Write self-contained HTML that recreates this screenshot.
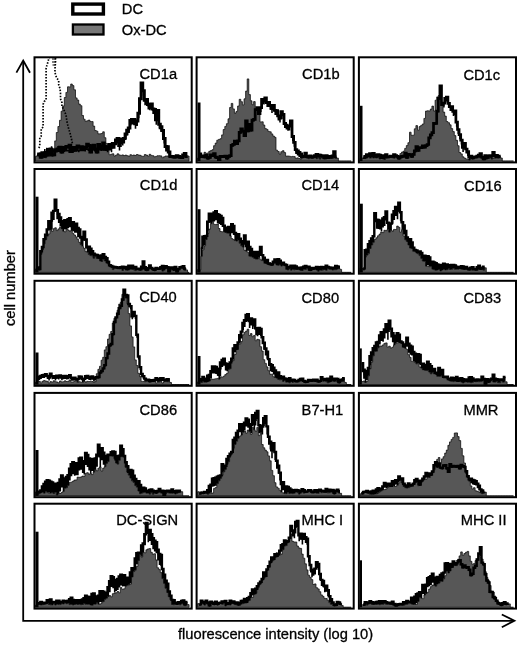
<!DOCTYPE html>
<html><head><meta charset="utf-8"><style>
html,body{margin:0;padding:0;background:#fff;overflow:hidden;width:520px;height:645px;}
svg{display:block;filter:grayscale(1);}
text{font-family:"Liberation Sans",sans-serif;fill:#000;stroke:#000;stroke-width:0.3px;}
.lb{font-size:14.7px;}
</style></head><body>
<svg width="520" height="645" viewBox="0 0 520 645">
<rect x="0" y="0" width="520" height="645" fill="#fff"/>
<!-- legend -->
<rect x="72.8" y="4.1" width="30.6" height="9.9" fill="#fff" stroke="#000" stroke-width="3.4"/>
<rect x="72.9" y="24.5" width="30.6" height="10.0" fill="#777" stroke="#000" stroke-width="2.3"/>
<text x="121.8" y="14.3" style="font-size:14.7px">DC</text>
<text x="121.8" y="34.6" style="font-size:14.7px">Ox-DC</text>
<!-- axes -->
<path d="M23.2,61 L23.2,620.8 L514,620.8" fill="none" stroke="#000" stroke-width="1.8"/>
<path d="M16.4,72.6 L23.2,60.6 L30,72.8" fill="none" stroke="#000" stroke-width="1.8"/>
<path d="M501.8,614.5 L514.4,620.8 L501.8,627.2" fill="none" stroke="#000" stroke-width="1.8"/>
<text x="178" y="638.8" style="font-size:14.7px">fluorescence intensity (log 10)</text>
<text transform="translate(14.8,326) rotate(-90)" style="font-size:14.7px">cell number</text>
<g>
<rect x="34.5" y="57.3" width="157.2" height="105.1" fill="#fff" stroke="none"/>
<polygon points="35.5,161.1 35.5,156.3 37.1,156.3 37.1,154.9 38.7,154.9 38.7,154.7 40.3,154.7 40.3,155.9 41.9,155.9 41.9,155.5 43.5,155.5 43.5,156.2 45.1,156.2 45.1,157.7 46.7,157.7 46.7,155.5 48.3,155.5 48.3,155.7 49.9,155.7 49.9,156.2 51.5,156.2 51.5,156.4 53.1,156.4 53.1,148.4 54.7,148.4 54.7,140.9 56.3,140.9 56.3,132.5 57.9,132.5 57.9,126.5 59.5,126.5 59.5,120.3 61.1,120.3 61.1,111.2 62.7,111.2 62.7,106.0 64.3,106.0 64.3,97.5 65.9,97.5 65.9,92.4 67.5,92.4 67.5,86.8 69.1,86.8 69.1,86.9 70.7,86.9 70.7,84.0 72.3,84.0 72.3,85.6 73.9,85.6 73.9,89.8 75.5,89.8 75.5,97.9 77.1,97.9 77.1,100.0 78.7,100.0 78.7,104.1 80.3,104.1 80.3,105.7 81.9,105.7 81.9,115.5 83.5,115.5 83.5,119.2 85.1,119.2 85.1,121.3 86.7,121.3 86.7,120.8 88.3,120.8 88.3,120.1 89.9,120.1 89.9,121.5 91.5,121.5 91.5,121.6 93.1,121.6 93.1,126.1 94.7,126.1 94.7,130.5 96.3,130.5 96.3,131.2 97.9,131.2 97.9,133.8 99.5,133.8 99.5,133.8 101.1,133.8 101.1,133.5 102.7,133.5 102.7,131.8 104.3,131.8 104.3,137.7 105.9,137.7 105.9,143.4 107.5,143.4 107.5,146.6 109.1,146.6 109.1,154.7 110.7,154.7 110.7,154.2 112.3,154.2 112.3,153.8 113.9,153.8 113.9,156.0 115.5,156.0 115.5,155.2 117.1,155.2 117.1,153.8 118.7,153.8 118.7,154.9 120.3,154.9 120.3,155.4 121.9,155.4 121.9,154.9 123.5,154.9 123.5,155.6 125.1,155.6 125.1,155.1 126.7,155.1 126.7,155.7 128.3,155.7 128.3,156.3 129.9,156.3 129.9,154.7 131.5,154.7 131.5,155.4 133.1,155.4 133.1,155.0 134.7,155.0 134.7,155.5 136.3,155.5 136.3,154.5 137.9,154.5 137.9,155.0 139.5,155.0 139.5,155.3 141.1,155.3 141.1,156.2 142.7,156.2 142.7,156.4 144.3,156.4 144.3,154.6 145.9,154.6 145.9,155.1 147.5,155.1 147.5,156.2 149.1,156.2 149.1,154.3 150.7,154.3 150.7,155.4 152.3,155.4 152.3,155.7 153.9,155.7 153.9,156.8 155.5,156.8 155.5,156.4 157.1,156.4 157.1,155.7 158.7,155.7 158.7,155.7 160.3,155.7 160.3,155.9 161.9,155.9 161.9,157.7 163.5,157.7 163.5,156.8 165.1,156.8 165.1,156.0 166.7,156.0 166.7,156.0 168.3,156.0 168.3,156.6 169.9,156.6 169.9,156.5 171.5,156.5 171.5,155.4 173.1,155.4 173.1,156.0 174.7,156.0 174.7,156.1 176.3,156.1 176.3,155.4 177.9,155.4 177.9,156.3 179.5,156.3 179.5,155.5 181.1,155.5 181.1,156.8 182.7,156.8 182.7,156.2 184.3,156.2 184.3,156.2 185.9,156.2 185.9,155.7 187.5,155.7 187.5,156.0 189.1,156.0 189.1,161.1" fill="#575757" stroke="#000" stroke-width="0.7"/>
<polygon points="37.1,154.6 38.7,154.6 38.7,153.9 40.3,153.9 40.3,157.2 41.9,157.2 41.9,152.7 43.5,152.7 43.5,156.2 45.1,156.2 45.1,152.6 46.7,152.6 46.7,155.1 48.3,155.1 48.3,153.2 49.9,153.2 49.9,149.1 51.5,149.1 51.5,154.8 53.1,154.8 53.1,154.8 54.7,154.8 54.7,150.9 56.3,150.9 56.3,150.0 57.9,150.0 57.9,149.7 59.5,149.7 59.5,147.3 61.1,147.3 61.1,151.9 62.7,151.9 62.7,147.4 64.3,147.4 64.3,148.4 65.9,148.4 65.9,146.5 67.5,146.5 67.5,146.9 69.1,146.9 69.1,145.2 70.7,145.2 70.7,151.6 72.3,151.6 72.3,147.6 73.9,147.6 73.9,150.2 75.5,150.2 75.5,147.6 77.1,147.6 77.1,146.0 78.7,146.0 78.7,147.2 80.3,147.2 80.3,146.8 81.9,146.8 81.9,148.5 83.5,148.5 83.5,147.3 85.1,147.3 85.1,147.3 86.7,147.3 86.7,144.3 88.3,144.3 88.3,145.6 89.9,145.6 89.9,151.9 91.5,151.9 91.5,146.0 93.1,146.0 93.1,145.3 94.7,145.3 94.7,149.1 96.3,149.1 96.3,152.1 97.9,152.1 97.9,144.5 99.5,144.5 99.5,147.5 101.1,147.5 101.1,146.1 102.7,146.1 102.7,142.9 104.3,142.9 104.3,149.3 105.9,149.3 105.9,147.0 107.5,147.0 107.5,147.0 109.1,147.0 109.1,144.6 110.7,144.6 110.7,147.3 112.3,147.3 112.3,143.6 113.9,143.6 113.9,143.7 115.5,143.7 115.5,139.9 117.1,139.9 117.1,138.6 118.7,138.6 118.7,145.4 120.3,145.4 120.3,138.9 121.9,138.9 121.9,140.6 123.5,140.6 123.5,138.5 125.1,138.5 125.1,133.9 126.7,133.9 126.7,130.2 128.3,130.2 128.3,128.0 129.9,128.0 129.9,120.4 131.5,120.4 131.5,119.4 133.1,119.4 133.1,119.5 134.7,119.5 134.7,123.7 136.3,123.7 136.3,121.1 137.9,121.1 137.9,113.2 139.5,113.2 139.5,98.8 141.1,98.8 141.1,82.9 142.7,82.9 142.7,90.8 144.3,90.8 144.3,100.3 145.9,100.3 145.9,99.5 147.5,99.5 147.5,104.4 149.1,104.4 149.1,105.3 150.7,105.3 150.7,104.0 152.3,104.0 152.3,108.9 153.9,108.9 153.9,109.5 155.5,109.5 155.5,119.7 157.1,119.7 157.1,110.6 158.7,110.6 158.7,124.2 160.3,124.2 160.3,126.7 161.9,126.7 161.9,130.5 163.5,130.5 163.5,138.5 165.1,138.5 165.1,146.6 166.7,146.6 166.7,146.7 168.3,146.7 168.3,151.9 169.9,151.9 169.9,156.5 171.5,156.5 171.5,156.4 173.1,156.4 173.1,157.0 174.7,157.0 174.7,156.9 176.3,156.9 176.3,155.7 177.9,155.7 177.9,156.6 179.5,156.6 179.5,157.3 181.1,157.3 181.1,157.5 182.7,157.5 182.7,155.1 184.3,155.1 184.3,153.5 185.9,153.5 185.9,156.4 187.5,156.4 187.5,157.9 185.9,157.9 185.9,156.2 184.3,156.2 184.3,156.5 182.7,156.5 182.7,158.9 181.1,158.9 181.1,158.7 179.5,158.7 179.5,158.1 177.9,158.1 177.9,157.2 176.3,157.2 176.3,158.4 174.7,158.4 174.7,158.5 173.1,158.5 173.1,157.8 171.5,157.8 171.5,157.9 169.9,157.9 169.9,156.6 168.3,156.6 168.3,151.7 166.7,151.7 166.7,151.6 165.1,151.6 165.1,143.5 163.5,143.5 163.5,135.5 161.9,135.5 161.9,131.7 160.3,131.7 160.3,129.2 158.7,129.2 158.7,115.6 157.1,115.6 157.1,124.7 155.5,124.7 155.5,114.5 153.9,114.5 153.9,113.9 152.3,113.9 152.3,109.0 150.7,109.0 150.7,110.3 149.1,110.3 149.1,109.4 147.5,109.4 147.5,104.5 145.9,104.5 145.9,105.3 144.3,105.3 144.3,95.8 142.7,95.8 142.7,87.9 141.1,87.9 141.1,103.8 139.5,103.8 139.5,118.2 137.9,118.2 137.9,126.1 136.3,126.1 136.3,128.7 134.7,128.7 134.7,124.5 133.1,124.5 133.1,124.4 131.5,124.4 131.5,125.4 129.9,125.4 129.9,133.0 128.3,133.0 128.3,135.2 126.7,135.2 126.7,138.9 125.1,138.9 125.1,143.5 123.5,143.5 123.5,145.6 121.9,145.6 121.9,143.9 120.3,143.9 120.3,150.4 118.7,150.4 118.7,143.6 117.1,143.6 117.1,144.9 115.5,144.9 115.5,148.7 113.9,148.7 113.9,148.6 112.3,148.6 112.3,152.3 110.7,152.3 110.7,149.6 109.1,149.6 109.1,148.5 107.5,148.5 107.5,148.5 105.9,148.5 105.9,150.7 104.3,150.7 104.3,144.4 102.7,144.4 102.7,147.6 101.1,147.6 101.1,148.9 99.5,148.9 99.5,145.9 97.9,145.9 97.9,153.5 96.3,153.5 96.3,150.6 94.7,150.6 94.7,146.7 93.1,146.7 93.1,147.4 91.5,147.4 91.5,153.3 89.9,153.3 89.9,147.0 88.3,147.0 88.3,145.8 86.7,145.8 86.7,148.8 85.1,148.8 85.1,148.8 83.5,148.8 83.5,149.9 81.9,149.9 81.9,148.3 80.3,148.3 80.3,148.6 78.7,148.6 78.7,147.4 77.1,147.4 77.1,149.0 75.5,149.0 75.5,151.7 73.9,151.7 73.9,149.1 72.3,149.1 72.3,153.0 70.7,153.0 70.7,146.7 69.1,146.7 69.1,148.3 67.5,148.3 67.5,147.9 65.9,147.9 65.9,149.8 64.3,149.8 64.3,148.9 62.7,148.9 62.7,153.4 61.1,153.4 61.1,148.7 59.5,148.7 59.5,151.2 57.9,151.2 57.9,151.4 56.3,151.4 56.3,152.4 54.7,152.4 54.7,156.2 53.1,156.2 53.1,156.4 51.5,156.4 51.5,154.1 49.9,154.1 49.9,155.7 48.3,155.7 48.3,156.5 46.7,156.5 46.7,157.6 45.1,157.6 45.1,157.7 43.5,157.7 43.5,155.5 41.9,155.5 41.9,158.6 40.3,158.6 40.3,155.4 38.7,155.4 38.7,156.1 37.1,156.1" fill="#000"/>
<polyline points="37.1,154.6 38.7,154.6 38.7,153.9 40.3,153.9 40.3,157.2 41.9,157.2 41.9,152.7 43.5,152.7 43.5,156.2 45.1,156.2 45.1,152.6 46.7,152.6 46.7,155.1 48.3,155.1 48.3,153.2 49.9,153.2 49.9,149.1 51.5,149.1 51.5,154.8 53.1,154.8 53.1,154.8 54.7,154.8 54.7,150.9 56.3,150.9 56.3,150.0 57.9,150.0 57.9,149.7 59.5,149.7 59.5,147.3 61.1,147.3 61.1,151.9 62.7,151.9 62.7,147.4 64.3,147.4 64.3,148.4 65.9,148.4 65.9,146.5 67.5,146.5 67.5,146.9 69.1,146.9 69.1,145.2 70.7,145.2 70.7,151.6 72.3,151.6 72.3,147.6 73.9,147.6 73.9,150.2 75.5,150.2 75.5,147.6 77.1,147.6 77.1,146.0 78.7,146.0 78.7,147.2 80.3,147.2 80.3,146.8 81.9,146.8 81.9,148.5 83.5,148.5 83.5,147.3 85.1,147.3 85.1,147.3 86.7,147.3 86.7,144.3 88.3,144.3 88.3,145.6 89.9,145.6 89.9,151.9 91.5,151.9 91.5,146.0 93.1,146.0 93.1,145.3 94.7,145.3 94.7,149.1 96.3,149.1 96.3,152.1 97.9,152.1 97.9,144.5 99.5,144.5 99.5,147.5 101.1,147.5 101.1,146.1 102.7,146.1 102.7,142.9 104.3,142.9 104.3,149.3 105.9,149.3 105.9,147.0 107.5,147.0 107.5,147.0 109.1,147.0 109.1,144.6 110.7,144.6 110.7,147.3 112.3,147.3 112.3,143.6 113.9,143.6 113.9,143.7 115.5,143.7 115.5,139.9 117.1,139.9 117.1,138.6 118.7,138.6 118.7,145.4 120.3,145.4 120.3,138.9 121.9,138.9 121.9,140.6 123.5,140.6 123.5,138.5 125.1,138.5 125.1,133.9 126.7,133.9 126.7,130.2 128.3,130.2 128.3,128.0 129.9,128.0 129.9,120.4 131.5,120.4 131.5,119.4 133.1,119.4 133.1,119.5 134.7,119.5 134.7,123.7 136.3,123.7 136.3,121.1 137.9,121.1 137.9,113.2 139.5,113.2 139.5,98.8 141.1,98.8 141.1,82.9 142.7,82.9 142.7,90.8 144.3,90.8 144.3,100.3 145.9,100.3 145.9,99.5 147.5,99.5 147.5,104.4 149.1,104.4 149.1,105.3 150.7,105.3 150.7,104.0 152.3,104.0 152.3,108.9 153.9,108.9 153.9,109.5 155.5,109.5 155.5,119.7 157.1,119.7 157.1,110.6 158.7,110.6 158.7,124.2 160.3,124.2 160.3,126.7 161.9,126.7 161.9,130.5 163.5,130.5 163.5,138.5 165.1,138.5 165.1,146.6 166.7,146.6 166.7,146.7 168.3,146.7 168.3,151.9 169.9,151.9 169.9,156.5 171.5,156.5 171.5,156.4 173.1,156.4 173.1,157.0 174.7,157.0 174.7,156.9 176.3,156.9 176.3,155.7 177.9,155.7 177.9,156.6 179.5,156.6 179.5,157.3 181.1,157.3 181.1,157.5 182.7,157.5 182.7,155.1 184.3,155.1 184.3,153.5 185.9,153.5 185.9,156.4 187.5,156.4" fill="none" stroke="#000" stroke-width="3.0" stroke-linejoin="miter"/>
<polygon points="36.0,157.6 37.6,157.6 37.6,153.9 39.2,153.9 39.2,152.6 40.8,152.6 40.8,152.5 42.4,152.5 42.4,152.3 44.0,152.3 44.0,149.1 45.6,149.1 45.6,153.7 44.0,153.7 44.0,153.2 42.4,153.2 42.4,155.6 40.8,155.6 40.8,157.1 39.2,157.1 39.2,156.6 37.6,156.6 37.6,157.6 36.0,157.6" fill="#000"/>
<polygon points="46.0,147.7 47.6,147.7 47.6,148.0 49.2,148.0 49.2,148.3 50.8,148.3 50.8,146.2 52.4,146.2 52.4,149.2 54.0,149.2 54.0,148.5 55.6,148.5 55.6,147.6 57.2,147.6 57.2,145.9 58.8,145.9 58.8,149.0 60.4,149.0 60.4,146.5 62.0,146.5 62.0,146.4 63.6,146.4 63.6,146.4 65.2,146.4 65.2,145.7 66.8,145.7 66.8,149.9 68.4,149.9 68.4,147.1 70.0,147.1 70.0,147.2 71.6,147.2 71.6,149.0 73.2,149.0 73.2,148.0 74.8,148.0 74.8,146.4 76.4,146.4 76.4,147.4 78.0,147.4 78.0,149.3 79.6,149.3 79.6,147.1 81.2,147.1 81.2,148.1 82.8,148.1 82.8,145.4 84.4,145.4 84.4,148.1 86.0,148.1 86.0,148.3 87.6,148.3 87.6,148.5 89.2,148.5 89.2,147.7 90.8,147.7 90.8,146.8 92.4,146.8 92.4,144.6 94.0,144.6 94.0,147.1 95.6,147.1 95.6,147.9 97.2,147.9 97.2,145.8 98.8,145.8 98.8,146.1 100.4,146.1 100.4,146.9 102.0,146.9 102.0,147.6 103.6,147.6 103.6,148.6 105.2,148.6 105.2,145.0 106.8,145.0 106.8,145.5 108.4,145.5 108.4,147.7 110.0,147.7 110.0,147.0 111.6,147.0 111.6,150.4 110.0,150.4 110.0,150.4 108.4,150.4 108.4,152.3 106.8,152.3 106.8,151.1 105.2,151.1 105.2,150.0 103.6,150.0 103.6,150.8 102.0,150.8 102.0,151.0 100.4,151.0 100.4,150.4 98.8,150.4 98.8,150.7 97.2,150.7 97.2,152.2 95.6,152.2 95.6,151.5 94.0,151.5 94.0,150.5 92.4,150.5 92.4,151.9 90.8,151.9 90.8,150.5 89.2,150.5 89.2,151.1 87.6,151.1 87.6,150.0 86.0,150.0 86.0,151.4 84.4,151.4 84.4,151.2 82.8,151.2 82.8,151.3 81.2,151.3 81.2,151.2 79.6,151.2 79.6,152.2 78.0,152.2 78.0,151.5 76.4,151.5 76.4,150.7 74.8,150.7 74.8,151.4 73.2,151.4 73.2,151.8 71.6,151.8 71.6,152.2 70.0,152.2 70.0,153.1 68.4,153.1 68.4,151.4 66.8,151.4 66.8,151.5 65.2,151.5 65.2,151.9 63.6,151.9 63.6,152.5 62.0,152.5 62.0,153.3 60.4,153.3 60.4,152.2 58.8,152.2 58.8,152.0 57.2,152.0 57.2,152.0 55.6,152.0 55.6,152.4 54.0,152.4 54.0,152.4 52.4,152.4 52.4,152.9 50.8,152.9 50.8,153.1 49.2,153.1 49.2,153.2 47.6,153.2 47.6,153.8 46.0,153.8" fill="#000"/>
<rect x="34.5" y="57.3" width="157.2" height="105.1" fill="none" stroke="#000" stroke-width="2.0"/>
<text x="139.5" y="78.7" class="lb">CD1a</text>
</g>
<g>
<rect x="196.6" y="57.3" width="157.1" height="105.1" fill="#fff" stroke="none"/>
<polygon points="197.6,161.1 197.6,158.1 199.2,158.1 199.2,157.7 200.8,157.7 200.8,157.5 202.4,157.5 202.4,154.7 204.0,154.7 204.0,152.3 205.6,152.3 205.6,153.3 207.2,153.3 207.2,153.0 208.8,153.0 208.8,151.3 210.4,151.3 210.4,150.6 212.0,150.6 212.0,149.7 213.6,149.7 213.6,145.7 215.2,145.7 215.2,143.1 216.8,143.1 216.8,140.2 218.4,140.2 218.4,139.4 220.0,139.4 220.0,138.7 221.6,138.7 221.6,134.9 223.2,134.9 223.2,129.5 224.8,129.5 224.8,126.4 226.4,126.4 226.4,123.7 228.0,123.7 228.0,118.8 229.6,118.8 229.6,107.5 231.2,107.5 231.2,103.4 232.8,103.4 232.8,108.9 234.4,108.9 234.4,113.1 236.0,113.1 236.0,111.4 237.6,111.4 237.6,106.0 239.2,106.0 239.2,99.3 240.8,99.3 240.8,101.7 242.4,101.7 242.4,104.9 244.0,104.9 244.0,98.8 245.6,98.8 245.6,91.1 247.2,91.1 247.2,78.9 248.8,78.9 248.8,94.6 250.4,94.6 250.4,100.8 252.0,100.8 252.0,104.7 253.6,104.7 253.6,101.6 255.2,101.6 255.2,109.0 256.8,109.0 256.8,110.6 258.4,110.6 258.4,113.2 260.0,113.2 260.0,121.9 261.6,121.9 261.6,121.8 263.2,121.8 263.2,125.0 264.8,125.0 264.8,128.6 266.4,128.6 266.4,129.4 268.0,129.4 268.0,131.4 269.6,131.4 269.6,131.8 271.2,131.8 271.2,133.9 272.8,133.9 272.8,136.0 274.4,136.0 274.4,137.3 276.0,137.3 276.0,150.2 277.6,150.2 277.6,151.5 279.2,151.5 279.2,154.0 280.8,154.0 280.8,151.7 282.4,151.7 282.4,150.7 284.0,150.7 284.0,152.6 285.6,152.6 285.6,156.1 287.2,156.1 287.2,156.0 288.8,156.0 288.8,156.2 290.4,156.2 290.4,156.7 292.0,156.7 292.0,156.4 293.6,156.4 293.6,156.6 295.2,156.6 295.2,158.3 296.8,158.3 296.8,157.9 298.4,157.9 298.4,158.4 300.0,158.4 300.0,159.1 301.6,159.1 301.6,157.9 303.2,157.9 303.2,157.4 304.8,157.4 304.8,157.2 306.4,157.2 306.4,158.1 308.0,158.1 308.0,158.7 309.6,158.7 309.6,157.0 311.2,157.0 311.2,158.1 312.8,158.1 312.8,157.6 314.4,157.6 314.4,157.4 316.0,157.4 316.0,158.7 317.6,158.7 317.6,157.7 319.2,157.7 319.2,159.1 320.8,159.1 320.8,157.6 322.4,157.6 322.4,158.4 324.0,158.4 324.0,157.9 325.6,157.9 325.6,157.6 327.2,157.6 327.2,158.5 328.8,158.5 328.8,158.0 330.4,158.0 330.4,158.5 332.0,158.5 332.0,158.1 333.6,158.1 333.6,157.3 335.2,157.3 335.2,158.0 336.8,158.0 336.8,158.1 338.4,158.1 338.4,161.1 340.0,161.1 340.0,161.1 341.6,161.1 341.6,161.1 343.2,161.1 343.2,161.1 344.8,161.1 344.8,161.1 346.4,161.1 346.4,161.1 348.0,161.1 348.0,161.1 349.6,161.1 349.6,161.1 351.2,161.1 351.2,161.1" fill="#575757" stroke="#000" stroke-width="0.7"/>
<polygon points="199.2,154.0 200.8,154.0 200.8,156.5 202.4,156.5 202.4,156.3 204.0,156.3 204.0,156.8 205.6,156.8 205.6,155.3 207.2,155.3 207.2,158.2 208.8,158.2 208.8,157.4 210.4,157.4 210.4,154.8 212.0,154.8 212.0,155.7 213.6,155.7 213.6,153.6 215.2,153.6 215.2,157.1 216.8,157.1 216.8,157.7 218.4,157.7 218.4,159.6 220.0,159.6 220.0,156.3 221.6,156.3 221.6,156.5 223.2,156.5 223.2,156.5 224.8,156.5 224.8,156.2 226.4,156.2 226.4,158.2 228.0,158.2 228.0,156.3 229.6,156.3 229.6,155.7 231.2,155.7 231.2,145.4 232.8,145.4 232.8,144.3 234.4,144.3 234.4,141.2 236.0,141.2 236.0,143.6 237.6,143.6 237.6,140.8 239.2,140.8 239.2,132.3 240.8,132.3 240.8,129.0 242.4,129.0 242.4,131.2 244.0,131.2 244.0,135.7 245.6,135.7 245.6,121.0 247.2,121.0 247.2,130.8 248.8,130.8 248.8,124.5 250.4,124.5 250.4,130.0 252.0,130.0 252.0,120.2 253.6,120.2 253.6,119.4 255.2,119.4 255.2,109.6 256.8,109.6 256.8,107.7 258.4,107.7 258.4,113.6 260.0,113.6 260.0,107.6 261.6,107.6 261.6,99.4 263.2,99.4 263.2,99.9 264.8,99.9 264.8,98.0 266.4,98.0 266.4,102.5 268.0,102.5 268.0,102.4 269.6,102.4 269.6,105.3 271.2,105.3 271.2,108.4 272.8,108.4 272.8,105.4 274.4,105.4 274.4,110.4 276.0,110.4 276.0,110.6 277.6,110.6 277.6,115.9 279.2,115.9 279.2,118.1 280.8,118.1 280.8,111.7 282.4,111.7 282.4,114.5 284.0,114.5 284.0,123.5 285.6,123.5 285.6,125.1 287.2,125.1 287.2,126.2 288.8,126.2 288.8,126.1 290.4,126.1 290.4,121.0 292.0,121.0 292.0,136.5 293.6,136.5 293.6,142.3 295.2,142.3 295.2,149.6 296.8,149.6 296.8,151.0 298.4,151.0 298.4,152.4 300.0,152.4 300.0,154.0 301.6,154.0 301.6,156.7 303.2,156.7 303.2,156.1 304.8,156.1 304.8,153.1 306.4,153.1 306.4,156.6 308.0,156.6 308.0,156.5 309.6,156.5 309.6,155.9 311.2,155.9 311.2,157.2 312.8,157.2 312.8,156.7 314.4,156.7 314.4,155.7 316.0,155.7 316.0,154.4 317.6,154.4 317.6,154.9 319.2,154.9 319.2,155.2 320.8,155.2 320.8,155.7 322.4,155.7 322.4,156.0 324.0,156.0 324.0,157.8 325.6,157.8 325.6,155.6 327.2,155.6 327.2,157.5 328.8,157.5 328.8,156.5 330.4,156.5 330.4,157.2 332.0,157.2 332.0,155.9 333.6,155.9 333.6,151.6 335.2,151.6 335.2,156.9 336.8,156.9 336.8,158.3 335.2,158.3 335.2,156.1 333.6,156.1 333.6,158.1 332.0,158.1 332.0,158.6 330.4,158.6 330.4,158.0 328.8,158.0 328.8,159.0 327.2,159.0 327.2,157.6 325.6,157.6 325.6,159.3 324.0,159.3 324.0,158.4 322.4,158.4 322.4,157.6 320.8,157.6 320.8,159.1 319.2,159.1 319.2,157.7 317.6,157.7 317.6,158.7 316.0,158.7 316.0,157.4 314.4,157.4 314.4,158.2 312.8,158.2 312.8,158.6 311.2,158.6 311.2,157.4 309.6,157.4 309.6,158.7 308.0,158.7 308.0,158.1 306.4,158.1 306.4,157.2 304.8,157.2 304.8,157.6 303.2,157.6 303.2,158.1 301.6,158.1 301.6,158.5 300.0,158.5 300.0,156.9 298.4,156.9 298.4,155.5 296.8,155.5 296.8,154.1 295.2,154.1 295.2,146.8 293.6,146.8 293.6,141.0 292.0,141.0 292.0,125.5 290.4,125.5 290.4,130.6 288.8,130.6 288.8,130.7 287.2,130.7 287.2,129.6 285.6,129.6 285.6,128.0 284.0,128.0 284.0,119.0 282.4,119.0 282.4,116.2 280.8,116.2 280.8,122.6 279.2,122.6 279.2,120.4 277.6,120.4 277.6,115.1 276.0,115.1 276.0,114.9 274.4,114.9 274.4,109.9 272.8,109.9 272.8,112.9 271.2,112.9 271.2,109.8 269.6,109.8 269.6,106.9 268.0,106.9 268.0,107.0 266.4,107.0 266.4,102.5 264.8,102.5 264.8,104.4 263.2,104.4 263.2,103.9 261.6,103.9 261.6,112.1 260.0,112.1 260.0,115.0 258.4,115.0 258.4,110.6 256.8,110.6 256.8,111.0 255.2,111.0 255.2,120.9 253.6,120.9 253.6,121.7 252.0,121.7 252.0,131.4 250.4,131.4 250.4,125.9 248.8,125.9 248.8,132.3 247.2,132.3 247.2,122.5 245.6,122.5 245.6,137.1 244.0,137.1 244.0,132.6 242.4,132.6 242.4,130.5 240.8,130.5 240.8,133.7 239.2,133.7 239.2,142.2 237.6,142.2 237.6,145.1 236.0,145.1 236.0,142.6 234.4,142.6 234.4,145.7 232.8,145.7 232.8,146.8 231.2,146.8 231.2,157.2 229.6,157.2 229.6,157.8 228.0,157.8 228.0,159.7 226.4,159.7 226.4,157.7 224.8,157.7 224.8,157.9 223.2,157.9 223.2,157.9 221.6,157.9 221.6,157.8 220.0,157.8 220.0,161.0 218.4,161.0 218.4,159.1 216.8,159.1 216.8,158.5 215.2,158.5 215.2,155.1 213.6,155.1 213.6,157.1 212.0,157.1 212.0,156.2 210.4,156.2 210.4,158.9 208.8,158.9 208.8,159.7 207.2,159.7 207.2,156.8 205.6,156.8 205.6,158.2 204.0,158.2 204.0,157.7 202.4,157.7 202.4,157.9 200.8,157.9 200.8,157.7 199.2,157.7" fill="#000"/>
<polyline points="199.2,154.0 200.8,154.0 200.8,156.5 202.4,156.5 202.4,156.3 204.0,156.3 204.0,156.8 205.6,156.8 205.6,155.3 207.2,155.3 207.2,158.2 208.8,158.2 208.8,157.4 210.4,157.4 210.4,154.8 212.0,154.8 212.0,155.7 213.6,155.7 213.6,153.6 215.2,153.6 215.2,157.1 216.8,157.1 216.8,157.7 218.4,157.7 218.4,159.6 220.0,159.6 220.0,156.3 221.6,156.3 221.6,156.5 223.2,156.5 223.2,156.5 224.8,156.5 224.8,156.2 226.4,156.2 226.4,158.2 228.0,158.2 228.0,156.3 229.6,156.3 229.6,155.7 231.2,155.7 231.2,145.4 232.8,145.4 232.8,144.3 234.4,144.3 234.4,141.2 236.0,141.2 236.0,143.6 237.6,143.6 237.6,140.8 239.2,140.8 239.2,132.3 240.8,132.3 240.8,129.0 242.4,129.0 242.4,131.2 244.0,131.2 244.0,135.7 245.6,135.7 245.6,121.0 247.2,121.0 247.2,130.8 248.8,130.8 248.8,124.5 250.4,124.5 250.4,130.0 252.0,130.0 252.0,120.2 253.6,120.2 253.6,119.4 255.2,119.4 255.2,109.6 256.8,109.6 256.8,107.7 258.4,107.7 258.4,113.6 260.0,113.6 260.0,107.6 261.6,107.6 261.6,99.4 263.2,99.4 263.2,99.9 264.8,99.9 264.8,98.0 266.4,98.0 266.4,102.5 268.0,102.5 268.0,102.4 269.6,102.4 269.6,105.3 271.2,105.3 271.2,108.4 272.8,108.4 272.8,105.4 274.4,105.4 274.4,110.4 276.0,110.4 276.0,110.6 277.6,110.6 277.6,115.9 279.2,115.9 279.2,118.1 280.8,118.1 280.8,111.7 282.4,111.7 282.4,114.5 284.0,114.5 284.0,123.5 285.6,123.5 285.6,125.1 287.2,125.1 287.2,126.2 288.8,126.2 288.8,126.1 290.4,126.1 290.4,121.0 292.0,121.0 292.0,136.5 293.6,136.5 293.6,142.3 295.2,142.3 295.2,149.6 296.8,149.6 296.8,151.0 298.4,151.0 298.4,152.4 300.0,152.4 300.0,154.0 301.6,154.0 301.6,156.7 303.2,156.7 303.2,156.1 304.8,156.1 304.8,153.1 306.4,153.1 306.4,156.6 308.0,156.6 308.0,156.5 309.6,156.5 309.6,155.9 311.2,155.9 311.2,157.2 312.8,157.2 312.8,156.7 314.4,156.7 314.4,155.7 316.0,155.7 316.0,154.4 317.6,154.4 317.6,154.9 319.2,154.9 319.2,155.2 320.8,155.2 320.8,155.7 322.4,155.7 322.4,156.0 324.0,156.0 324.0,157.8 325.6,157.8 325.6,155.6 327.2,155.6 327.2,157.5 328.8,157.5 328.8,156.5 330.4,156.5 330.4,157.2 332.0,157.2 332.0,155.9 333.6,155.9 333.6,151.6 335.2,151.6 335.2,156.9 336.8,156.9" fill="none" stroke="#000" stroke-width="2.8" stroke-linejoin="miter"/>
<rect x="197.6" y="102.5" width="2.9" height="58.6" fill="#000"/>
<rect x="196.6" y="57.3" width="157.1" height="105.1" fill="none" stroke="#000" stroke-width="2.0"/>
<text x="302.1" y="78.9" class="lb">CD1b</text>
</g>
<g>
<rect x="358.9" y="57.3" width="157.1" height="105.1" fill="#fff" stroke="none"/>
<polygon points="359.9,161.1 359.9,158.5 361.5,158.5 361.5,158.0 363.1,158.0 363.1,158.4 364.7,158.4 364.7,158.6 366.3,158.6 366.3,157.9 367.9,157.9 367.9,156.9 369.5,156.9 369.5,158.4 371.1,158.4 371.1,157.6 372.7,157.6 372.7,157.9 374.3,157.9 374.3,157.7 375.9,157.7 375.9,157.9 377.5,157.9 377.5,156.5 379.1,156.5 379.1,159.0 380.7,159.0 380.7,158.3 382.3,158.3 382.3,158.9 383.9,158.9 383.9,159.5 385.5,159.5 385.5,158.1 387.1,158.1 387.1,156.8 388.7,156.8 388.7,157.5 390.3,157.5 390.3,157.3 391.9,157.3 391.9,157.7 393.5,157.7 393.5,158.2 395.1,158.2 395.1,156.7 396.7,156.7 396.7,158.3 398.3,158.3 398.3,157.0 399.9,157.0 399.9,153.6 401.5,153.6 401.5,152.1 403.1,152.1 403.1,151.2 404.7,151.2 404.7,148.4 406.3,148.4 406.3,145.6 407.9,145.6 407.9,142.7 409.5,142.7 409.5,132.2 411.1,132.2 411.1,135.3 412.7,135.3 412.7,135.2 414.3,135.2 414.3,128.8 415.9,128.8 415.9,125.6 417.5,125.6 417.5,130.2 419.1,130.2 419.1,126.6 420.7,126.6 420.7,125.4 422.3,125.4 422.3,124.0 423.9,124.0 423.9,118.4 425.5,118.4 425.5,111.1 427.1,111.1 427.1,110.8 428.7,110.8 428.7,110.9 430.3,110.9 430.3,109.1 431.9,109.1 431.9,106.1 433.5,106.1 433.5,111.0 435.1,111.0 435.1,100.2 436.7,100.2 436.7,96.9 438.3,96.9 438.3,95.5 439.9,95.5 439.9,93.3 441.5,93.3 441.5,103.7 443.1,103.7 443.1,112.1 444.7,112.1 444.7,116.1 446.3,116.1 446.3,121.5 447.9,121.5 447.9,122.7 449.5,122.7 449.5,124.8 451.1,124.8 451.1,128.6 452.7,128.6 452.7,131.6 454.3,131.6 454.3,135.6 455.9,135.6 455.9,140.3 457.5,140.3 457.5,145.7 459.1,145.7 459.1,152.5 460.7,152.5 460.7,153.9 462.3,153.9 462.3,156.8 463.9,156.8 463.9,158.0 465.5,158.0 465.5,158.9 467.1,158.9 467.1,158.9 468.7,158.9 468.7,160.0 470.3,160.0 470.3,158.3 471.9,158.3 471.9,158.0 473.5,158.0 473.5,157.9 475.1,157.9 475.1,158.0 476.7,158.0 476.7,157.7 478.3,157.7 478.3,157.7 479.9,157.7 479.9,156.9 481.5,156.9 481.5,158.1 483.1,158.1 483.1,159.4 484.7,159.4 484.7,159.5 486.3,159.5 486.3,159.0 487.9,159.0 487.9,158.6 489.5,158.6 489.5,157.6 491.1,157.6 491.1,159.1 492.7,159.1 492.7,158.1 494.3,158.1 494.3,158.1 495.9,158.1 495.9,157.9 497.5,157.9 497.5,158.2 499.1,158.2 499.1,157.8 500.7,157.8 500.7,158.0 502.3,158.0 502.3,161.1 503.9,161.1 503.9,161.1 505.5,161.1 505.5,161.1 507.1,161.1 507.1,161.1 508.7,161.1 508.7,161.1 510.3,161.1 510.3,161.1 511.9,161.1 511.9,161.1 513.5,161.1 513.5,161.1" fill="#575757" stroke="#000" stroke-width="0.7"/>
<polygon points="363.1,157.5 364.7,157.5 364.7,156.4 366.3,156.4 366.3,154.6 367.9,154.6 367.9,155.7 369.5,155.7 369.5,153.5 371.1,153.5 371.1,155.4 372.7,155.4 372.7,153.4 374.3,153.4 374.3,154.9 375.9,154.9 375.9,156.4 377.5,156.4 377.5,154.7 379.1,154.7 379.1,155.1 380.7,155.1 380.7,157.6 382.3,157.6 382.3,155.7 383.9,155.7 383.9,155.7 385.5,155.7 385.5,154.5 387.1,154.5 387.1,156.9 388.7,156.9 388.7,156.5 390.3,156.5 390.3,156.2 391.9,156.2 391.9,156.3 393.5,156.3 393.5,154.7 395.1,154.7 395.1,155.5 396.7,155.5 396.7,156.3 398.3,156.3 398.3,158.2 399.9,158.2 399.9,157.0 401.5,157.0 401.5,156.4 403.1,156.4 403.1,156.1 404.7,156.1 404.7,153.0 406.3,153.0 406.3,157.5 407.9,157.5 407.9,154.3 409.5,154.3 409.5,154.9 411.1,154.9 411.1,156.5 412.7,156.5 412.7,154.4 414.3,154.4 414.3,150.9 415.9,150.9 415.9,146.6 417.5,146.6 417.5,150.4 419.1,150.4 419.1,147.6 420.7,147.6 420.7,147.6 422.3,147.6 422.3,145.9 423.9,145.9 423.9,147.1 425.5,147.1 425.5,145.7 427.1,145.7 427.1,144.5 428.7,144.5 428.7,137.8 430.3,137.8 430.3,134.9 431.9,134.9 431.9,132.7 433.5,132.7 433.5,123.4 435.1,123.4 435.1,123.4 436.7,123.4 436.7,111.2 438.3,111.2 438.3,98.3 439.9,98.3 439.9,85.9 441.5,85.9 441.5,104.6 443.1,104.6 443.1,103.1 444.7,103.1 444.7,98.4 446.3,98.4 446.3,97.0 447.9,97.0 447.9,103.4 449.5,103.4 449.5,106.5 451.1,106.5 451.1,106.5 452.7,106.5 452.7,111.5 454.3,111.5 454.3,110.8 455.9,110.8 455.9,122.2 457.5,122.2 457.5,129.5 459.1,129.5 459.1,134.7 460.7,134.7 460.7,140.1 462.3,140.1 462.3,147.4 463.9,147.4 463.9,143.3 465.5,143.3 465.5,149.0 467.1,149.0 467.1,151.6 468.7,151.6 468.7,156.8 470.3,156.8 470.3,156.0 471.9,156.0 471.9,158.0 473.5,158.0 473.5,157.0 475.1,157.0 475.1,156.9 476.7,156.9 476.7,156.0 478.3,156.0 478.3,155.2 479.9,155.2 479.9,153.7 481.5,153.7 481.5,157.2 483.1,157.2 483.1,158.9 484.7,158.9 484.7,155.5 486.3,155.5 486.3,157.3 487.9,157.3 487.9,155.9 489.5,155.9 489.5,155.7 491.1,155.7 491.1,156.1 492.7,156.1 492.7,152.4 494.3,152.4 494.3,156.0 495.9,156.0 495.9,155.3 497.5,155.3 497.5,156.6 499.1,156.6 499.1,156.1 500.7,156.1 500.7,157.8 499.1,157.8 499.1,158.2 497.5,158.2 497.5,157.9 495.9,157.9 495.9,158.1 494.3,158.1 494.3,156.9 492.7,156.9 492.7,159.1 491.1,159.1 491.1,157.6 489.5,157.6 489.5,158.6 487.9,158.6 487.9,159.0 486.3,159.0 486.3,159.5 484.7,159.5 484.7,160.3 483.1,160.3 483.1,158.6 481.5,158.6 481.5,156.9 479.9,156.9 479.9,157.7 478.3,157.7 478.3,157.7 476.7,157.7 476.7,158.3 475.1,158.3 475.1,158.4 473.5,158.4 473.5,159.4 471.9,159.4 471.9,158.3 470.3,158.3 470.3,160.0 468.7,160.0 468.7,156.1 467.1,156.1 467.1,153.5 465.5,153.5 465.5,147.8 463.9,147.8 463.9,151.9 462.3,151.9 462.3,144.6 460.7,144.6 460.7,139.2 459.1,139.2 459.1,134.0 457.5,134.0 457.5,126.7 455.9,126.7 455.9,115.3 454.3,115.3 454.3,116.0 452.7,116.0 452.7,111.0 451.1,111.0 451.1,111.0 449.5,111.0 449.5,107.9 447.9,107.9 447.9,101.5 446.3,101.5 446.3,102.9 444.7,102.9 444.7,107.6 443.1,107.6 443.1,106.1 441.5,106.1 441.5,90.4 439.9,90.4 439.9,99.7 438.3,99.7 438.3,112.7 436.7,112.7 436.7,124.8 435.1,124.8 435.1,124.8 433.5,124.8 433.5,134.1 431.9,134.1 431.9,136.4 430.3,136.4 430.3,139.2 428.7,139.2 428.7,146.0 427.1,146.0 427.1,147.1 425.5,147.1 425.5,148.5 423.9,148.5 423.9,147.4 422.3,147.4 422.3,149.0 420.7,149.0 420.7,149.0 419.1,149.0 419.1,151.8 417.5,151.8 417.5,148.0 415.9,148.0 415.9,152.4 414.3,152.4 414.3,155.9 412.7,155.9 412.7,158.0 411.1,158.0 411.1,156.3 409.5,156.3 409.5,155.7 407.9,155.7 407.9,158.9 406.3,158.9 406.3,154.4 404.7,154.4 404.7,157.6 403.1,157.6 403.1,157.8 401.5,157.8 401.5,158.4 399.9,158.4 399.9,159.7 398.3,159.7 398.3,158.3 396.7,158.3 396.7,157.0 395.1,157.0 395.1,158.2 393.5,158.2 393.5,157.8 391.9,157.8 391.9,157.6 390.3,157.6 390.3,157.9 388.7,157.9 388.7,158.3 387.1,158.3 387.1,158.1 385.5,158.1 385.5,159.5 383.9,159.5 383.9,158.9 382.3,158.9 382.3,159.0 380.7,159.0 380.7,159.0 379.1,159.0 379.1,156.5 377.5,156.5 377.5,157.9 375.9,157.9 375.9,157.7 374.3,157.7 374.3,157.9 372.7,157.9 372.7,157.6 371.1,157.6 371.1,158.0 369.5,158.0 369.5,157.1 367.9,157.1 367.9,157.9 366.3,157.9 366.3,158.6 364.7,158.6 364.7,159.0 363.1,159.0" fill="#000"/>
<polyline points="363.1,157.5 364.7,157.5 364.7,156.4 366.3,156.4 366.3,154.6 367.9,154.6 367.9,155.7 369.5,155.7 369.5,153.5 371.1,153.5 371.1,155.4 372.7,155.4 372.7,153.4 374.3,153.4 374.3,154.9 375.9,154.9 375.9,156.4 377.5,156.4 377.5,154.7 379.1,154.7 379.1,155.1 380.7,155.1 380.7,157.6 382.3,157.6 382.3,155.7 383.9,155.7 383.9,155.7 385.5,155.7 385.5,154.5 387.1,154.5 387.1,156.9 388.7,156.9 388.7,156.5 390.3,156.5 390.3,156.2 391.9,156.2 391.9,156.3 393.5,156.3 393.5,154.7 395.1,154.7 395.1,155.5 396.7,155.5 396.7,156.3 398.3,156.3 398.3,158.2 399.9,158.2 399.9,157.0 401.5,157.0 401.5,156.4 403.1,156.4 403.1,156.1 404.7,156.1 404.7,153.0 406.3,153.0 406.3,157.5 407.9,157.5 407.9,154.3 409.5,154.3 409.5,154.9 411.1,154.9 411.1,156.5 412.7,156.5 412.7,154.4 414.3,154.4 414.3,150.9 415.9,150.9 415.9,146.6 417.5,146.6 417.5,150.4 419.1,150.4 419.1,147.6 420.7,147.6 420.7,147.6 422.3,147.6 422.3,145.9 423.9,145.9 423.9,147.1 425.5,147.1 425.5,145.7 427.1,145.7 427.1,144.5 428.7,144.5 428.7,137.8 430.3,137.8 430.3,134.9 431.9,134.9 431.9,132.7 433.5,132.7 433.5,123.4 435.1,123.4 435.1,123.4 436.7,123.4 436.7,111.2 438.3,111.2 438.3,98.3 439.9,98.3 439.9,85.9 441.5,85.9 441.5,104.6 443.1,104.6 443.1,103.1 444.7,103.1 444.7,98.4 446.3,98.4 446.3,97.0 447.9,97.0 447.9,103.4 449.5,103.4 449.5,106.5 451.1,106.5 451.1,106.5 452.7,106.5 452.7,111.5 454.3,111.5 454.3,110.8 455.9,110.8 455.9,122.2 457.5,122.2 457.5,129.5 459.1,129.5 459.1,134.7 460.7,134.7 460.7,140.1 462.3,140.1 462.3,147.4 463.9,147.4 463.9,143.3 465.5,143.3 465.5,149.0 467.1,149.0 467.1,151.6 468.7,151.6 468.7,156.8 470.3,156.8 470.3,156.0 471.9,156.0 471.9,158.0 473.5,158.0 473.5,157.0 475.1,157.0 475.1,156.9 476.7,156.9 476.7,156.0 478.3,156.0 478.3,155.2 479.9,155.2 479.9,153.7 481.5,153.7 481.5,157.2 483.1,157.2 483.1,158.9 484.7,158.9 484.7,155.5 486.3,155.5 486.3,157.3 487.9,157.3 487.9,155.9 489.5,155.9 489.5,155.7 491.1,155.7 491.1,156.1 492.7,156.1 492.7,152.4 494.3,152.4 494.3,156.0 495.9,156.0 495.9,155.3 497.5,155.3 497.5,156.6 499.1,156.6 499.1,156.1 500.7,156.1" fill="none" stroke="#000" stroke-width="2.7" stroke-linejoin="miter"/>
<rect x="359.9" y="105.8" width="2.6" height="55.3" fill="#000"/>
<rect x="358.9" y="57.3" width="157.1" height="105.1" fill="none" stroke="#000" stroke-width="2.0"/>
<text x="463.4" y="79.5" class="lb">CD1c</text>
</g>
<g>
<rect x="34.5" y="169.0" width="157.2" height="104.7" fill="#fff" stroke="none"/>
<polygon points="35.5,272.4 35.5,268.9 37.1,268.9 37.1,268.9 38.7,268.9 38.7,269.2 40.3,269.2 40.3,254.4 41.9,254.4 41.9,249.7 43.5,249.7 43.5,243.8 45.1,243.8 45.1,239.5 46.7,239.5 46.7,236.1 48.3,236.1 48.3,233.9 49.9,233.9 49.9,229.3 51.5,229.3 51.5,231.3 53.1,231.3 53.1,228.7 54.7,228.7 54.7,227.8 56.3,227.8 56.3,230.6 57.9,230.6 57.9,228.9 59.5,228.9 59.5,227.3 61.1,227.3 61.1,228.7 62.7,228.7 62.7,231.2 64.3,231.2 64.3,231.8 65.9,231.8 65.9,228.9 67.5,228.9 67.5,229.9 69.1,229.9 69.1,231.1 70.7,231.1 70.7,230.5 72.3,230.5 72.3,233.4 73.9,233.4 73.9,235.0 75.5,235.0 75.5,236.9 77.1,236.9 77.1,239.3 78.7,239.3 78.7,242.3 80.3,242.3 80.3,244.7 81.9,244.7 81.9,246.4 83.5,246.4 83.5,248.3 85.1,248.3 85.1,251.6 86.7,251.6 86.7,252.2 88.3,252.2 88.3,254.5 89.9,254.5 89.9,255.6 91.5,255.6 91.5,255.8 93.1,255.8 93.1,258.3 94.7,258.3 94.7,256.1 96.3,256.1 96.3,258.4 97.9,258.4 97.9,258.2 99.5,258.2 99.5,260.9 101.1,260.9 101.1,261.5 102.7,261.5 102.7,259.1 104.3,259.1 104.3,260.9 105.9,260.9 105.9,263.1 107.5,263.1 107.5,264.0 109.1,264.0 109.1,266.2 110.7,266.2 110.7,267.1 112.3,267.1 112.3,269.6 113.9,269.6 113.9,268.4 115.5,268.4 115.5,268.2 117.1,268.2 117.1,268.7 118.7,268.7 118.7,268.0 120.3,268.0 120.3,268.7 121.9,268.7 121.9,270.5 123.5,270.5 123.5,268.7 125.1,268.7 125.1,269.9 126.7,269.9 126.7,268.4 128.3,268.4 128.3,269.6 129.9,269.6 129.9,269.2 131.5,269.2 131.5,269.4 133.1,269.4 133.1,269.8 134.7,269.8 134.7,270.6 136.3,270.6 136.3,269.5 137.9,269.5 137.9,269.5 139.5,269.5 139.5,268.7 141.1,268.7 141.1,269.8 142.7,269.8 142.7,269.2 144.3,269.2 144.3,270.0 145.9,270.0 145.9,269.4 147.5,269.4 147.5,270.6 149.1,270.6 149.1,268.0 150.7,268.0 150.7,269.2 152.3,269.2 152.3,270.0 153.9,270.0 153.9,269.2 155.5,269.2 155.5,268.8 157.1,268.8 157.1,269.2 158.7,269.2 158.7,268.4 160.3,268.4 160.3,269.5 161.9,269.5 161.9,271.1 163.5,271.1 163.5,270.2 165.1,270.2 165.1,268.6 166.7,268.6 166.7,268.8 168.3,268.8 168.3,269.1 169.9,269.1 169.9,270.1 171.5,270.1 171.5,268.8 173.1,268.8 173.1,268.9 174.7,268.9 174.7,270.0 176.3,270.0 176.3,270.0 177.9,270.0 177.9,269.1 179.5,269.1 179.5,268.6 181.1,268.6 181.1,268.3 182.7,268.3 182.7,268.9 184.3,268.9 184.3,267.8 185.9,267.8 185.9,269.9 187.5,269.9 187.5,272.4 189.1,272.4 189.1,272.4" fill="#575757" stroke="#000" stroke-width="0.7"/>
<polygon points="37.1,267.4 38.7,267.4 38.7,269.0 40.3,269.0 40.3,251.2 41.9,251.2 41.9,247.0 43.5,247.0 43.5,239.1 45.1,239.1 45.1,234.6 46.7,234.6 46.7,229.4 48.3,229.4 48.3,221.3 49.9,221.3 49.9,228.2 51.5,228.2 51.5,212.7 53.1,212.7 53.1,210.9 54.7,210.9 54.7,199.6 56.3,199.6 56.3,210.3 57.9,210.3 57.9,213.9 59.5,213.9 59.5,217.4 61.1,217.4 61.1,221.1 62.7,221.1 62.7,227.5 64.3,227.5 64.3,220.3 65.9,220.3 65.9,224.2 67.5,224.2 67.5,219.3 69.1,219.3 69.1,218.2 70.7,218.2 70.7,222.2 72.3,222.2 72.3,222.2 73.9,222.2 73.9,223.7 75.5,223.7 75.5,223.8 77.1,223.8 77.1,227.9 78.7,227.9 78.7,229.5 80.3,229.5 80.3,237.2 81.9,237.2 81.9,237.0 83.5,237.0 83.5,231.8 85.1,231.8 85.1,239.5 86.7,239.5 86.7,247.1 88.3,247.1 88.3,246.7 89.9,246.7 89.9,248.7 91.5,248.7 91.5,251.2 93.1,251.2 93.1,253.8 94.7,253.8 94.7,254.8 96.3,254.8 96.3,254.9 97.9,254.9 97.9,257.4 99.5,257.4 99.5,255.6 101.1,255.6 101.1,255.5 102.7,255.5 102.7,254.3 104.3,254.3 104.3,256.9 105.9,256.9 105.9,258.1 107.5,258.1 107.5,261.6 109.1,261.6 109.1,265.3 110.7,265.3 110.7,266.0 112.3,266.0 112.3,266.6 113.9,266.6 113.9,266.9 115.5,266.9 115.5,267.1 117.1,267.1 117.1,267.5 118.7,267.5 118.7,267.9 120.3,267.9 120.3,267.2 121.9,267.2 121.9,266.8 123.5,266.8 123.5,267.5 125.1,267.5 125.1,267.0 126.7,267.0 126.7,269.1 128.3,269.1 128.3,265.8 129.9,265.8 129.9,266.6 131.5,266.6 131.5,265.8 133.1,265.8 133.1,267.9 134.7,267.9 134.7,266.9 136.3,266.9 136.3,268.9 137.9,268.9 137.9,268.8 139.5,268.8 139.5,269.3 141.1,269.3 141.1,266.8 142.7,266.8 142.7,261.4 144.3,261.4 144.3,267.2 145.9,267.2 145.9,269.7 147.5,269.7 147.5,268.1 149.1,268.1 149.1,265.5 150.7,265.5 150.7,267.9 152.3,267.9 152.3,269.0 153.9,269.0 153.9,269.9 155.5,269.9 155.5,267.9 157.1,267.9 157.1,268.6 158.7,268.6 158.7,268.4 160.3,268.4 160.3,267.1 161.9,267.1 161.9,265.9 163.5,265.9 163.5,267.9 165.1,267.9 165.1,266.2 166.7,266.2 166.7,267.2 168.3,267.2 168.3,271.4 169.9,271.4 169.9,267.5 171.5,267.5 171.5,267.4 173.1,267.4 173.1,269.4 174.7,269.4 174.7,266.9 176.3,266.9 176.3,271.4 177.9,271.4 177.9,269.0 179.5,269.0 179.5,267.1 181.1,267.1 181.1,267.0 182.7,267.0 182.7,266.2 184.3,266.2 184.3,269.0 185.9,269.0 185.9,270.4 184.3,270.4 184.3,268.9 182.7,268.9 182.7,268.5 181.1,268.5 181.1,268.6 179.5,268.6 179.5,270.4 177.9,270.4 177.9,272.4 176.3,272.4 176.3,270.0 174.7,270.0 174.7,270.9 173.1,270.9 173.1,268.9 171.5,268.9 171.5,270.1 169.9,270.1 169.9,272.4 168.3,272.4 168.3,268.8 166.7,268.8 166.7,268.6 165.1,268.6 165.1,270.2 163.5,270.2 163.5,271.1 161.9,271.1 161.9,269.5 160.3,269.5 160.3,269.9 158.7,269.9 158.7,270.0 157.1,270.0 157.1,269.3 155.5,269.3 155.5,271.3 153.9,271.3 153.9,270.5 152.3,270.5 152.3,269.3 150.7,269.3 150.7,268.0 149.1,268.0 149.1,270.6 147.5,270.6 147.5,271.2 145.9,271.2 145.9,270.0 144.3,270.0 144.3,269.2 142.7,269.2 142.7,269.8 141.1,269.8 141.1,270.7 139.5,270.7 139.5,270.2 137.9,270.2 137.9,270.3 136.3,270.3 136.3,270.6 134.7,270.6 134.7,269.8 133.1,269.8 133.1,269.4 131.5,269.4 131.5,269.2 129.9,269.2 129.9,269.6 128.3,269.6 128.3,270.6 126.7,270.6 126.7,269.9 125.1,269.9 125.1,268.9 123.5,268.9 123.5,270.5 121.9,270.5 121.9,268.7 120.3,268.7 120.3,269.3 118.7,269.3 118.7,268.9 117.1,268.9 117.1,268.6 115.5,268.6 115.5,268.4 113.9,268.4 113.9,269.6 112.3,269.6 112.3,267.4 110.7,267.4 110.7,266.8 109.1,266.8 109.1,264.0 107.5,264.0 107.5,263.1 105.9,263.1 105.9,260.9 104.3,260.9 104.3,259.1 102.7,259.1 102.7,261.5 101.1,261.5 101.1,260.9 99.5,260.9 99.5,258.8 97.9,258.8 97.9,258.4 96.3,258.4 96.3,256.3 94.7,256.3 94.7,258.3 93.1,258.3 93.1,255.8 91.5,255.8 91.5,255.6 89.9,255.6 89.9,254.5 88.3,254.5 88.3,252.2 86.7,252.2 86.7,248.5 85.1,248.5 85.1,240.8 83.5,240.8 83.5,246.0 81.9,246.0 81.9,244.7 80.3,244.7 80.3,238.5 78.7,238.5 78.7,236.9 77.1,236.9 77.1,232.8 75.5,232.8 75.5,232.7 73.9,232.7 73.9,231.2 72.3,231.2 72.3,230.5 70.7,230.5 70.7,227.2 69.1,227.2 69.1,228.3 67.5,228.3 67.5,228.9 65.9,228.9 65.9,229.3 64.3,229.3 64.3,231.2 62.7,231.2 62.7,228.7 61.1,228.7 61.1,226.4 59.5,226.4 59.5,222.9 57.9,222.9 57.9,219.3 56.3,219.3 56.3,208.6 54.7,208.6 54.7,219.9 53.1,219.9 53.1,221.7 51.5,221.7 51.5,229.6 49.9,229.6 49.9,230.3 48.3,230.3 48.3,236.1 46.7,236.1 46.7,239.5 45.1,239.5 45.1,243.8 43.5,243.8 43.5,249.7 41.9,249.7 41.9,254.4 40.3,254.4 40.3,270.4 38.7,270.4 38.7,268.9 37.1,268.9" fill="#000"/>
<polyline points="37.1,267.4 38.7,267.4 38.7,269.0 40.3,269.0 40.3,251.2 41.9,251.2 41.9,247.0 43.5,247.0 43.5,239.1 45.1,239.1 45.1,234.6 46.7,234.6 46.7,229.4 48.3,229.4 48.3,221.3 49.9,221.3 49.9,228.2 51.5,228.2 51.5,212.7 53.1,212.7 53.1,210.9 54.7,210.9 54.7,199.6 56.3,199.6 56.3,210.3 57.9,210.3 57.9,213.9 59.5,213.9 59.5,217.4 61.1,217.4 61.1,221.1 62.7,221.1 62.7,227.5 64.3,227.5 64.3,220.3 65.9,220.3 65.9,224.2 67.5,224.2 67.5,219.3 69.1,219.3 69.1,218.2 70.7,218.2 70.7,222.2 72.3,222.2 72.3,222.2 73.9,222.2 73.9,223.7 75.5,223.7 75.5,223.8 77.1,223.8 77.1,227.9 78.7,227.9 78.7,229.5 80.3,229.5 80.3,237.2 81.9,237.2 81.9,237.0 83.5,237.0 83.5,231.8 85.1,231.8 85.1,239.5 86.7,239.5 86.7,247.1 88.3,247.1 88.3,246.7 89.9,246.7 89.9,248.7 91.5,248.7 91.5,251.2 93.1,251.2 93.1,253.8 94.7,253.8 94.7,254.8 96.3,254.8 96.3,254.9 97.9,254.9 97.9,257.4 99.5,257.4 99.5,255.6 101.1,255.6 101.1,255.5 102.7,255.5 102.7,254.3 104.3,254.3 104.3,256.9 105.9,256.9 105.9,258.1 107.5,258.1 107.5,261.6 109.1,261.6 109.1,265.3 110.7,265.3 110.7,266.0 112.3,266.0 112.3,266.6 113.9,266.6 113.9,266.9 115.5,266.9 115.5,267.1 117.1,267.1 117.1,267.5 118.7,267.5 118.7,267.9 120.3,267.9 120.3,267.2 121.9,267.2 121.9,266.8 123.5,266.8 123.5,267.5 125.1,267.5 125.1,267.0 126.7,267.0 126.7,269.1 128.3,269.1 128.3,265.8 129.9,265.8 129.9,266.6 131.5,266.6 131.5,265.8 133.1,265.8 133.1,267.9 134.7,267.9 134.7,266.9 136.3,266.9 136.3,268.9 137.9,268.9 137.9,268.8 139.5,268.8 139.5,269.3 141.1,269.3 141.1,266.8 142.7,266.8 142.7,261.4 144.3,261.4 144.3,267.2 145.9,267.2 145.9,269.7 147.5,269.7 147.5,268.1 149.1,268.1 149.1,265.5 150.7,265.5 150.7,267.9 152.3,267.9 152.3,269.0 153.9,269.0 153.9,269.9 155.5,269.9 155.5,267.9 157.1,267.9 157.1,268.6 158.7,268.6 158.7,268.4 160.3,268.4 160.3,267.1 161.9,267.1 161.9,265.9 163.5,265.9 163.5,267.9 165.1,267.9 165.1,266.2 166.7,266.2 166.7,267.2 168.3,267.2 168.3,271.4 169.9,271.4 169.9,267.5 171.5,267.5 171.5,267.4 173.1,267.4 173.1,269.4 174.7,269.4 174.7,266.9 176.3,266.9 176.3,271.4 177.9,271.4 177.9,269.0 179.5,269.0 179.5,267.1 181.1,267.1 181.1,267.0 182.7,267.0 182.7,266.2 184.3,266.2 184.3,269.0 185.9,269.0" fill="none" stroke="#000" stroke-width="2.4" stroke-linejoin="miter"/>
<rect x="35.5" y="196.7" width="3.0" height="75.7" fill="#000"/>
<rect x="34.5" y="169.0" width="157.2" height="104.7" fill="none" stroke="#000" stroke-width="2.0"/>
<text x="139.8" y="190.2" class="lb">CD1d</text>
</g>
<g>
<rect x="196.6" y="169.0" width="157.1" height="104.7" fill="#fff" stroke="none"/>
<polygon points="197.6,272.4 197.6,269.5 199.2,269.5 199.2,270.0 200.8,270.0 200.8,256.3 202.4,256.3 202.4,249.8 204.0,249.8 204.0,245.8 205.6,245.8 205.6,239.5 207.2,239.5 207.2,233.5 208.8,233.5 208.8,229.1 210.4,229.1 210.4,223.7 212.0,223.7 212.0,221.5 213.6,221.5 213.6,224.4 215.2,224.4 215.2,224.6 216.8,224.6 216.8,224.0 218.4,224.0 218.4,228.5 220.0,228.5 220.0,231.5 221.6,231.5 221.6,231.8 223.2,231.8 223.2,231.7 224.8,231.7 224.8,232.5 226.4,232.5 226.4,233.0 228.0,233.0 228.0,233.1 229.6,233.1 229.6,235.9 231.2,235.9 231.2,238.6 232.8,238.6 232.8,239.6 234.4,239.6 234.4,240.6 236.0,240.6 236.0,241.0 237.6,241.0 237.6,239.8 239.2,239.8 239.2,243.3 240.8,243.3 240.8,245.8 242.4,245.8 242.4,247.0 244.0,247.0 244.0,250.3 245.6,250.3 245.6,251.1 247.2,251.1 247.2,252.4 248.8,252.4 248.8,256.1 250.4,256.1 250.4,256.6 252.0,256.6 252.0,257.2 253.6,257.2 253.6,258.4 255.2,258.4 255.2,259.0 256.8,259.0 256.8,259.0 258.4,259.0 258.4,257.3 260.0,257.3 260.0,259.7 261.6,259.7 261.6,260.6 263.2,260.6 263.2,260.8 264.8,260.8 264.8,262.4 266.4,262.4 266.4,263.8 268.0,263.8 268.0,262.8 269.6,262.8 269.6,262.6 271.2,262.6 271.2,265.5 272.8,265.5 272.8,263.8 274.4,263.8 274.4,263.5 276.0,263.5 276.0,264.9 277.6,264.9 277.6,265.3 279.2,265.3 279.2,264.6 280.8,264.6 280.8,266.0 282.4,266.0 282.4,265.3 284.0,265.3 284.0,265.4 285.6,265.4 285.6,269.4 287.2,269.4 287.2,269.9 288.8,269.9 288.8,268.3 290.4,268.3 290.4,270.2 292.0,270.2 292.0,269.0 293.6,269.0 293.6,269.8 295.2,269.8 295.2,269.5 296.8,269.5 296.8,267.6 298.4,267.6 298.4,268.9 300.0,268.9 300.0,269.6 301.6,269.6 301.6,270.5 303.2,270.5 303.2,269.6 304.8,269.6 304.8,269.6 306.4,269.6 306.4,268.4 308.0,268.4 308.0,270.4 309.6,270.4 309.6,270.7 311.2,270.7 311.2,269.4 312.8,269.4 312.8,269.2 314.4,269.2 314.4,268.3 316.0,268.3 316.0,270.0 317.6,270.0 317.6,271.3 319.2,271.3 319.2,269.9 320.8,269.9 320.8,270.3 322.4,270.3 322.4,269.8 324.0,269.8 324.0,268.7 325.6,268.7 325.6,270.3 327.2,270.3 327.2,268.5 328.8,268.5 328.8,269.3 330.4,269.3 330.4,269.6 332.0,269.6 332.0,270.0 333.6,270.0 333.6,269.7 335.2,269.7 335.2,269.7 336.8,269.7 336.8,268.9 338.4,268.9 338.4,268.5 340.0,268.5 340.0,269.4 341.6,269.4 341.6,272.4 343.2,272.4 343.2,272.4 344.8,272.4 344.8,272.4 346.4,272.4 346.4,272.4 348.0,272.4 348.0,272.4 349.6,272.4 349.6,272.4 351.2,272.4 351.2,272.4" fill="#575757" stroke="#000" stroke-width="0.7"/>
<polygon points="200.8,248.0 202.4,248.0 202.4,236.7 204.0,236.7 204.0,236.3 205.6,236.3 205.6,235.9 207.2,235.9 207.2,221.6 208.8,221.6 208.8,213.8 210.4,213.8 210.4,217.9 212.0,217.9 212.0,213.6 213.6,213.6 213.6,212.5 215.2,212.5 215.2,211.2 216.8,211.2 216.8,214.2 218.4,214.2 218.4,215.0 220.0,215.0 220.0,215.9 221.6,215.9 221.6,218.0 223.2,218.0 223.2,225.7 224.8,225.7 224.8,230.5 226.4,230.5 226.4,227.7 228.0,227.7 228.0,227.0 229.6,227.0 229.6,229.4 231.2,229.4 231.2,224.3 232.8,224.3 232.8,225.9 234.4,225.9 234.4,232.9 236.0,232.9 236.0,235.1 237.6,235.1 237.6,234.3 239.2,234.3 239.2,238.7 240.8,238.7 240.8,241.2 242.4,241.2 242.4,243.3 244.0,243.3 244.0,235.5 245.6,235.5 245.6,246.1 247.2,246.1 247.2,241.8 248.8,241.8 248.8,246.9 250.4,246.9 250.4,249.0 252.0,249.0 252.0,251.9 253.6,251.9 253.6,253.0 255.2,253.0 255.2,251.9 256.8,251.9 256.8,254.5 258.4,254.5 258.4,251.9 260.0,251.9 260.0,247.0 261.6,247.0 261.6,255.1 263.2,255.1 263.2,257.6 264.8,257.6 264.8,262.2 266.4,262.2 266.4,259.9 268.0,259.9 268.0,263.6 269.6,263.6 269.6,264.1 271.2,264.1 271.2,264.3 272.8,264.3 272.8,261.7 274.4,261.7 274.4,259.4 276.0,259.4 276.0,261.3 277.6,261.3 277.6,259.3 279.2,259.3 279.2,260.6 280.8,260.6 280.8,263.5 282.4,263.5 282.4,262.8 284.0,262.8 284.0,264.4 285.6,264.4 285.6,265.0 287.2,265.0 287.2,267.4 288.8,267.4 288.8,267.0 290.4,267.0 290.4,265.8 292.0,265.8 292.0,267.3 293.6,267.3 293.6,265.6 295.2,265.6 295.2,266.5 296.8,266.5 296.8,268.3 298.4,268.3 298.4,267.6 300.0,267.6 300.0,269.1 301.6,269.1 301.6,267.4 303.2,267.4 303.2,266.7 304.8,266.7 304.8,266.0 306.4,266.0 306.4,266.6 308.0,266.6 308.0,266.8 309.6,266.8 309.6,269.7 311.2,269.7 311.2,268.0 312.8,268.0 312.8,268.5 314.4,268.5 314.4,267.9 316.0,267.9 316.0,267.0 317.6,267.0 317.6,267.2 319.2,267.2 319.2,267.3 320.8,267.3 320.8,266.9 322.4,266.9 322.4,267.2 324.0,267.2 324.0,268.1 325.6,268.1 325.6,265.7 327.2,265.7 327.2,266.9 328.8,266.9 328.8,267.4 330.4,267.4 330.4,267.8 332.0,267.8 332.0,267.7 333.6,267.7 333.6,267.9 335.2,267.9 335.2,266.0 336.8,266.0 336.8,266.5 338.4,266.5 338.4,267.0 340.0,267.0 340.0,268.5 338.4,268.5 338.4,268.9 336.8,268.9 336.8,269.7 335.2,269.7 335.2,269.7 333.6,269.7 333.6,270.0 332.0,270.0 332.0,269.6 330.4,269.6 330.4,269.3 328.8,269.3 328.8,268.5 327.2,268.5 327.2,270.3 325.6,270.3 325.6,269.5 324.0,269.5 324.0,269.8 322.4,269.8 322.4,270.3 320.8,270.3 320.8,269.9 319.2,269.9 319.2,271.3 317.6,271.3 317.6,270.0 316.0,270.0 316.0,269.3 314.4,269.3 314.4,269.9 312.8,269.9 312.8,269.4 311.2,269.4 311.2,271.1 309.6,271.1 309.6,270.4 308.0,270.4 308.0,268.4 306.4,268.4 306.4,269.6 304.8,269.6 304.8,269.6 303.2,269.6 303.2,270.5 301.6,270.5 301.6,270.5 300.0,270.5 300.0,269.0 298.4,269.0 298.4,269.7 296.8,269.7 296.8,269.5 295.2,269.5 295.2,269.8 293.6,269.8 293.6,269.0 292.0,269.0 292.0,270.2 290.4,270.2 290.4,268.4 288.8,268.4 288.8,269.9 287.2,269.9 287.2,269.4 285.6,269.4 285.6,265.9 284.0,265.9 284.0,265.3 282.4,265.3 282.4,266.0 280.8,266.0 280.8,264.6 279.2,264.6 279.2,265.3 277.6,265.3 277.6,264.9 276.0,264.9 276.0,263.5 274.4,263.5 274.4,263.8 272.8,263.8 272.8,265.7 271.2,265.7 271.2,265.5 269.6,265.5 269.6,265.1 268.0,265.1 268.0,263.8 266.4,263.8 266.4,263.6 264.8,263.6 264.8,260.8 263.2,260.8 263.2,260.6 261.6,260.6 261.6,256.0 260.0,256.0 260.0,257.3 258.4,257.3 258.4,259.0 256.8,259.0 256.8,259.0 255.2,259.0 255.2,258.4 253.6,258.4 253.6,257.2 252.0,257.2 252.0,256.6 250.4,256.6 250.4,255.9 248.8,255.9 248.8,250.8 247.2,250.8 247.2,251.1 245.6,251.1 245.6,244.5 244.0,244.5 244.0,247.0 242.4,247.0 242.4,245.8 240.8,245.8 240.8,243.3 239.2,243.3 239.2,239.8 237.6,239.8 237.6,241.0 236.0,241.0 236.0,240.6 234.4,240.6 234.4,234.9 232.8,234.9 232.8,233.3 231.2,233.3 231.2,235.9 229.6,235.9 229.6,233.1 228.0,233.1 228.0,233.0 226.4,233.0 226.4,232.5 224.8,232.5 224.8,231.7 223.2,231.7 223.2,227.0 221.6,227.0 221.6,224.9 220.0,224.9 220.0,224.0 218.4,224.0 218.4,223.2 216.8,223.2 216.8,220.2 215.2,220.2 215.2,221.5 213.6,221.5 213.6,221.5 212.0,221.5 212.0,223.7 210.4,223.7 210.4,222.8 208.8,222.8 208.8,230.6 207.2,230.6 207.2,239.5 205.6,239.5 205.6,245.3 204.0,245.3 204.0,245.7 202.4,245.7 202.4,256.3 200.8,256.3" fill="#000"/>
<polyline points="200.8,248.0 202.4,248.0 202.4,236.7 204.0,236.7 204.0,236.3 205.6,236.3 205.6,235.9 207.2,235.9 207.2,221.6 208.8,221.6 208.8,213.8 210.4,213.8 210.4,217.9 212.0,217.9 212.0,213.6 213.6,213.6 213.6,212.5 215.2,212.5 215.2,211.2 216.8,211.2 216.8,214.2 218.4,214.2 218.4,215.0 220.0,215.0 220.0,215.9 221.6,215.9 221.6,218.0 223.2,218.0 223.2,225.7 224.8,225.7 224.8,230.5 226.4,230.5 226.4,227.7 228.0,227.7 228.0,227.0 229.6,227.0 229.6,229.4 231.2,229.4 231.2,224.3 232.8,224.3 232.8,225.9 234.4,225.9 234.4,232.9 236.0,232.9 236.0,235.1 237.6,235.1 237.6,234.3 239.2,234.3 239.2,238.7 240.8,238.7 240.8,241.2 242.4,241.2 242.4,243.3 244.0,243.3 244.0,235.5 245.6,235.5 245.6,246.1 247.2,246.1 247.2,241.8 248.8,241.8 248.8,246.9 250.4,246.9 250.4,249.0 252.0,249.0 252.0,251.9 253.6,251.9 253.6,253.0 255.2,253.0 255.2,251.9 256.8,251.9 256.8,254.5 258.4,254.5 258.4,251.9 260.0,251.9 260.0,247.0 261.6,247.0 261.6,255.1 263.2,255.1 263.2,257.6 264.8,257.6 264.8,262.2 266.4,262.2 266.4,259.9 268.0,259.9 268.0,263.6 269.6,263.6 269.6,264.1 271.2,264.1 271.2,264.3 272.8,264.3 272.8,261.7 274.4,261.7 274.4,259.4 276.0,259.4 276.0,261.3 277.6,261.3 277.6,259.3 279.2,259.3 279.2,260.6 280.8,260.6 280.8,263.5 282.4,263.5 282.4,262.8 284.0,262.8 284.0,264.4 285.6,264.4 285.6,265.0 287.2,265.0 287.2,267.4 288.8,267.4 288.8,267.0 290.4,267.0 290.4,265.8 292.0,265.8 292.0,267.3 293.6,267.3 293.6,265.6 295.2,265.6 295.2,266.5 296.8,266.5 296.8,268.3 298.4,268.3 298.4,267.6 300.0,267.6 300.0,269.1 301.6,269.1 301.6,267.4 303.2,267.4 303.2,266.7 304.8,266.7 304.8,266.0 306.4,266.0 306.4,266.6 308.0,266.6 308.0,266.8 309.6,266.8 309.6,269.7 311.2,269.7 311.2,268.0 312.8,268.0 312.8,268.5 314.4,268.5 314.4,267.9 316.0,267.9 316.0,267.0 317.6,267.0 317.6,267.2 319.2,267.2 319.2,267.3 320.8,267.3 320.8,266.9 322.4,266.9 322.4,267.2 324.0,267.2 324.0,268.1 325.6,268.1 325.6,265.7 327.2,265.7 327.2,266.9 328.8,266.9 328.8,267.4 330.4,267.4 330.4,267.8 332.0,267.8 332.0,267.7 333.6,267.7 333.6,267.9 335.2,267.9 335.2,266.0 336.8,266.0 336.8,266.5 338.4,266.5 338.4,267.0 340.0,267.0" fill="none" stroke="#000" stroke-width="2.4" stroke-linejoin="miter"/>
<rect x="197.6" y="209.2" width="2.9" height="63.2" fill="#000"/>
<rect x="196.6" y="169.0" width="157.1" height="104.7" fill="none" stroke="#000" stroke-width="2.0"/>
<text x="301.5" y="190.2" class="lb">CD14</text>
</g>
<g>
<rect x="358.9" y="169.0" width="157.1" height="104.7" fill="#fff" stroke="none"/>
<polygon points="359.9,272.4 359.9,268.2 361.5,268.2 361.5,268.5 363.1,268.5 363.1,270.0 364.7,270.0 364.7,257.1 366.3,257.1 366.3,255.1 367.9,255.1 367.9,253.6 369.5,253.6 369.5,248.5 371.1,248.5 371.1,244.9 372.7,244.9 372.7,242.3 374.3,242.3 374.3,239.5 375.9,239.5 375.9,237.8 377.5,237.8 377.5,235.8 379.1,235.8 379.1,234.1 380.7,234.1 380.7,231.9 382.3,231.9 382.3,232.6 383.9,232.6 383.9,230.3 385.5,230.3 385.5,230.6 387.1,230.6 387.1,229.3 388.7,229.3 388.7,232.2 390.3,232.2 390.3,230.0 391.9,230.0 391.9,231.1 393.5,231.1 393.5,229.4 395.1,229.4 395.1,229.5 396.7,229.5 396.7,226.1 398.3,226.1 398.3,227.3 399.9,227.3 399.9,232.2 401.5,232.2 401.5,229.7 403.1,229.7 403.1,235.9 404.7,235.9 404.7,239.7 406.3,239.7 406.3,241.3 407.9,241.3 407.9,244.9 409.5,244.9 409.5,248.0 411.1,248.0 411.1,248.3 412.7,248.3 412.7,251.3 414.3,251.3 414.3,251.6 415.9,251.6 415.9,253.0 417.5,253.0 417.5,253.8 419.1,253.8 419.1,255.6 420.7,255.6 420.7,258.4 422.3,258.4 422.3,261.0 423.9,261.0 423.9,261.3 425.5,261.3 425.5,266.1 427.1,266.1 427.1,266.2 428.7,266.2 428.7,266.7 430.3,266.7 430.3,266.6 431.9,266.6 431.9,269.1 433.5,269.1 433.5,269.7 435.1,269.7 435.1,270.3 436.7,270.3 436.7,269.9 438.3,269.9 438.3,269.4 439.9,269.4 439.9,270.9 441.5,270.9 441.5,269.9 443.1,269.9 443.1,269.1 444.7,269.1 444.7,269.9 446.3,269.9 446.3,269.7 447.9,269.7 447.9,268.8 449.5,268.8 449.5,269.5 451.1,269.5 451.1,269.3 452.7,269.3 452.7,268.0 454.3,268.0 454.3,269.3 455.9,269.3 455.9,269.2 457.5,269.2 457.5,269.1 459.1,269.1 459.1,268.2 460.7,268.2 460.7,269.1 462.3,269.1 462.3,269.4 463.9,269.4 463.9,269.5 465.5,269.5 465.5,268.6 467.1,268.6 467.1,269.9 468.7,269.9 468.7,268.5 470.3,268.5 470.3,269.2 471.9,269.2 471.9,270.3 473.5,270.3 473.5,268.9 475.1,268.9 475.1,269.0 476.7,269.0 476.7,270.2 478.3,270.2 478.3,269.1 479.9,269.1 479.9,269.2 481.5,269.2 481.5,269.6 483.1,269.6 483.1,270.2 484.7,270.2 484.7,267.8 486.3,267.8 486.3,272.4 487.9,272.4 487.9,272.4 489.5,272.4 489.5,272.4 491.1,272.4 491.1,272.4 492.7,272.4 492.7,272.4 494.3,272.4 494.3,272.4 495.9,272.4 495.9,272.4 497.5,272.4 497.5,272.4 499.1,272.4 499.1,272.4 500.7,272.4 500.7,272.4 502.3,272.4 502.3,272.4 503.9,272.4 503.9,272.4 505.5,272.4 505.5,272.4 507.1,272.4 507.1,272.4 508.7,272.4 508.7,272.4 510.3,272.4 510.3,272.4 511.9,272.4 511.9,272.4 513.5,272.4 513.5,272.4" fill="#575757" stroke="#000" stroke-width="0.7"/>
<polygon points="363.1,268.4 364.7,268.4 364.7,250.2 366.3,250.2 366.3,249.7 367.9,249.7 367.9,244.2 369.5,244.2 369.5,241.3 371.1,241.3 371.1,238.4 372.7,238.4 372.7,236.2 374.3,236.2 374.3,213.2 375.9,213.2 375.9,219.8 377.5,219.8 377.5,220.0 379.1,220.0 379.1,220.6 380.7,220.6 380.7,222.3 382.3,222.3 382.3,218.4 383.9,218.4 383.9,217.1 385.5,217.1 385.5,211.4 387.1,211.4 387.1,222.7 388.7,222.7 388.7,224.0 390.3,224.0 390.3,223.5 391.9,223.5 391.9,214.7 393.5,214.7 393.5,211.1 395.1,211.1 395.1,207.0 396.7,207.0 396.7,210.3 398.3,210.3 398.3,202.8 399.9,202.8 399.9,212.2 401.5,212.2 401.5,222.2 403.1,222.2 403.1,225.4 404.7,225.4 404.7,230.9 406.3,230.9 406.3,237.4 407.9,237.4 407.9,240.6 409.5,240.6 409.5,239.1 411.1,239.1 411.1,242.5 412.7,242.5 412.7,247.6 414.3,247.6 414.3,249.9 415.9,249.9 415.9,250.5 417.5,250.5 417.5,251.4 419.1,251.4 419.1,251.5 420.7,251.5 420.7,252.9 422.3,252.9 422.3,255.7 423.9,255.7 423.9,255.8 425.5,255.8 425.5,259.8 427.1,259.8 427.1,256.2 428.7,256.2 428.7,257.5 430.3,257.5 430.3,262.4 431.9,262.4 431.9,261.8 433.5,261.8 433.5,262.4 435.1,262.4 435.1,263.2 436.7,263.2 436.7,264.5 438.3,264.5 438.3,264.9 439.9,264.9 439.9,264.9 441.5,264.9 441.5,265.8 443.1,265.8 443.1,263.7 444.7,263.7 444.7,266.4 446.3,266.4 446.3,264.5 447.9,264.5 447.9,265.2 449.5,265.2 449.5,265.6 451.1,265.6 451.1,265.0 452.7,265.0 452.7,265.0 454.3,265.0 454.3,265.5 455.9,265.5 455.9,266.6 457.5,266.6 457.5,267.3 459.1,267.3 459.1,267.4 460.7,267.4 460.7,266.2 462.3,266.2 462.3,266.5 463.9,266.5 463.9,268.2 465.5,268.2 465.5,267.0 467.1,267.0 467.1,268.5 468.7,268.5 468.7,269.2 470.3,269.2 470.3,267.6 471.9,267.6 471.9,267.1 473.5,267.1 473.5,268.9 475.1,268.9 475.1,269.4 476.7,269.4 476.7,267.1 478.3,267.1 478.3,265.8 479.9,265.8 479.9,268.6 481.5,268.6 481.5,267.8 483.1,267.8 483.1,266.7 484.7,266.7 484.7,270.2 483.1,270.2 483.1,269.6 481.5,269.6 481.5,270.0 479.9,270.0 479.9,269.1 478.3,269.1 478.3,270.2 476.7,270.2 476.7,270.8 475.1,270.8 475.1,270.3 473.5,270.3 473.5,270.3 471.9,270.3 471.9,269.2 470.3,269.2 470.3,270.6 468.7,270.6 468.7,269.9 467.1,269.9 467.1,268.6 465.5,268.6 465.5,269.7 463.9,269.7 463.9,269.4 462.3,269.4 462.3,269.1 460.7,269.1 460.7,268.8 459.1,268.8 459.1,269.1 457.5,269.1 457.5,269.2 455.9,269.2 455.9,269.3 454.3,269.3 454.3,268.0 452.7,268.0 452.7,269.3 451.1,269.3 451.1,269.5 449.5,269.5 449.5,268.8 447.9,268.8 447.9,269.7 446.3,269.7 446.3,269.9 444.7,269.9 444.7,269.1 443.1,269.1 443.1,269.9 441.5,269.9 441.5,270.9 439.9,270.9 439.9,269.4 438.3,269.4 438.3,269.9 436.7,269.9 436.7,270.3 435.1,270.3 435.1,269.7 433.5,269.7 433.5,269.1 431.9,269.1 431.9,266.6 430.3,266.6 430.3,266.5 428.7,266.5 428.7,265.2 427.1,265.2 427.1,266.1 425.5,266.1 425.5,261.3 423.9,261.3 423.9,261.0 422.3,261.0 422.3,258.4 420.7,258.4 420.7,255.6 419.1,255.6 419.1,253.8 417.5,253.8 417.5,253.0 415.9,253.0 415.9,251.6 414.3,251.6 414.3,251.3 412.7,251.3 412.7,248.3 411.1,248.3 411.1,248.0 409.5,248.0 409.5,244.9 407.9,244.9 407.9,241.3 406.3,241.3 406.3,239.7 404.7,239.7 404.7,234.4 403.1,234.4 403.1,229.7 401.5,229.7 401.5,221.2 399.9,221.2 399.9,211.8 398.3,211.8 398.3,219.3 396.7,219.3 396.7,216.0 395.1,216.0 395.1,220.1 393.5,220.1 393.5,223.7 391.9,223.7 391.9,230.0 390.3,230.0 390.3,232.2 388.7,232.2 388.7,229.3 387.1,229.3 387.1,220.4 385.5,220.4 385.5,226.1 383.9,226.1 383.9,227.4 382.3,227.4 382.3,231.3 380.7,231.3 380.7,229.6 379.1,229.6 379.1,229.0 377.5,229.0 377.5,228.8 375.9,228.8 375.9,222.2 374.3,222.2 374.3,242.3 372.7,242.3 372.7,244.9 371.1,244.9 371.1,248.5 369.5,248.5 369.5,253.2 367.9,253.2 367.9,255.1 366.3,255.1 366.3,257.1 364.7,257.1 364.7,270.0 363.1,270.0" fill="#000"/>
<polyline points="363.1,268.4 364.7,268.4 364.7,250.2 366.3,250.2 366.3,249.7 367.9,249.7 367.9,244.2 369.5,244.2 369.5,241.3 371.1,241.3 371.1,238.4 372.7,238.4 372.7,236.2 374.3,236.2 374.3,213.2 375.9,213.2 375.9,219.8 377.5,219.8 377.5,220.0 379.1,220.0 379.1,220.6 380.7,220.6 380.7,222.3 382.3,222.3 382.3,218.4 383.9,218.4 383.9,217.1 385.5,217.1 385.5,211.4 387.1,211.4 387.1,222.7 388.7,222.7 388.7,224.0 390.3,224.0 390.3,223.5 391.9,223.5 391.9,214.7 393.5,214.7 393.5,211.1 395.1,211.1 395.1,207.0 396.7,207.0 396.7,210.3 398.3,210.3 398.3,202.8 399.9,202.8 399.9,212.2 401.5,212.2 401.5,222.2 403.1,222.2 403.1,225.4 404.7,225.4 404.7,230.9 406.3,230.9 406.3,237.4 407.9,237.4 407.9,240.6 409.5,240.6 409.5,239.1 411.1,239.1 411.1,242.5 412.7,242.5 412.7,247.6 414.3,247.6 414.3,249.9 415.9,249.9 415.9,250.5 417.5,250.5 417.5,251.4 419.1,251.4 419.1,251.5 420.7,251.5 420.7,252.9 422.3,252.9 422.3,255.7 423.9,255.7 423.9,255.8 425.5,255.8 425.5,259.8 427.1,259.8 427.1,256.2 428.7,256.2 428.7,257.5 430.3,257.5 430.3,262.4 431.9,262.4 431.9,261.8 433.5,261.8 433.5,262.4 435.1,262.4 435.1,263.2 436.7,263.2 436.7,264.5 438.3,264.5 438.3,264.9 439.9,264.9 439.9,264.9 441.5,264.9 441.5,265.8 443.1,265.8 443.1,263.7 444.7,263.7 444.7,266.4 446.3,266.4 446.3,264.5 447.9,264.5 447.9,265.2 449.5,265.2 449.5,265.6 451.1,265.6 451.1,265.0 452.7,265.0 452.7,265.0 454.3,265.0 454.3,265.5 455.9,265.5 455.9,266.6 457.5,266.6 457.5,267.3 459.1,267.3 459.1,267.4 460.7,267.4 460.7,266.2 462.3,266.2 462.3,266.5 463.9,266.5 463.9,268.2 465.5,268.2 465.5,267.0 467.1,267.0 467.1,268.5 468.7,268.5 468.7,269.2 470.3,269.2 470.3,267.6 471.9,267.6 471.9,267.1 473.5,267.1 473.5,268.9 475.1,268.9 475.1,269.4 476.7,269.4 476.7,267.1 478.3,267.1 478.3,265.8 479.9,265.8 479.9,268.6 481.5,268.6 481.5,267.8 483.1,267.8 483.1,266.7 484.7,266.7" fill="none" stroke="#000" stroke-width="2.4" stroke-linejoin="miter"/>
<rect x="359.9" y="203.7" width="2.9" height="68.7" fill="#000"/>
<rect x="358.9" y="169.0" width="157.1" height="104.7" fill="none" stroke="#000" stroke-width="2.0"/>
<text x="464.1" y="190.5" class="lb">CD16</text>
</g>
<g>
<rect x="34.5" y="280.8" width="157.2" height="105.0" fill="#fff" stroke="none"/>
<polygon points="35.5,384.5 35.5,382.2 37.1,382.2 37.1,381.4 38.7,381.4 38.7,381.3 40.3,381.3 40.3,382.9 41.9,382.9 41.9,381.3 43.5,381.3 43.5,380.6 45.1,380.6 45.1,381.0 46.7,381.0 46.7,381.3 48.3,381.3 48.3,383.0 49.9,383.0 49.9,381.6 51.5,381.6 51.5,382.2 53.1,382.2 53.1,380.8 54.7,380.8 54.7,381.7 56.3,381.7 56.3,382.0 57.9,382.0 57.9,382.8 59.5,382.8 59.5,381.0 61.1,381.0 61.1,381.9 62.7,381.9 62.7,381.7 64.3,381.7 64.3,380.8 65.9,380.8 65.9,381.5 67.5,381.5 67.5,381.3 69.1,381.3 69.1,379.9 70.7,379.9 70.7,381.9 72.3,381.9 72.3,381.9 73.9,381.9 73.9,381.2 75.5,381.2 75.5,380.6 77.1,380.6 77.1,382.5 78.7,382.5 78.7,381.7 80.3,381.7 80.3,382.2 81.9,382.2 81.9,382.5 83.5,382.5 83.5,381.1 85.1,381.1 85.1,382.1 86.7,382.1 86.7,381.3 88.3,381.3 88.3,381.5 89.9,381.5 89.9,381.4 91.5,381.4 91.5,381.5 93.1,381.5 93.1,382.3 94.7,382.3 94.7,381.6 96.3,381.6 96.3,373.7 97.9,373.7 97.9,369.3 99.5,369.3 99.5,366.3 101.1,366.3 101.1,360.2 102.7,360.2 102.7,357.3 104.3,357.3 104.3,349.9 105.9,349.9 105.9,346.7 107.5,346.7 107.5,339.1 109.1,339.1 109.1,334.3 110.7,334.3 110.7,331.5 112.3,331.5 112.3,323.0 113.9,323.0 113.9,318.3 115.5,318.3 115.5,317.2 117.1,317.2 117.1,310.2 118.7,310.2 118.7,304.1 120.3,304.1 120.3,302.2 121.9,302.2 121.9,294.3 123.5,294.3 123.5,294.2 125.1,294.2 125.1,298.0 126.7,298.0 126.7,303.5 128.3,303.5 128.3,313.6 129.9,313.6 129.9,325.9 131.5,325.9 131.5,336.9 133.1,336.9 133.1,346.9 134.7,346.9 134.7,359.9 136.3,359.9 136.3,365.5 137.9,365.5 137.9,373.3 139.5,373.3 139.5,376.6 141.1,376.6 141.1,381.4 142.7,381.4 142.7,381.3 144.3,381.3 144.3,381.7 145.9,381.7 145.9,380.9 147.5,380.9 147.5,381.1 149.1,381.1 149.1,381.5 150.7,381.5 150.7,381.1 152.3,381.1 152.3,381.4 153.9,381.4 153.9,381.1 155.5,381.1 155.5,382.9 157.1,382.9 157.1,382.4 158.7,382.4 158.7,381.8 160.3,381.8 160.3,381.5 161.9,381.5 161.9,383.0 163.5,383.0 163.5,381.7 165.1,381.7 165.1,381.4 166.7,381.4 166.7,381.7 168.3,381.7 168.3,381.7 169.9,381.7 169.9,382.5 171.5,382.5 171.5,384.5 173.1,384.5 173.1,384.5 174.7,384.5 174.7,384.5 176.3,384.5 176.3,384.5 177.9,384.5 177.9,384.5 179.5,384.5 179.5,384.5 181.1,384.5 181.1,384.5 182.7,384.5 182.7,384.5 184.3,384.5 184.3,384.5 185.9,384.5 185.9,384.5 187.5,384.5 187.5,384.5 189.1,384.5 189.1,384.5" fill="#575757" stroke="#000" stroke-width="0.7"/>
<polygon points="37.1,378.7 38.7,378.7 38.7,376.7 40.3,376.7 40.3,375.9 41.9,375.9 41.9,375.1 43.5,375.1 43.5,375.0 45.1,375.0 45.1,374.1 46.7,374.1 46.7,376.0 48.3,376.0 48.3,377.5 49.9,377.5 49.9,373.7 51.5,373.7 51.5,376.2 53.1,376.2 53.1,376.1 54.7,376.1 54.7,377.5 56.3,377.5 56.3,375.8 57.9,375.8 57.9,376.5 59.5,376.5 59.5,375.4 61.1,375.4 61.1,377.2 62.7,377.2 62.7,376.3 64.3,376.3 64.3,375.9 65.9,375.9 65.9,376.6 67.5,376.6 67.5,376.2 69.1,376.2 69.1,375.1 70.7,375.1 70.7,377.8 72.3,377.8 72.3,377.8 73.9,377.8 73.9,377.6 75.5,377.6 75.5,379.0 77.1,379.0 77.1,379.1 78.7,379.1 78.7,376.5 80.3,376.5 80.3,376.6 81.9,376.6 81.9,379.0 83.5,379.0 83.5,378.7 85.1,378.7 85.1,376.2 86.7,376.2 86.7,376.0 88.3,376.0 88.3,376.9 89.9,376.9 89.9,377.3 91.5,377.3 91.5,376.5 93.1,376.5 93.1,378.4 94.7,378.4 94.7,377.4 96.3,377.4 96.3,377.2 97.9,377.2 97.9,377.0 99.5,377.0 99.5,372.6 101.1,372.6 101.1,371.0 102.7,371.0 102.7,368.4 104.3,368.4 104.3,365.1 105.9,365.1 105.9,358.1 107.5,358.1 107.5,353.5 109.1,353.5 109.1,345.4 110.7,345.4 110.7,344.0 112.3,344.0 112.3,334.1 113.9,334.1 113.9,322.0 115.5,322.0 115.5,317.4 117.1,317.4 117.1,313.7 118.7,313.7 118.7,308.1 120.3,308.1 120.3,305.8 121.9,305.8 121.9,299.5 123.5,299.5 123.5,289.6 125.1,289.6 125.1,295.0 126.7,295.0 126.7,295.4 128.3,295.4 128.3,304.0 129.9,304.0 129.9,306.3 131.5,306.3 131.5,316.3 133.1,316.3 133.1,312.0 134.7,312.0 134.7,315.9 136.3,315.9 136.3,334.8 137.9,334.8 137.9,356.5 139.5,356.5 139.5,367.1 141.1,367.1 141.1,374.0 142.7,374.0 142.7,376.3 144.3,376.3 144.3,378.6 145.9,378.6 145.9,379.8 147.5,379.8 147.5,379.6 149.1,379.6 149.1,381.0 150.7,381.0 150.7,380.2 152.3,380.2 152.3,380.5 153.9,380.5 153.9,380.0 155.5,380.0 155.5,378.2 157.1,378.2 157.1,378.9 158.7,378.9 158.7,379.4 160.3,379.4 160.3,378.2 161.9,378.2 161.9,378.1 163.5,378.1 163.5,379.8 165.1,379.8 165.1,380.1 166.7,380.1 166.7,379.2 168.3,379.2 168.3,379.3 169.9,379.3 169.9,381.7 168.3,381.7 168.3,381.7 166.7,381.7 166.7,381.5 165.1,381.5 165.1,381.7 163.5,381.7 163.5,381.1 161.9,381.1 161.9,381.2 160.3,381.2 160.3,381.8 158.7,381.8 158.7,381.9 157.1,381.9 157.1,381.2 155.5,381.2 155.5,381.4 153.9,381.4 153.9,381.9 152.3,381.9 152.3,381.7 150.7,381.7 150.7,382.4 149.1,382.4 149.1,381.1 147.5,381.1 147.5,381.2 145.9,381.2 145.9,381.6 144.3,381.6 144.3,379.3 142.7,379.3 142.7,377.0 141.1,377.0 141.1,370.1 139.5,370.1 139.5,359.5 137.9,359.5 137.9,337.8 136.3,337.8 136.3,318.9 134.7,318.9 134.7,315.0 133.1,315.0 133.1,319.3 131.5,319.3 131.5,309.3 129.9,309.3 129.9,307.0 128.3,307.0 128.3,298.4 126.7,298.4 126.7,298.0 125.1,298.0 125.1,292.6 123.5,292.6 123.5,300.9 121.9,300.9 121.9,307.3 120.3,307.3 120.3,309.5 118.7,309.5 118.7,315.2 117.1,315.2 117.1,318.8 115.5,318.8 115.5,323.5 113.9,323.5 113.9,335.6 112.3,335.6 112.3,345.4 110.7,345.4 110.7,346.9 109.1,346.9 109.1,354.9 107.5,354.9 107.5,359.6 105.9,359.6 105.9,366.5 104.3,366.5 104.3,369.8 102.7,369.8 102.7,372.4 101.1,372.4 101.1,374.1 99.5,374.1 99.5,378.5 97.9,378.5 97.9,378.6 96.3,378.6 96.3,380.4 94.7,380.4 94.7,381.4 93.1,381.4 93.1,379.5 91.5,379.5 91.5,380.3 89.9,380.3 89.9,379.9 88.3,379.9 88.3,379.0 86.7,379.0 86.7,379.2 85.1,379.2 85.1,381.1 83.5,381.1 83.5,382.0 81.9,382.0 81.9,379.6 80.3,379.6 80.3,379.5 78.7,379.5 78.7,382.1 77.1,382.1 77.1,380.6 75.5,380.6 75.5,380.6 73.9,380.6 73.9,380.8 72.3,380.8 72.3,380.8 70.7,380.8 70.7,378.1 69.1,378.1 69.1,379.2 67.5,379.2 67.5,379.6 65.9,379.6 65.9,378.9 64.3,378.9 64.3,379.3 62.7,379.3 62.7,380.2 61.1,380.2 61.1,378.4 59.5,378.4 59.5,379.5 57.9,379.5 57.9,378.8 56.3,378.8 56.3,380.5 54.7,380.5 54.7,379.1 53.1,379.1 53.1,379.2 51.5,379.2 51.5,376.7 49.9,376.7 49.9,380.5 48.3,380.5 48.3,379.0 46.7,379.0 46.7,377.1 45.1,377.1 45.1,378.0 43.5,378.0 43.5,378.1 41.9,378.1 41.9,378.9 40.3,378.9 40.3,379.7 38.7,379.7 38.7,381.4 37.1,381.4" fill="#000"/>
<polyline points="37.1,378.7 38.7,378.7 38.7,376.7 40.3,376.7 40.3,375.9 41.9,375.9 41.9,375.1 43.5,375.1 43.5,375.0 45.1,375.0 45.1,374.1 46.7,374.1 46.7,376.0 48.3,376.0 48.3,377.5 49.9,377.5 49.9,373.7 51.5,373.7 51.5,376.2 53.1,376.2 53.1,376.1 54.7,376.1 54.7,377.5 56.3,377.5 56.3,375.8 57.9,375.8 57.9,376.5 59.5,376.5 59.5,375.4 61.1,375.4 61.1,377.2 62.7,377.2 62.7,376.3 64.3,376.3 64.3,375.9 65.9,375.9 65.9,376.6 67.5,376.6 67.5,376.2 69.1,376.2 69.1,375.1 70.7,375.1 70.7,377.8 72.3,377.8 72.3,377.8 73.9,377.8 73.9,377.6 75.5,377.6 75.5,379.0 77.1,379.0 77.1,379.1 78.7,379.1 78.7,376.5 80.3,376.5 80.3,376.6 81.9,376.6 81.9,379.0 83.5,379.0 83.5,378.7 85.1,378.7 85.1,376.2 86.7,376.2 86.7,376.0 88.3,376.0 88.3,376.9 89.9,376.9 89.9,377.3 91.5,377.3 91.5,376.5 93.1,376.5 93.1,378.4 94.7,378.4 94.7,377.4 96.3,377.4 96.3,377.2 97.9,377.2 97.9,377.0 99.5,377.0 99.5,372.6 101.1,372.6 101.1,371.0 102.7,371.0 102.7,368.4 104.3,368.4 104.3,365.1 105.9,365.1 105.9,358.1 107.5,358.1 107.5,353.5 109.1,353.5 109.1,345.4 110.7,345.4 110.7,344.0 112.3,344.0 112.3,334.1 113.9,334.1 113.9,322.0 115.5,322.0 115.5,317.4 117.1,317.4 117.1,313.7 118.7,313.7 118.7,308.1 120.3,308.1 120.3,305.8 121.9,305.8 121.9,299.5 123.5,299.5 123.5,289.6 125.1,289.6 125.1,295.0 126.7,295.0 126.7,295.4 128.3,295.4 128.3,304.0 129.9,304.0 129.9,306.3 131.5,306.3 131.5,316.3 133.1,316.3 133.1,312.0 134.7,312.0 134.7,315.9 136.3,315.9 136.3,334.8 137.9,334.8 137.9,356.5 139.5,356.5 139.5,367.1 141.1,367.1 141.1,374.0 142.7,374.0 142.7,376.3 144.3,376.3 144.3,378.6 145.9,378.6 145.9,379.8 147.5,379.8 147.5,379.6 149.1,379.6 149.1,381.0 150.7,381.0 150.7,380.2 152.3,380.2 152.3,380.5 153.9,380.5 153.9,380.0 155.5,380.0 155.5,378.2 157.1,378.2 157.1,378.9 158.7,378.9 158.7,379.4 160.3,379.4 160.3,378.2 161.9,378.2 161.9,378.1 163.5,378.1 163.5,379.8 165.1,379.8 165.1,380.1 166.7,380.1 166.7,379.2 168.3,379.2 168.3,379.3 169.9,379.3" fill="none" stroke="#000" stroke-width="2.4" stroke-linejoin="miter"/>
<rect x="35.5" y="352.5" width="3.0" height="32.0" fill="#000"/>
<rect x="34.5" y="280.8" width="157.2" height="105.0" fill="none" stroke="#000" stroke-width="2.0"/>
<text x="139.2" y="302.2" class="lb">CD40</text>
</g>
<g>
<rect x="196.6" y="280.8" width="157.1" height="105.0" fill="#fff" stroke="none"/>
<polygon points="197.6,384.5 197.6,381.9 199.2,381.9 199.2,381.8 200.8,381.8 200.8,382.6 202.4,382.6 202.4,381.8 204.0,381.8 204.0,382.1 205.6,382.1 205.6,382.2 207.2,382.2 207.2,381.5 208.8,381.5 208.8,381.0 210.4,381.0 210.4,378.8 212.0,378.8 212.0,379.3 213.6,379.3 213.6,379.0 215.2,379.0 215.2,378.8 216.8,378.8 216.8,378.4 218.4,378.4 218.4,379.2 220.0,379.2 220.0,376.8 221.6,376.8 221.6,377.2 223.2,377.2 223.2,376.2 224.8,376.2 224.8,374.6 226.4,374.6 226.4,373.3 228.0,373.3 228.0,369.4 229.6,369.4 229.6,368.7 231.2,368.7 231.2,361.6 232.8,361.6 232.8,360.3 234.4,360.3 234.4,354.5 236.0,354.5 236.0,348.6 237.6,348.6 237.6,344.3 239.2,344.3 239.2,343.9 240.8,343.9 240.8,341.6 242.4,341.6 242.4,334.8 244.0,334.8 244.0,332.4 245.6,332.4 245.6,331.1 247.2,331.1 247.2,329.2 248.8,329.2 248.8,335.5 250.4,335.5 250.4,333.6 252.0,333.6 252.0,336.7 253.6,336.7 253.6,335.4 255.2,335.4 255.2,340.7 256.8,340.7 256.8,339.3 258.4,339.3 258.4,339.8 260.0,339.8 260.0,346.7 261.6,346.7 261.6,351.0 263.2,351.0 263.2,359.7 264.8,359.7 264.8,363.4 266.4,363.4 266.4,366.9 268.0,366.9 268.0,370.7 269.6,370.7 269.6,374.1 271.2,374.1 271.2,374.2 272.8,374.2 272.8,376.7 274.4,376.7 274.4,377.5 276.0,377.5 276.0,378.0 277.6,378.0 277.6,379.4 279.2,379.4 279.2,379.8 280.8,379.8 280.8,379.5 282.4,379.5 282.4,381.4 284.0,381.4 284.0,380.0 285.6,380.0 285.6,382.1 287.2,382.1 287.2,381.9 288.8,381.9 288.8,382.8 290.4,382.8 290.4,380.2 292.0,380.2 292.0,382.4 293.6,382.4 293.6,381.3 295.2,381.3 295.2,381.3 296.8,381.3 296.8,380.8 298.4,380.8 298.4,380.2 300.0,380.2 300.0,381.2 301.6,381.2 301.6,381.0 303.2,381.0 303.2,381.8 304.8,381.8 304.8,380.5 306.4,380.5 306.4,382.5 308.0,382.5 308.0,381.7 309.6,381.7 309.6,381.3 311.2,381.3 311.2,381.0 312.8,381.0 312.8,380.9 314.4,380.9 314.4,380.7 316.0,380.7 316.0,381.1 317.6,381.1 317.6,381.5 319.2,381.5 319.2,381.4 320.8,381.4 320.8,380.5 322.4,380.5 322.4,381.3 324.0,381.3 324.0,380.9 325.6,380.9 325.6,381.6 327.2,381.6 327.2,382.8 328.8,382.8 328.8,381.9 330.4,381.9 330.4,381.3 332.0,381.3 332.0,380.4 333.6,380.4 333.6,380.5 335.2,380.5 335.2,380.3 336.8,380.3 336.8,382.0 338.4,382.0 338.4,381.0 340.0,381.0 340.0,381.5 341.6,381.5 341.6,381.1 343.2,381.1 343.2,381.6 344.8,381.6 344.8,382.5 346.4,382.5 346.4,384.5 348.0,384.5 348.0,384.5 349.6,384.5 349.6,384.5 351.2,384.5 351.2,384.5" fill="#575757" stroke="#000" stroke-width="0.7"/>
<polygon points="199.2,380.0 200.8,380.0 200.8,379.2 202.4,379.2 202.4,376.9 204.0,376.9 204.0,378.8 205.6,378.8 205.6,380.8 207.2,380.8 207.2,375.8 208.8,375.8 208.8,375.0 210.4,375.0 210.4,371.2 212.0,371.2 212.0,366.4 213.6,366.4 213.6,366.4 215.2,366.4 215.2,367.0 216.8,367.0 216.8,368.6 218.4,368.6 218.4,374.9 220.0,374.9 220.0,362.5 221.6,362.5 221.6,359.9 223.2,359.9 223.2,358.7 224.8,358.7 224.8,363.4 226.4,363.4 226.4,364.2 228.0,364.2 228.0,364.8 229.6,364.8 229.6,362.4 231.2,362.4 231.2,358.6 232.8,358.6 232.8,348.5 234.4,348.5 234.4,345.3 236.0,345.3 236.0,348.6 237.6,348.6 237.6,342.4 239.2,342.4 239.2,335.2 240.8,335.2 240.8,331.6 242.4,331.6 242.4,322.9 244.0,322.9 244.0,320.1 245.6,320.1 245.6,315.0 247.2,315.0 247.2,314.3 248.8,314.3 248.8,321.0 250.4,321.0 250.4,318.4 252.0,318.4 252.0,321.9 253.6,321.9 253.6,319.5 255.2,319.5 255.2,328.2 256.8,328.2 256.8,329.3 258.4,329.3 258.4,327.9 260.0,327.9 260.0,328.9 261.6,328.9 261.6,337.2 263.2,337.2 263.2,342.8 264.8,342.8 264.8,348.5 266.4,348.5 266.4,351.7 268.0,351.7 268.0,359.1 269.6,359.1 269.6,364.2 271.2,364.2 271.2,365.1 272.8,365.1 272.8,367.6 274.4,367.6 274.4,370.4 276.0,370.4 276.0,374.2 277.6,374.2 277.6,372.4 279.2,372.4 279.2,376.3 280.8,376.3 280.8,377.0 282.4,377.0 282.4,376.6 284.0,376.6 284.0,378.4 285.6,378.4 285.6,379.2 287.2,379.2 287.2,380.2 288.8,380.2 288.8,378.1 290.4,378.1 290.4,380.3 292.0,380.3 292.0,379.7 293.6,379.7 293.6,379.9 295.2,379.9 295.2,381.1 296.8,381.1 296.8,381.1 298.4,381.1 298.4,379.9 300.0,379.9 300.0,378.9 301.6,378.9 301.6,378.6 303.2,378.6 303.2,380.9 304.8,380.9 304.8,381.9 306.4,381.9 306.4,381.6 308.0,381.6 308.0,380.0 309.6,380.0 309.6,380.2 311.2,380.2 311.2,380.5 312.8,380.5 312.8,379.7 314.4,379.7 314.4,380.6 316.0,380.6 316.0,379.8 317.6,379.8 317.6,381.2 319.2,381.2 319.2,380.9 320.8,380.9 320.8,377.3 322.4,377.3 322.4,378.9 324.0,378.9 324.0,379.3 325.6,379.3 325.6,378.9 327.2,378.9 327.2,378.6 328.8,378.6 328.8,380.7 330.4,380.7 330.4,376.8 332.0,376.8 332.0,378.6 333.6,378.6 333.6,380.2 335.2,380.2 335.2,378.8 336.8,378.8 336.8,378.9 338.4,378.9 338.4,382.0 340.0,382.0 340.0,380.2 341.6,380.2 341.6,379.4 343.2,379.4 343.2,378.3 344.8,378.3 344.8,381.6 343.2,381.6 343.2,381.1 341.6,381.1 341.6,381.6 340.0,381.6 340.0,383.4 338.4,383.4 338.4,382.0 336.8,382.0 336.8,380.3 335.2,380.3 335.2,381.6 333.6,381.6 333.6,380.4 332.0,380.4 332.0,381.3 330.4,381.3 330.4,382.2 328.8,382.2 328.8,382.8 327.2,382.8 327.2,381.6 325.6,381.6 325.6,380.9 324.0,380.9 324.0,381.3 322.4,381.3 322.4,380.5 320.8,380.5 320.8,382.4 319.2,382.4 319.2,382.7 317.6,382.7 317.6,381.3 316.0,381.3 316.0,382.0 314.4,382.0 314.4,381.2 312.8,381.2 312.8,381.9 311.2,381.9 311.2,381.7 309.6,381.7 309.6,381.7 308.0,381.7 308.0,383.1 306.4,383.1 306.4,383.3 304.8,383.3 304.8,382.4 303.2,382.4 303.2,381.0 301.6,381.0 301.6,381.2 300.0,381.2 300.0,381.4 298.4,381.4 298.4,382.5 296.8,382.5 296.8,382.5 295.2,382.5 295.2,381.4 293.6,381.4 293.6,382.4 292.0,382.4 292.0,381.8 290.4,381.8 290.4,382.8 288.8,382.8 288.8,381.9 287.2,381.9 287.2,382.1 285.6,382.1 285.6,380.0 284.0,380.0 284.0,381.4 282.4,381.4 282.4,379.5 280.8,379.5 280.8,379.8 279.2,379.8 279.2,379.4 277.6,379.4 277.6,378.0 276.0,378.0 276.0,377.4 274.4,377.4 274.4,374.6 272.8,374.6 272.8,372.1 271.2,372.1 271.2,371.2 269.6,371.2 269.6,366.1 268.0,366.1 268.0,358.7 266.4,358.7 266.4,355.5 264.8,355.5 264.8,349.8 263.2,349.8 263.2,344.2 261.6,344.2 261.6,335.9 260.0,335.9 260.0,334.9 258.4,334.9 258.4,336.3 256.8,336.3 256.8,335.2 255.2,335.2 255.2,326.5 253.6,326.5 253.6,328.9 252.0,328.9 252.0,325.4 250.4,325.4 250.4,328.0 248.8,328.0 248.8,321.3 247.2,321.3 247.2,322.0 245.6,322.0 245.6,327.1 244.0,327.1 244.0,329.9 242.4,329.9 242.4,338.6 240.8,338.6 240.8,342.2 239.2,342.2 239.2,344.3 237.6,344.3 237.6,350.0 236.0,350.0 236.0,352.3 234.4,352.3 234.4,355.5 232.8,355.5 232.8,361.6 231.2,361.6 231.2,368.7 229.6,368.7 229.6,369.4 228.0,369.4 228.0,371.2 226.4,371.2 226.4,370.4 224.8,370.4 224.8,365.7 223.2,365.7 223.2,366.9 221.6,366.9 221.6,369.5 220.0,369.5 220.0,379.2 218.4,379.2 218.4,375.6 216.8,375.6 216.8,374.0 215.2,374.0 215.2,373.4 213.6,373.4 213.6,373.4 212.0,373.4 212.0,378.2 210.4,378.2 210.4,381.0 208.8,381.0 208.8,381.5 207.2,381.5 207.2,382.3 205.6,382.3 205.6,382.1 204.0,382.1 204.0,381.8 202.4,381.8 202.4,382.6 200.8,382.6 200.8,381.8 199.2,381.8" fill="#000"/>
<polyline points="199.2,380.0 200.8,380.0 200.8,379.2 202.4,379.2 202.4,376.9 204.0,376.9 204.0,378.8 205.6,378.8 205.6,380.8 207.2,380.8 207.2,375.8 208.8,375.8 208.8,375.0 210.4,375.0 210.4,371.2 212.0,371.2 212.0,366.4 213.6,366.4 213.6,366.4 215.2,366.4 215.2,367.0 216.8,367.0 216.8,368.6 218.4,368.6 218.4,374.9 220.0,374.9 220.0,362.5 221.6,362.5 221.6,359.9 223.2,359.9 223.2,358.7 224.8,358.7 224.8,363.4 226.4,363.4 226.4,364.2 228.0,364.2 228.0,364.8 229.6,364.8 229.6,362.4 231.2,362.4 231.2,358.6 232.8,358.6 232.8,348.5 234.4,348.5 234.4,345.3 236.0,345.3 236.0,348.6 237.6,348.6 237.6,342.4 239.2,342.4 239.2,335.2 240.8,335.2 240.8,331.6 242.4,331.6 242.4,322.9 244.0,322.9 244.0,320.1 245.6,320.1 245.6,315.0 247.2,315.0 247.2,314.3 248.8,314.3 248.8,321.0 250.4,321.0 250.4,318.4 252.0,318.4 252.0,321.9 253.6,321.9 253.6,319.5 255.2,319.5 255.2,328.2 256.8,328.2 256.8,329.3 258.4,329.3 258.4,327.9 260.0,327.9 260.0,328.9 261.6,328.9 261.6,337.2 263.2,337.2 263.2,342.8 264.8,342.8 264.8,348.5 266.4,348.5 266.4,351.7 268.0,351.7 268.0,359.1 269.6,359.1 269.6,364.2 271.2,364.2 271.2,365.1 272.8,365.1 272.8,367.6 274.4,367.6 274.4,370.4 276.0,370.4 276.0,374.2 277.6,374.2 277.6,372.4 279.2,372.4 279.2,376.3 280.8,376.3 280.8,377.0 282.4,377.0 282.4,376.6 284.0,376.6 284.0,378.4 285.6,378.4 285.6,379.2 287.2,379.2 287.2,380.2 288.8,380.2 288.8,378.1 290.4,378.1 290.4,380.3 292.0,380.3 292.0,379.7 293.6,379.7 293.6,379.9 295.2,379.9 295.2,381.1 296.8,381.1 296.8,381.1 298.4,381.1 298.4,379.9 300.0,379.9 300.0,378.9 301.6,378.9 301.6,378.6 303.2,378.6 303.2,380.9 304.8,380.9 304.8,381.9 306.4,381.9 306.4,381.6 308.0,381.6 308.0,380.0 309.6,380.0 309.6,380.2 311.2,380.2 311.2,380.5 312.8,380.5 312.8,379.7 314.4,379.7 314.4,380.6 316.0,380.6 316.0,379.8 317.6,379.8 317.6,381.2 319.2,381.2 319.2,380.9 320.8,380.9 320.8,377.3 322.4,377.3 322.4,378.9 324.0,378.9 324.0,379.3 325.6,379.3 325.6,378.9 327.2,378.9 327.2,378.6 328.8,378.6 328.8,380.7 330.4,380.7 330.4,376.8 332.0,376.8 332.0,378.6 333.6,378.6 333.6,380.2 335.2,380.2 335.2,378.8 336.8,378.8 336.8,378.9 338.4,378.9 338.4,382.0 340.0,382.0 340.0,380.2 341.6,380.2 341.6,379.4 343.2,379.4 343.2,378.3 344.8,378.3" fill="none" stroke="#000" stroke-width="2.4" stroke-linejoin="miter"/>
<rect x="197.6" y="356.0" width="2.9" height="28.5" fill="#000"/>
<rect x="196.6" y="280.8" width="157.1" height="105.0" fill="none" stroke="#000" stroke-width="2.0"/>
<text x="301.5" y="302.6" class="lb">CD80</text>
</g>
<g>
<rect x="358.9" y="280.8" width="157.1" height="105.0" fill="#fff" stroke="none"/>
<polygon points="359.9,384.5 359.9,379.7 361.5,379.7 361.5,381.6 363.1,381.6 363.1,381.0 364.7,381.0 364.7,382.5 366.3,382.5 366.3,381.3 367.9,381.3 367.9,375.8 369.5,375.8 369.5,368.8 371.1,368.8 371.1,362.1 372.7,362.1 372.7,355.8 374.3,355.8 374.3,351.4 375.9,351.4 375.9,351.2 377.5,351.2 377.5,347.8 379.1,347.8 379.1,345.9 380.7,345.9 380.7,346.1 382.3,346.1 382.3,344.9 383.9,344.9 383.9,343.4 385.5,343.4 385.5,342.9 387.1,342.9 387.1,347.2 388.7,347.2 388.7,346.2 390.3,346.2 390.3,348.0 391.9,348.0 391.9,347.2 393.5,347.2 393.5,344.9 395.1,344.9 395.1,343.2 396.7,343.2 396.7,342.7 398.3,342.7 398.3,342.7 399.9,342.7 399.9,342.3 401.5,342.3 401.5,342.7 403.1,342.7 403.1,344.6 404.7,344.6 404.7,348.4 406.3,348.4 406.3,349.5 407.9,349.5 407.9,354.7 409.5,354.7 409.5,357.3 411.1,357.3 411.1,361.4 412.7,361.4 412.7,361.6 414.3,361.6 414.3,362.2 415.9,362.2 415.9,363.8 417.5,363.8 417.5,363.3 419.1,363.3 419.1,366.9 420.7,366.9 420.7,368.0 422.3,368.0 422.3,369.7 423.9,369.7 423.9,369.9 425.5,369.9 425.5,370.4 427.1,370.4 427.1,370.6 428.7,370.6 428.7,372.0 430.3,372.0 430.3,373.8 431.9,373.8 431.9,372.6 433.5,372.6 433.5,373.8 435.1,373.8 435.1,373.4 436.7,373.4 436.7,376.3 438.3,376.3 438.3,376.4 439.9,376.4 439.9,376.3 441.5,376.3 441.5,375.1 443.1,375.1 443.1,376.5 444.7,376.5 444.7,377.5 446.3,377.5 446.3,378.6 447.9,378.6 447.9,379.2 449.5,379.2 449.5,381.0 451.1,381.0 451.1,381.3 452.7,381.3 452.7,381.6 454.3,381.6 454.3,381.1 455.9,381.1 455.9,381.5 457.5,381.5 457.5,380.6 459.1,380.6 459.1,381.3 460.7,381.3 460.7,382.0 462.3,382.0 462.3,382.9 463.9,382.9 463.9,382.0 465.5,382.0 465.5,381.7 467.1,381.7 467.1,382.3 468.7,382.3 468.7,382.2 470.3,382.2 470.3,382.7 471.9,382.7 471.9,382.3 473.5,382.3 473.5,381.4 475.1,381.4 475.1,381.7 476.7,381.7 476.7,381.6 478.3,381.6 478.3,381.7 479.9,381.7 479.9,381.6 481.5,381.6 481.5,381.0 483.1,381.0 483.1,380.0 484.7,380.0 484.7,381.0 486.3,381.0 486.3,380.1 487.9,380.1 487.9,381.5 489.5,381.5 489.5,381.5 491.1,381.5 491.1,380.3 492.7,380.3 492.7,382.0 494.3,382.0 494.3,382.1 495.9,382.1 495.9,381.6 497.5,381.6 497.5,382.7 499.1,382.7 499.1,382.8 500.7,382.8 500.7,380.7 502.3,380.7 502.3,382.2 503.9,382.2 503.9,381.8 505.5,381.8 505.5,381.8 507.1,381.8 507.1,384.5 508.7,384.5 508.7,384.5 510.3,384.5 510.3,384.5 511.9,384.5 511.9,384.5 513.5,384.5 513.5,384.5" fill="#575757" stroke="#000" stroke-width="0.7"/>
<polygon points="361.5,363.3 363.1,363.3 363.1,369.8 364.7,369.8 364.7,374.1 366.3,374.1 366.3,370.9 367.9,370.9 367.9,367.9 369.5,367.9 369.5,356.3 371.1,356.3 371.1,352.5 372.7,352.5 372.7,348.2 374.3,348.2 374.3,345.9 375.9,345.9 375.9,342.4 377.5,342.4 377.5,342.0 379.1,342.0 379.1,335.4 380.7,335.4 380.7,332.1 382.3,332.1 382.3,332.7 383.9,332.7 383.9,329.4 385.5,329.4 385.5,324.3 387.1,324.3 387.1,330.8 388.7,330.8 388.7,320.7 390.3,320.7 390.3,328.6 391.9,328.6 391.9,333.3 393.5,333.3 393.5,336.5 395.1,336.5 395.1,335.6 396.7,335.6 396.7,333.1 398.3,333.1 398.3,334.8 399.9,334.8 399.9,341.5 401.5,341.5 401.5,342.5 403.1,342.5 403.1,346.2 404.7,346.2 404.7,344.4 406.3,344.4 406.3,337.8 407.9,337.8 407.9,343.8 409.5,343.8 409.5,345.7 411.1,345.7 411.1,346.6 412.7,346.6 412.7,351.9 414.3,351.9 414.3,353.7 415.9,353.7 415.9,359.8 417.5,359.8 417.5,354.1 419.1,354.1 419.1,354.9 420.7,354.9 420.7,363.7 422.3,363.7 422.3,363.6 423.9,363.6 423.9,368.8 425.5,368.8 425.5,364.9 427.1,364.9 427.1,361.6 428.7,361.6 428.7,364.3 430.3,364.3 430.3,366.1 431.9,366.1 431.9,369.1 433.5,369.1 433.5,368.9 435.1,368.9 435.1,372.8 436.7,372.8 436.7,373.8 438.3,373.8 438.3,367.9 439.9,367.9 439.9,372.0 441.5,372.0 441.5,370.0 443.1,370.0 443.1,376.8 444.7,376.8 444.7,376.7 446.3,376.7 446.3,376.8 447.9,376.8 447.9,379.0 449.5,379.0 449.5,378.6 451.1,378.6 451.1,377.7 452.7,377.7 452.7,379.1 454.3,379.1 454.3,378.1 455.9,378.1 455.9,376.9 457.5,376.9 457.5,380.6 459.1,380.6 459.1,378.5 460.7,378.5 460.7,378.3 462.3,378.3 462.3,379.3 463.9,379.3 463.9,379.5 465.5,379.5 465.5,379.4 467.1,379.4 467.1,380.8 468.7,380.8 468.7,377.4 470.3,377.4 470.3,377.3 471.9,377.3 471.9,378.4 473.5,378.4 473.5,379.7 475.1,379.7 475.1,380.2 476.7,380.2 476.7,379.5 478.3,379.5 478.3,379.7 479.9,379.7 479.9,379.8 481.5,379.8 481.5,376.6 483.1,376.6 483.1,378.9 484.7,378.9 484.7,383.5 486.3,383.5 486.3,379.1 487.9,379.1 487.9,381.5 489.5,381.5 489.5,379.5 491.1,379.5 491.1,378.8 492.7,378.8 492.7,374.7 494.3,374.7 494.3,378.8 495.9,378.8 495.9,379.1 497.5,379.1 497.5,379.4 499.1,379.4 499.1,379.4 500.7,379.4 500.7,379.6 502.3,379.6 502.3,379.5 503.9,379.5 503.9,377.0 505.5,377.0 505.5,381.8 503.9,381.8 503.9,382.2 502.3,382.2 502.3,381.0 500.7,381.0 500.7,382.8 499.1,382.8 499.1,382.7 497.5,382.7 497.5,381.6 495.9,381.6 495.9,382.1 494.3,382.1 494.3,382.0 492.7,382.0 492.7,380.3 491.1,380.3 491.1,381.5 489.5,381.5 489.5,383.0 487.9,383.0 487.9,380.6 486.3,380.6 486.3,384.5 484.7,384.5 484.7,380.3 483.1,380.3 483.1,381.0 481.5,381.0 481.5,381.6 479.9,381.6 479.9,381.7 478.3,381.7 478.3,381.6 476.7,381.6 476.7,381.7 475.1,381.7 475.1,381.4 473.5,381.4 473.5,382.3 471.9,382.3 471.9,382.7 470.3,382.7 470.3,382.2 468.7,382.2 468.7,382.3 467.1,382.3 467.1,381.7 465.5,381.7 465.5,382.0 463.9,382.0 463.9,382.9 462.3,382.9 462.3,382.0 460.7,382.0 460.7,381.3 459.1,381.3 459.1,382.0 457.5,382.0 457.5,381.5 455.9,381.5 455.9,381.1 454.3,381.1 454.3,381.6 452.7,381.6 452.7,381.3 451.1,381.3 451.1,381.0 449.5,381.0 449.5,380.4 447.9,380.4 447.9,378.6 446.3,378.6 446.3,378.2 444.7,378.2 444.7,378.2 443.1,378.2 443.1,375.1 441.5,375.1 441.5,376.3 439.9,376.3 439.9,376.4 438.3,376.4 438.3,376.3 436.7,376.3 436.7,374.2 435.1,374.2 435.1,373.8 433.5,373.8 433.5,372.6 431.9,372.6 431.9,373.8 430.3,373.8 430.3,372.0 428.7,372.0 428.7,370.6 427.1,370.6 427.1,370.4 425.5,370.4 425.5,370.2 423.9,370.2 423.9,369.7 422.3,369.7 422.3,368.0 420.7,368.0 420.7,363.9 419.1,363.9 419.1,363.1 417.5,363.1 417.5,363.8 415.9,363.8 415.9,362.2 414.3,362.2 414.3,360.9 412.7,360.9 412.7,355.6 411.1,355.6 411.1,354.7 409.5,354.7 409.5,352.8 407.9,352.8 407.9,346.8 406.3,346.8 406.3,348.4 404.7,348.4 404.7,347.6 403.1,347.6 403.1,344.0 401.5,344.0 401.5,343.0 399.9,343.0 399.9,342.7 398.3,342.7 398.3,342.1 396.7,342.1 396.7,343.2 395.1,343.2 395.1,344.9 393.5,344.9 393.5,342.3 391.9,342.3 391.9,337.6 390.3,337.6 390.3,329.7 388.7,329.7 388.7,339.8 387.1,339.8 387.1,333.3 385.5,333.3 385.5,338.4 383.9,338.4 383.9,341.7 382.3,341.7 382.3,341.1 380.7,341.1 380.7,344.4 379.1,344.4 379.1,347.8 377.5,347.8 377.5,351.2 375.9,351.2 375.9,351.4 374.3,351.4 374.3,355.8 372.7,355.8 372.7,361.5 371.1,361.5 371.1,365.3 369.5,365.3 369.5,375.8 367.9,375.8 367.9,379.9 366.3,379.9 366.3,382.5 364.7,382.5 364.7,378.8 363.1,378.8 363.1,372.3 361.5,372.3" fill="#000"/>
<polyline points="361.5,363.3 363.1,363.3 363.1,369.8 364.7,369.8 364.7,374.1 366.3,374.1 366.3,370.9 367.9,370.9 367.9,367.9 369.5,367.9 369.5,356.3 371.1,356.3 371.1,352.5 372.7,352.5 372.7,348.2 374.3,348.2 374.3,345.9 375.9,345.9 375.9,342.4 377.5,342.4 377.5,342.0 379.1,342.0 379.1,335.4 380.7,335.4 380.7,332.1 382.3,332.1 382.3,332.7 383.9,332.7 383.9,329.4 385.5,329.4 385.5,324.3 387.1,324.3 387.1,330.8 388.7,330.8 388.7,320.7 390.3,320.7 390.3,328.6 391.9,328.6 391.9,333.3 393.5,333.3 393.5,336.5 395.1,336.5 395.1,335.6 396.7,335.6 396.7,333.1 398.3,333.1 398.3,334.8 399.9,334.8 399.9,341.5 401.5,341.5 401.5,342.5 403.1,342.5 403.1,346.2 404.7,346.2 404.7,344.4 406.3,344.4 406.3,337.8 407.9,337.8 407.9,343.8 409.5,343.8 409.5,345.7 411.1,345.7 411.1,346.6 412.7,346.6 412.7,351.9 414.3,351.9 414.3,353.7 415.9,353.7 415.9,359.8 417.5,359.8 417.5,354.1 419.1,354.1 419.1,354.9 420.7,354.9 420.7,363.7 422.3,363.7 422.3,363.6 423.9,363.6 423.9,368.8 425.5,368.8 425.5,364.9 427.1,364.9 427.1,361.6 428.7,361.6 428.7,364.3 430.3,364.3 430.3,366.1 431.9,366.1 431.9,369.1 433.5,369.1 433.5,368.9 435.1,368.9 435.1,372.8 436.7,372.8 436.7,373.8 438.3,373.8 438.3,367.9 439.9,367.9 439.9,372.0 441.5,372.0 441.5,370.0 443.1,370.0 443.1,376.8 444.7,376.8 444.7,376.7 446.3,376.7 446.3,376.8 447.9,376.8 447.9,379.0 449.5,379.0 449.5,378.6 451.1,378.6 451.1,377.7 452.7,377.7 452.7,379.1 454.3,379.1 454.3,378.1 455.9,378.1 455.9,376.9 457.5,376.9 457.5,380.6 459.1,380.6 459.1,378.5 460.7,378.5 460.7,378.3 462.3,378.3 462.3,379.3 463.9,379.3 463.9,379.5 465.5,379.5 465.5,379.4 467.1,379.4 467.1,380.8 468.7,380.8 468.7,377.4 470.3,377.4 470.3,377.3 471.9,377.3 471.9,378.4 473.5,378.4 473.5,379.7 475.1,379.7 475.1,380.2 476.7,380.2 476.7,379.5 478.3,379.5 478.3,379.7 479.9,379.7 479.9,379.8 481.5,379.8 481.5,376.6 483.1,376.6 483.1,378.9 484.7,378.9 484.7,383.5 486.3,383.5 486.3,379.1 487.9,379.1 487.9,381.5 489.5,381.5 489.5,379.5 491.1,379.5 491.1,378.8 492.7,378.8 492.7,374.7 494.3,374.7 494.3,378.8 495.9,378.8 495.9,379.1 497.5,379.1 497.5,379.4 499.1,379.4 499.1,379.4 500.7,379.4 500.7,379.6 502.3,379.6 502.3,379.5 503.9,379.5 503.9,377.0 505.5,377.0" fill="none" stroke="#000" stroke-width="2.4" stroke-linejoin="miter"/>
<rect x="359.9" y="348.4" width="1.9" height="36.1" fill="#000"/>
<rect x="358.9" y="280.8" width="157.1" height="105.0" fill="none" stroke="#000" stroke-width="2.0"/>
<text x="463.5" y="302.6" class="lb">CD83</text>
</g>
<g>
<rect x="34.5" y="392.9" width="157.2" height="104.3" fill="#fff" stroke="none"/>
<polygon points="35.5,495.9 35.5,491.9 37.1,491.9 37.1,494.5 38.7,494.5 38.7,493.7 40.3,493.7 40.3,492.7 41.9,492.7 41.9,492.1 43.5,492.1 43.5,493.2 45.1,493.2 45.1,491.6 46.7,491.6 46.7,492.4 48.3,492.4 48.3,493.4 49.9,493.4 49.9,493.0 51.5,493.0 51.5,492.6 53.1,492.6 53.1,493.6 54.7,493.6 54.7,492.2 56.3,492.2 56.3,495.0 57.9,495.0 57.9,493.7 59.5,493.7 59.5,493.5 61.1,493.5 61.1,492.5 62.7,492.5 62.7,491.4 64.3,491.4 64.3,488.2 65.9,488.2 65.9,487.7 67.5,487.7 67.5,485.4 69.1,485.4 69.1,482.4 70.7,482.4 70.7,482.2 72.3,482.2 72.3,481.3 73.9,481.3 73.9,480.1 75.5,480.1 75.5,479.9 77.1,479.9 77.1,477.1 78.7,477.1 78.7,477.3 80.3,477.3 80.3,477.0 81.9,477.0 81.9,476.1 83.5,476.1 83.5,476.1 85.1,476.1 85.1,473.4 86.7,473.4 86.7,472.7 88.3,472.7 88.3,474.1 89.9,474.1 89.9,473.6 91.5,473.6 91.5,474.6 93.1,474.6 93.1,472.2 94.7,472.2 94.7,469.8 96.3,469.8 96.3,470.8 97.9,470.8 97.9,468.2 99.5,468.2 99.5,466.9 101.1,466.9 101.1,471.0 102.7,471.0 102.7,468.1 104.3,468.1 104.3,466.7 105.9,466.7 105.9,463.4 107.5,463.4 107.5,461.6 109.1,461.6 109.1,455.0 110.7,455.0 110.7,455.9 112.3,455.9 112.3,456.3 113.9,456.3 113.9,458.6 115.5,458.6 115.5,463.0 117.1,463.0 117.1,464.1 118.7,464.1 118.7,460.3 120.3,460.3 120.3,456.7 121.9,456.7 121.9,456.1 123.5,456.1 123.5,456.7 125.1,456.7 125.1,467.3 126.7,467.3 126.7,472.1 128.3,472.1 128.3,475.1 129.9,475.1 129.9,478.0 131.5,478.0 131.5,480.8 133.1,480.8 133.1,482.4 134.7,482.4 134.7,485.5 136.3,485.5 136.3,487.1 137.9,487.1 137.9,491.0 139.5,491.0 139.5,493.7 141.1,493.7 141.1,493.1 142.7,493.1 142.7,492.6 144.3,492.6 144.3,492.3 145.9,492.3 145.9,493.2 147.5,493.2 147.5,492.2 149.1,492.2 149.1,494.2 150.7,494.2 150.7,492.5 152.3,492.5 152.3,494.3 153.9,494.3 153.9,492.1 155.5,492.1 155.5,493.3 157.1,493.3 157.1,492.1 158.7,492.1 158.7,492.0 160.3,492.0 160.3,493.0 161.9,493.0 161.9,493.4 163.5,493.4 163.5,492.0 165.1,492.0 165.1,493.7 166.7,493.7 166.7,492.3 168.3,492.3 168.3,493.0 169.9,493.0 169.9,493.2 171.5,493.2 171.5,493.3 173.1,493.3 173.1,491.6 174.7,491.6 174.7,494.0 176.3,494.0 176.3,493.3 177.9,493.3 177.9,492.6 179.5,492.6 179.5,492.2 181.1,492.2 181.1,491.7 182.7,491.7 182.7,495.9 184.3,495.9 184.3,495.9 185.9,495.9 185.9,495.9 187.5,495.9 187.5,495.9 189.1,495.9 189.1,495.9" fill="#575757" stroke="#000" stroke-width="0.7"/>
<polygon points="37.1,491.9 38.7,491.9 38.7,491.7 40.3,491.7 40.3,490.4 41.9,490.4 41.9,486.4 43.5,486.4 43.5,483.9 45.1,483.9 45.1,481.6 46.7,481.6 46.7,480.2 48.3,480.2 48.3,480.8 49.9,480.8 49.9,481.8 51.5,481.8 51.5,482.4 53.1,482.4 53.1,483.7 54.7,483.7 54.7,484.5 56.3,484.5 56.3,483.6 57.9,483.6 57.9,483.0 59.5,483.0 59.5,479.5 61.1,479.5 61.1,475.4 62.7,475.4 62.7,479.5 64.3,479.5 64.3,478.5 65.9,478.5 65.9,477.0 67.5,477.0 67.5,475.2 69.1,475.2 69.1,468.6 70.7,468.6 70.7,464.3 72.3,464.3 72.3,462.3 73.9,462.3 73.9,463.8 75.5,463.8 75.5,463.3 77.1,463.3 77.1,463.3 78.7,463.3 78.7,458.5 80.3,458.5 80.3,457.8 81.9,457.8 81.9,461.1 83.5,461.1 83.5,462.4 85.1,462.4 85.1,453.0 86.7,453.0 86.7,454.9 88.3,454.9 88.3,458.4 89.9,458.4 89.9,464.4 91.5,464.4 91.5,459.0 93.1,459.0 93.1,464.5 94.7,464.5 94.7,458.5 96.3,458.5 96.3,454.7 97.9,454.7 97.9,444.7 99.5,444.7 99.5,456.2 101.1,456.2 101.1,448.3 102.7,448.3 102.7,452.7 104.3,452.7 104.3,460.3 105.9,460.3 105.9,455.9 107.5,455.9 107.5,454.7 109.1,454.7 109.1,454.9 110.7,454.9 110.7,452.1 112.3,452.1 112.3,451.4 113.9,451.4 113.9,451.9 115.5,451.9 115.5,459.2 117.1,459.2 117.1,456.3 118.7,456.3 118.7,455.6 120.3,455.6 120.3,445.8 121.9,445.8 121.9,449.3 123.5,449.3 123.5,456.0 125.1,456.0 125.1,462.2 126.7,462.2 126.7,466.2 128.3,466.2 128.3,471.9 129.9,471.9 129.9,470.0 131.5,470.0 131.5,470.7 133.1,470.7 133.1,475.6 134.7,475.6 134.7,478.9 136.3,478.9 136.3,481.3 137.9,481.3 137.9,481.2 139.5,481.2 139.5,484.9 141.1,484.9 141.1,488.8 142.7,488.8 142.7,487.6 144.3,487.6 144.3,488.4 145.9,488.4 145.9,490.7 147.5,490.7 147.5,491.8 149.1,491.8 149.1,489.9 150.7,489.9 150.7,489.4 152.3,489.4 152.3,490.6 153.9,490.6 153.9,491.3 155.5,491.3 155.5,492.3 157.1,492.3 157.1,491.0 158.7,491.0 158.7,488.9 160.3,488.9 160.3,490.8 161.9,490.8 161.9,490.6 163.5,490.6 163.5,494.9 165.1,494.9 165.1,491.3 166.7,491.3 166.7,490.7 168.3,490.7 168.3,490.6 169.9,490.6 169.9,491.6 171.5,491.6 171.5,489.4 173.1,489.4 173.1,491.8 174.7,491.8 174.7,491.3 176.3,491.3 176.3,490.8 177.9,490.8 177.9,491.4 179.5,491.4 179.5,490.7 181.1,490.7 181.1,492.2 179.5,492.2 179.5,492.8 177.9,492.8 177.9,493.3 176.3,493.3 176.3,494.0 174.7,494.0 174.7,493.2 173.1,493.2 173.1,493.3 171.5,493.3 171.5,493.2 169.9,493.2 169.9,493.0 168.3,493.0 168.3,492.3 166.7,492.3 166.7,493.7 165.1,493.7 165.1,495.9 163.5,495.9 163.5,493.4 161.9,493.4 161.9,493.0 160.3,493.0 160.3,492.0 158.7,492.0 158.7,492.4 157.1,492.4 157.1,493.7 155.5,493.7 155.5,492.7 153.9,492.7 153.9,494.3 152.3,494.3 152.3,492.5 150.7,492.5 150.7,494.2 149.1,494.2 149.1,493.2 147.5,493.2 147.5,493.2 145.9,493.2 145.9,492.3 144.3,492.3 144.3,492.6 142.7,492.6 142.7,493.1 141.1,493.1 141.1,493.7 139.5,493.7 139.5,491.0 137.9,491.0 137.9,487.1 136.3,487.1 136.3,485.5 134.7,485.5 134.7,482.4 133.1,482.4 133.1,480.8 131.5,480.8 131.5,478.0 129.9,478.0 129.9,475.1 128.3,475.1 128.3,472.1 126.7,472.1 126.7,467.3 125.1,467.3 125.1,457.4 123.5,457.4 123.5,456.1 121.9,456.1 121.9,456.7 120.3,456.7 120.3,460.3 118.7,460.3 118.7,464.1 117.1,464.1 117.1,463.0 115.5,463.0 115.5,458.6 113.9,458.6 113.9,456.3 112.3,456.3 112.3,455.9 110.7,455.9 110.7,456.3 109.1,456.3 109.1,461.6 107.5,461.6 107.5,463.4 105.9,463.4 105.9,466.7 104.3,466.7 104.3,464.7 102.7,464.7 102.7,460.3 101.1,460.3 101.1,466.9 99.5,466.9 99.5,456.7 97.9,456.7 97.9,466.7 96.3,466.7 96.3,469.8 94.7,469.8 94.7,472.2 93.1,472.2 93.1,471.0 91.5,471.0 91.5,473.6 89.9,473.6 89.9,470.4 88.3,470.4 88.3,466.9 86.7,466.9 86.7,465.0 85.1,465.0 85.1,474.4 83.5,474.4 83.5,473.1 81.9,473.1 81.9,469.8 80.3,469.8 80.3,470.5 78.7,470.5 78.7,475.3 77.1,475.3 77.1,475.3 75.5,475.3 75.5,475.8 73.9,475.8 73.9,474.3 72.3,474.3 72.3,476.3 70.7,476.3 70.7,480.6 69.1,480.6 69.1,485.4 67.5,485.4 67.5,487.7 65.9,487.7 65.9,488.2 64.3,488.2 64.3,491.4 62.7,491.4 62.7,487.4 61.1,487.4 61.1,491.5 59.5,491.5 59.5,493.7 57.9,493.7 57.9,495.0 56.3,495.0 56.3,492.2 54.7,492.2 54.7,493.6 53.1,493.6 53.1,492.6 51.5,492.6 51.5,493.0 49.9,493.0 49.9,492.8 48.3,492.8 48.3,492.2 46.7,492.2 46.7,491.6 45.1,491.6 45.1,493.2 43.5,493.2 43.5,492.1 41.9,492.1 41.9,492.7 40.3,492.7 40.3,493.7 38.7,493.7 38.7,494.5 37.1,494.5" fill="#000"/>
<polyline points="37.1,491.9 38.7,491.9 38.7,491.7 40.3,491.7 40.3,490.4 41.9,490.4 41.9,486.4 43.5,486.4 43.5,483.9 45.1,483.9 45.1,481.6 46.7,481.6 46.7,480.2 48.3,480.2 48.3,480.8 49.9,480.8 49.9,481.8 51.5,481.8 51.5,482.4 53.1,482.4 53.1,483.7 54.7,483.7 54.7,484.5 56.3,484.5 56.3,483.6 57.9,483.6 57.9,483.0 59.5,483.0 59.5,479.5 61.1,479.5 61.1,475.4 62.7,475.4 62.7,479.5 64.3,479.5 64.3,478.5 65.9,478.5 65.9,477.0 67.5,477.0 67.5,475.2 69.1,475.2 69.1,468.6 70.7,468.6 70.7,464.3 72.3,464.3 72.3,462.3 73.9,462.3 73.9,463.8 75.5,463.8 75.5,463.3 77.1,463.3 77.1,463.3 78.7,463.3 78.7,458.5 80.3,458.5 80.3,457.8 81.9,457.8 81.9,461.1 83.5,461.1 83.5,462.4 85.1,462.4 85.1,453.0 86.7,453.0 86.7,454.9 88.3,454.9 88.3,458.4 89.9,458.4 89.9,464.4 91.5,464.4 91.5,459.0 93.1,459.0 93.1,464.5 94.7,464.5 94.7,458.5 96.3,458.5 96.3,454.7 97.9,454.7 97.9,444.7 99.5,444.7 99.5,456.2 101.1,456.2 101.1,448.3 102.7,448.3 102.7,452.7 104.3,452.7 104.3,460.3 105.9,460.3 105.9,455.9 107.5,455.9 107.5,454.7 109.1,454.7 109.1,454.9 110.7,454.9 110.7,452.1 112.3,452.1 112.3,451.4 113.9,451.4 113.9,451.9 115.5,451.9 115.5,459.2 117.1,459.2 117.1,456.3 118.7,456.3 118.7,455.6 120.3,455.6 120.3,445.8 121.9,445.8 121.9,449.3 123.5,449.3 123.5,456.0 125.1,456.0 125.1,462.2 126.7,462.2 126.7,466.2 128.3,466.2 128.3,471.9 129.9,471.9 129.9,470.0 131.5,470.0 131.5,470.7 133.1,470.7 133.1,475.6 134.7,475.6 134.7,478.9 136.3,478.9 136.3,481.3 137.9,481.3 137.9,481.2 139.5,481.2 139.5,484.9 141.1,484.9 141.1,488.8 142.7,488.8 142.7,487.6 144.3,487.6 144.3,488.4 145.9,488.4 145.9,490.7 147.5,490.7 147.5,491.8 149.1,491.8 149.1,489.9 150.7,489.9 150.7,489.4 152.3,489.4 152.3,490.6 153.9,490.6 153.9,491.3 155.5,491.3 155.5,492.3 157.1,492.3 157.1,491.0 158.7,491.0 158.7,488.9 160.3,488.9 160.3,490.8 161.9,490.8 161.9,490.6 163.5,490.6 163.5,494.9 165.1,494.9 165.1,491.3 166.7,491.3 166.7,490.7 168.3,490.7 168.3,490.6 169.9,490.6 169.9,491.6 171.5,491.6 171.5,489.4 173.1,489.4 173.1,491.8 174.7,491.8 174.7,491.3 176.3,491.3 176.3,490.8 177.9,490.8 177.9,491.4 179.5,491.4 179.5,490.7 181.1,490.7" fill="none" stroke="#000" stroke-width="2.4" stroke-linejoin="miter"/>
<rect x="35.5" y="450.0" width="3.0" height="45.9" fill="#000"/>
<rect x="34.5" y="392.9" width="157.2" height="104.3" fill="none" stroke="#000" stroke-width="2.0"/>
<text x="139.5" y="414.6" class="lb">CD86</text>
</g>
<g>
<rect x="196.6" y="392.9" width="157.1" height="104.3" fill="#fff" stroke="none"/>
<polygon points="197.6,495.9 197.6,491.7 199.2,491.7 199.2,492.8 200.8,492.8 200.8,491.9 202.4,491.9 202.4,493.1 204.0,493.1 204.0,493.2 205.6,493.2 205.6,492.9 207.2,492.9 207.2,494.3 208.8,494.3 208.8,493.3 210.4,493.3 210.4,493.3 212.0,493.3 212.0,493.0 213.6,493.0 213.6,488.4 215.2,488.4 215.2,487.6 216.8,487.6 216.8,483.6 218.4,483.6 218.4,480.8 220.0,480.8 220.0,478.4 221.6,478.4 221.6,475.1 223.2,475.1 223.2,471.8 224.8,471.8 224.8,469.4 226.4,469.4 226.4,464.4 228.0,464.4 228.0,461.7 229.6,461.7 229.6,456.1 231.2,456.1 231.2,453.5 232.8,453.5 232.8,448.9 234.4,448.9 234.4,444.4 236.0,444.4 236.0,441.5 237.6,441.5 237.6,438.3 239.2,438.3 239.2,436.3 240.8,436.3 240.8,435.0 242.4,435.0 242.4,432.4 244.0,432.4 244.0,431.0 245.6,431.0 245.6,433.1 247.2,433.1 247.2,430.1 248.8,430.1 248.8,431.6 250.4,431.6 250.4,434.1 252.0,434.1 252.0,427.4 253.6,427.4 253.6,429.8 255.2,429.8 255.2,431.3 256.8,431.3 256.8,427.4 258.4,427.4 258.4,435.6 260.0,435.6 260.0,432.6 261.6,432.6 261.6,444.5 263.2,444.5 263.2,447.8 264.8,447.8 264.8,450.1 266.4,450.1 266.4,451.8 268.0,451.8 268.0,455.9 269.6,455.9 269.6,460.8 271.2,460.8 271.2,470.4 272.8,470.4 272.8,475.7 274.4,475.7 274.4,482.7 276.0,482.7 276.0,486.9 277.6,486.9 277.6,488.2 279.2,488.2 279.2,490.4 280.8,490.4 280.8,492.4 282.4,492.4 282.4,492.8 284.0,492.8 284.0,493.6 285.6,493.6 285.6,493.7 287.2,493.7 287.2,492.0 288.8,492.0 288.8,493.6 290.4,493.6 290.4,493.3 292.0,493.3 292.0,493.6 293.6,493.6 293.6,493.2 295.2,493.2 295.2,492.0 296.8,492.0 296.8,492.1 298.4,492.1 298.4,494.2 300.0,494.2 300.0,493.1 301.6,493.1 301.6,491.9 303.2,491.9 303.2,493.1 304.8,493.1 304.8,492.6 306.4,492.6 306.4,491.6 308.0,491.6 308.0,491.3 309.6,491.3 309.6,491.8 311.2,491.8 311.2,493.1 312.8,493.1 312.8,492.9 314.4,492.9 314.4,492.7 316.0,492.7 316.0,493.1 317.6,493.1 317.6,493.3 319.2,493.3 319.2,491.4 320.8,491.4 320.8,492.7 322.4,492.7 322.4,492.3 324.0,492.3 324.0,492.0 325.6,492.0 325.6,492.5 327.2,492.5 327.2,492.8 328.8,492.8 328.8,492.7 330.4,492.7 330.4,491.9 332.0,491.9 332.0,492.6 333.6,492.6 333.6,494.3 335.2,494.3 335.2,492.2 336.8,492.2 336.8,491.7 338.4,491.7 338.4,493.1 340.0,493.1 340.0,493.3 341.6,493.3 341.6,495.9 343.2,495.9 343.2,495.9 344.8,495.9 344.8,495.9 346.4,495.9 346.4,495.9 348.0,495.9 348.0,495.9 349.6,495.9 349.6,495.9 351.2,495.9 351.2,495.9" fill="#575757" stroke="#000" stroke-width="0.7"/>
<polygon points="199.2,493.4 200.8,493.4 200.8,492.6 202.4,492.6 202.4,492.9 204.0,492.9 204.0,491.9 205.6,491.9 205.6,492.1 207.2,492.1 207.2,490.1 208.8,490.1 208.8,486.0 210.4,486.0 210.4,484.7 212.0,484.7 212.0,478.8 213.6,478.8 213.6,478.2 215.2,478.2 215.2,477.8 216.8,477.8 216.8,476.8 218.4,476.8 218.4,476.0 220.0,476.0 220.0,475.4 221.6,475.4 221.6,464.2 223.2,464.2 223.2,466.5 224.8,466.5 224.8,465.8 226.4,465.8 226.4,458.9 228.0,458.9 228.0,456.2 229.6,456.2 229.6,453.6 231.2,453.6 231.2,451.9 232.8,451.9 232.8,439.9 234.4,439.9 234.4,437.6 236.0,437.6 236.0,433.0 237.6,433.0 237.6,430.7 239.2,430.7 239.2,424.2 240.8,424.2 240.8,428.9 242.4,428.9 242.4,424.3 244.0,424.3 244.0,422.6 245.6,422.6 245.6,418.5 247.2,418.5 247.2,419.8 248.8,419.8 248.8,424.3 250.4,424.3 250.4,425.0 252.0,425.0 252.0,415.2 253.6,415.2 253.6,424.3 255.2,424.3 255.2,413.0 256.8,413.0 256.8,410.9 258.4,410.9 258.4,425.1 260.0,425.1 260.0,425.7 261.6,425.7 261.6,426.6 263.2,426.6 263.2,418.2 264.8,418.2 264.8,416.2 266.4,416.2 266.4,426.4 268.0,426.4 268.0,436.8 269.6,436.8 269.6,441.6 271.2,441.6 271.2,450.3 272.8,450.3 272.8,443.3 274.4,443.3 274.4,452.0 276.0,452.0 276.0,460.7 277.6,460.7 277.6,465.8 279.2,465.8 279.2,472.6 280.8,472.6 280.8,484.0 282.4,484.0 282.4,482.3 284.0,482.3 284.0,487.6 285.6,487.6 285.6,486.5 287.2,486.5 287.2,487.0 288.8,487.0 288.8,488.5 290.4,488.5 290.4,489.6 292.0,489.6 292.0,490.6 293.6,490.6 293.6,490.2 295.2,490.2 295.2,490.0 296.8,490.0 296.8,490.1 298.4,490.1 298.4,491.2 300.0,491.2 300.0,490.7 301.6,490.7 301.6,489.3 303.2,489.3 303.2,490.2 304.8,490.2 304.8,491.5 306.4,491.5 306.4,491.4 308.0,491.4 308.0,490.2 309.6,490.2 309.6,490.1 311.2,490.1 311.2,491.5 312.8,491.5 312.8,491.9 314.4,491.9 314.4,490.2 316.0,490.2 316.0,490.1 317.6,490.1 317.6,490.3 319.2,490.3 319.2,489.7 320.8,489.7 320.8,490.7 322.4,490.7 322.4,490.9 324.0,490.9 324.0,491.2 325.6,491.2 325.6,488.9 327.2,488.9 327.2,490.0 328.8,490.0 328.8,489.6 330.4,489.6 330.4,490.3 332.0,490.3 332.0,490.0 333.6,490.0 333.6,492.8 335.2,492.8 335.2,490.6 336.8,490.6 336.8,489.7 338.4,489.7 338.4,491.3 340.0,491.3 340.0,493.1 338.4,493.1 338.4,491.7 336.8,491.7 336.8,492.2 335.2,492.2 335.2,494.3 333.6,494.3 333.6,492.6 332.0,492.6 332.0,491.9 330.4,491.9 330.4,492.7 328.8,492.7 328.8,492.8 327.2,492.8 327.2,492.5 325.6,492.5 325.6,492.6 324.0,492.6 324.0,492.3 322.4,492.3 322.4,492.7 320.8,492.7 320.8,491.4 319.2,491.4 319.2,493.3 317.6,493.3 317.6,493.1 316.0,493.1 316.0,492.7 314.4,492.7 314.4,493.3 312.8,493.3 312.8,493.1 311.2,493.1 311.2,491.8 309.6,491.8 309.6,491.6 308.0,491.6 308.0,492.8 306.4,492.8 306.4,492.9 304.8,492.9 304.8,493.1 303.2,493.1 303.2,491.9 301.6,491.9 301.6,493.1 300.0,493.1 300.0,494.2 298.4,494.2 298.4,492.1 296.8,492.1 296.8,492.0 295.2,492.0 295.2,493.2 293.6,493.2 293.6,493.6 292.0,493.6 292.0,493.3 290.4,493.3 290.4,493.6 288.8,493.6 288.8,492.0 287.2,492.0 287.2,493.7 285.6,493.7 285.6,493.6 284.0,493.6 284.0,490.3 282.4,490.3 282.4,492.0 280.8,492.0 280.8,480.6 279.2,480.6 279.2,473.8 277.6,473.8 277.6,468.7 276.0,468.7 276.0,460.0 274.4,460.0 274.4,451.3 272.8,451.3 272.8,458.3 271.2,458.3 271.2,449.6 269.6,449.6 269.6,444.8 268.0,444.8 268.0,434.4 266.4,434.4 266.4,424.2 264.8,424.2 264.8,426.2 263.2,426.2 263.2,434.6 261.6,434.6 261.6,432.6 260.0,432.6 260.0,433.1 258.4,433.1 258.4,418.9 256.8,418.9 256.8,421.0 255.2,421.0 255.2,429.8 253.6,429.8 253.6,423.2 252.0,423.2 252.0,433.0 250.4,433.0 250.4,431.6 248.8,431.6 248.8,427.8 247.2,427.8 247.2,426.5 245.6,426.5 245.6,430.6 244.0,430.6 244.0,432.3 242.4,432.3 242.4,435.0 240.8,435.0 240.8,432.2 239.2,432.2 239.2,438.3 237.6,438.3 237.6,441.0 236.0,441.0 236.0,444.4 234.4,444.4 234.4,447.9 232.8,447.9 232.8,453.5 231.2,453.5 231.2,456.1 229.6,456.1 229.6,461.7 228.0,461.7 228.0,464.4 226.4,464.4 226.4,469.4 224.8,469.4 224.8,471.8 223.2,471.8 223.2,472.2 221.6,472.2 221.6,478.4 220.0,478.4 220.0,480.8 218.4,480.8 218.4,483.6 216.8,483.6 216.8,485.8 215.2,485.8 215.2,486.2 213.6,486.2 213.6,486.8 212.0,486.8 212.0,492.7 210.4,492.7 210.4,493.3 208.8,493.3 208.8,494.3 207.2,494.3 207.2,493.5 205.6,493.5 205.6,493.3 204.0,493.3 204.0,494.3 202.4,494.3 202.4,494.0 200.8,494.0 200.8,494.8 199.2,494.8" fill="#000"/>
<polyline points="199.2,493.4 200.8,493.4 200.8,492.6 202.4,492.6 202.4,492.9 204.0,492.9 204.0,491.9 205.6,491.9 205.6,492.1 207.2,492.1 207.2,490.1 208.8,490.1 208.8,486.0 210.4,486.0 210.4,484.7 212.0,484.7 212.0,478.8 213.6,478.8 213.6,478.2 215.2,478.2 215.2,477.8 216.8,477.8 216.8,476.8 218.4,476.8 218.4,476.0 220.0,476.0 220.0,475.4 221.6,475.4 221.6,464.2 223.2,464.2 223.2,466.5 224.8,466.5 224.8,465.8 226.4,465.8 226.4,458.9 228.0,458.9 228.0,456.2 229.6,456.2 229.6,453.6 231.2,453.6 231.2,451.9 232.8,451.9 232.8,439.9 234.4,439.9 234.4,437.6 236.0,437.6 236.0,433.0 237.6,433.0 237.6,430.7 239.2,430.7 239.2,424.2 240.8,424.2 240.8,428.9 242.4,428.9 242.4,424.3 244.0,424.3 244.0,422.6 245.6,422.6 245.6,418.5 247.2,418.5 247.2,419.8 248.8,419.8 248.8,424.3 250.4,424.3 250.4,425.0 252.0,425.0 252.0,415.2 253.6,415.2 253.6,424.3 255.2,424.3 255.2,413.0 256.8,413.0 256.8,410.9 258.4,410.9 258.4,425.1 260.0,425.1 260.0,425.7 261.6,425.7 261.6,426.6 263.2,426.6 263.2,418.2 264.8,418.2 264.8,416.2 266.4,416.2 266.4,426.4 268.0,426.4 268.0,436.8 269.6,436.8 269.6,441.6 271.2,441.6 271.2,450.3 272.8,450.3 272.8,443.3 274.4,443.3 274.4,452.0 276.0,452.0 276.0,460.7 277.6,460.7 277.6,465.8 279.2,465.8 279.2,472.6 280.8,472.6 280.8,484.0 282.4,484.0 282.4,482.3 284.0,482.3 284.0,487.6 285.6,487.6 285.6,486.5 287.2,486.5 287.2,487.0 288.8,487.0 288.8,488.5 290.4,488.5 290.4,489.6 292.0,489.6 292.0,490.6 293.6,490.6 293.6,490.2 295.2,490.2 295.2,490.0 296.8,490.0 296.8,490.1 298.4,490.1 298.4,491.2 300.0,491.2 300.0,490.7 301.6,490.7 301.6,489.3 303.2,489.3 303.2,490.2 304.8,490.2 304.8,491.5 306.4,491.5 306.4,491.4 308.0,491.4 308.0,490.2 309.6,490.2 309.6,490.1 311.2,490.1 311.2,491.5 312.8,491.5 312.8,491.9 314.4,491.9 314.4,490.2 316.0,490.2 316.0,490.1 317.6,490.1 317.6,490.3 319.2,490.3 319.2,489.7 320.8,489.7 320.8,490.7 322.4,490.7 322.4,490.9 324.0,490.9 324.0,491.2 325.6,491.2 325.6,488.9 327.2,488.9 327.2,490.0 328.8,490.0 328.8,489.6 330.4,489.6 330.4,490.3 332.0,490.3 332.0,490.0 333.6,490.0 333.6,492.8 335.2,492.8 335.2,490.6 336.8,490.6 336.8,489.7 338.4,489.7 338.4,491.3 340.0,491.3" fill="none" stroke="#000" stroke-width="2.4" stroke-linejoin="miter"/>
<rect x="196.6" y="392.9" width="157.1" height="104.3" fill="none" stroke="#000" stroke-width="2.0"/>
<text x="301.6" y="414.6" class="lb">B7-H1</text>
</g>
<g>
<rect x="358.9" y="392.9" width="157.1" height="104.3" fill="#fff" stroke="none"/>
<polygon points="359.9,495.9 359.9,493.8 361.5,493.8 361.5,492.4 363.1,492.4 363.1,492.0 364.7,492.0 364.7,492.1 366.3,492.1 366.3,492.9 367.9,492.9 367.9,493.6 369.5,493.6 369.5,494.3 371.1,494.3 371.1,494.6 372.7,494.6 372.7,494.4 374.3,494.4 374.3,493.9 375.9,493.9 375.9,493.8 377.5,493.8 377.5,493.0 379.1,493.0 379.1,491.8 380.7,491.8 380.7,490.8 382.3,490.8 382.3,489.8 383.9,489.8 383.9,489.6 385.5,489.6 385.5,489.0 387.1,489.0 387.1,487.3 388.7,487.3 388.7,486.6 390.3,486.6 390.3,486.2 391.9,486.2 391.9,485.8 393.5,485.8 393.5,486.1 395.1,486.1 395.1,486.5 396.7,486.5 396.7,485.2 398.3,485.2 398.3,482.9 399.9,482.9 399.9,478.5 401.5,478.5 401.5,483.2 403.1,483.2 403.1,486.4 404.7,486.4 404.7,487.7 406.3,487.7 406.3,488.0 407.9,488.0 407.9,487.6 409.5,487.6 409.5,486.8 411.1,486.8 411.1,484.6 412.7,484.6 412.7,484.2 414.3,484.2 414.3,483.1 415.9,483.1 415.9,482.5 417.5,482.5 417.5,485.7 419.1,485.7 419.1,483.8 420.7,483.8 420.7,482.3 422.3,482.3 422.3,480.7 423.9,480.7 423.9,479.1 425.5,479.1 425.5,479.1 427.1,479.1 427.1,477.5 428.7,477.5 428.7,477.5 430.3,477.5 430.3,474.8 431.9,474.8 431.9,472.8 433.5,472.8 433.5,469.8 435.1,469.8 435.1,465.1 436.7,465.1 436.7,459.4 438.3,459.4 438.3,457.5 439.9,457.5 439.9,463.7 441.5,463.7 441.5,458.9 443.1,458.9 443.1,456.7 444.7,456.7 444.7,453.1 446.3,453.1 446.3,450.1 447.9,450.1 447.9,445.3 449.5,445.3 449.5,441.9 451.1,441.9 451.1,439.4 452.7,439.4 452.7,437.4 454.3,437.4 454.3,433.0 455.9,433.0 455.9,432.9 457.5,432.9 457.5,436.6 459.1,436.6 459.1,440.6 460.7,440.6 460.7,448.4 462.3,448.4 462.3,455.8 463.9,455.8 463.9,463.0 465.5,463.0 465.5,473.4 467.1,473.4 467.1,476.9 468.7,476.9 468.7,481.2 470.3,481.2 470.3,485.9 471.9,485.9 471.9,488.9 473.5,488.9 473.5,487.7 475.1,487.7 475.1,490.8 476.7,490.8 476.7,491.3 478.3,491.3 478.3,491.9 479.9,491.9 479.9,492.7 481.5,492.7 481.5,493.7 483.1,493.7 483.1,493.0 484.7,493.0 484.7,492.1 486.3,492.1 486.3,495.9 487.9,495.9 487.9,495.9 489.5,495.9 489.5,495.9 491.1,495.9 491.1,495.9 492.7,495.9 492.7,495.9 494.3,495.9 494.3,495.9 495.9,495.9 495.9,495.9 497.5,495.9 497.5,495.9 499.1,495.9 499.1,495.9 500.7,495.9 500.7,495.9 502.3,495.9 502.3,495.9 503.9,495.9 503.9,495.9 505.5,495.9 505.5,495.9 507.1,495.9 507.1,495.9 508.7,495.9 508.7,495.9 510.3,495.9 510.3,495.9 511.9,495.9 511.9,495.9 513.5,495.9 513.5,495.9" fill="#575757" stroke="#000" stroke-width="0.7"/>
<polygon points="361.5,493.2 363.1,493.2 363.1,491.9 364.7,491.9 364.7,491.6 366.3,491.6 366.3,491.0 367.9,491.0 367.9,492.0 369.5,492.0 369.5,491.6 371.1,491.6 371.1,491.4 372.7,491.4 372.7,490.7 374.3,490.7 374.3,491.7 375.9,491.7 375.9,489.4 377.5,489.4 377.5,488.3 379.1,488.3 379.1,489.4 380.7,489.4 380.7,488.7 382.3,488.7 382.3,486.4 383.9,486.4 383.9,482.9 385.5,482.9 385.5,483.7 387.1,483.7 387.1,484.8 388.7,484.8 388.7,483.8 390.3,483.8 390.3,485.7 391.9,485.7 391.9,481.2 393.5,481.2 393.5,483.1 395.1,483.1 395.1,480.1 396.7,480.1 396.7,481.2 398.3,481.2 398.3,476.5 399.9,476.5 399.9,479.0 401.5,479.0 401.5,478.4 403.1,478.4 403.1,483.8 404.7,483.8 404.7,485.4 406.3,485.4 406.3,486.1 407.9,486.1 407.9,483.5 409.5,483.5 409.5,485.0 411.1,485.0 411.1,485.2 412.7,485.2 412.7,483.7 414.3,483.7 414.3,480.1 415.9,480.1 415.9,479.0 417.5,479.0 417.5,480.6 419.1,480.6 419.1,484.6 420.7,484.6 420.7,480.6 422.3,480.6 422.3,478.6 423.9,478.6 423.9,476.4 425.5,476.4 425.5,473.0 427.1,473.0 427.1,474.6 428.7,474.6 428.7,473.5 430.3,473.5 430.3,474.5 431.9,474.5 431.9,471.5 433.5,471.5 433.5,465.1 435.1,465.1 435.1,462.3 436.7,462.3 436.7,466.3 438.3,466.3 438.3,463.4 439.9,463.4 439.9,467.6 441.5,467.6 441.5,468.0 443.1,468.0 443.1,465.5 444.7,465.5 444.7,465.3 446.3,465.3 446.3,468.3 447.9,468.3 447.9,471.7 449.5,471.7 449.5,464.1 451.1,464.1 451.1,466.5 452.7,466.5 452.7,466.0 454.3,466.0 454.3,466.3 455.9,466.3 455.9,466.6 457.5,466.6 457.5,466.0 459.1,466.0 459.1,468.2 460.7,468.2 460.7,465.0 462.3,465.0 462.3,466.2 463.9,466.2 463.9,466.9 465.5,466.9 465.5,471.3 467.1,471.3 467.1,476.3 468.7,476.3 468.7,479.3 470.3,479.3 470.3,478.7 471.9,478.7 471.9,479.9 473.5,479.9 473.5,480.4 475.1,480.4 475.1,481.1 476.7,481.1 476.7,483.8 478.3,483.8 478.3,485.8 479.9,485.8 479.9,489.4 481.5,489.4 481.5,490.5 483.1,490.5 483.1,491.9 484.7,491.9 484.7,493.3 483.1,493.3 483.1,493.7 481.5,493.7 481.5,492.7 479.9,492.7 479.9,490.3 478.3,490.3 478.3,488.3 476.7,488.3 476.7,485.6 475.1,485.6 475.1,484.9 473.5,484.9 473.5,484.4 471.9,484.4 471.9,483.2 470.3,483.2 470.3,481.2 468.7,481.2 468.7,477.7 467.1,477.7 467.1,473.4 465.5,473.4 465.5,468.4 463.9,468.4 463.9,467.6 462.3,467.6 462.3,466.4 460.7,466.4 460.7,469.6 459.1,469.6 459.1,467.5 457.5,467.5 457.5,468.0 455.9,468.0 455.9,467.7 454.3,467.7 454.3,467.5 452.7,467.5 452.7,467.9 451.1,467.9 451.1,465.6 449.5,465.6 449.5,473.1 447.9,473.1 447.9,469.7 446.3,469.7 446.3,466.7 444.7,466.7 444.7,466.9 443.1,466.9 443.1,469.4 441.5,469.4 441.5,469.0 439.9,469.0 439.9,464.8 438.3,464.8 438.3,467.8 436.7,467.8 436.7,465.1 435.1,465.1 435.1,469.6 433.5,469.6 433.5,473.0 431.9,473.0 431.9,475.9 430.3,475.9 430.3,477.5 428.7,477.5 428.7,477.5 427.1,477.5 427.1,477.5 425.5,477.5 425.5,479.1 423.9,479.1 423.9,480.7 422.3,480.7 422.3,482.3 420.7,482.3 420.7,486.1 419.1,486.1 419.1,485.1 417.5,485.1 417.5,482.5 415.9,482.5 415.9,483.1 414.3,483.1 414.3,485.1 412.7,485.1 412.7,486.6 411.1,486.6 411.1,486.8 409.5,486.8 409.5,487.6 407.9,487.6 407.9,488.0 406.3,488.0 406.3,487.7 404.7,487.7 404.7,486.4 403.1,486.4 403.1,482.9 401.5,482.9 401.5,480.4 399.9,480.4 399.9,481.0 398.3,481.0 398.3,485.2 396.7,485.2 396.7,484.6 395.1,484.6 395.1,486.1 393.5,486.1 393.5,485.7 391.9,485.7 391.9,487.1 390.3,487.1 390.3,486.6 388.7,486.6 388.7,487.3 387.1,487.3 387.1,488.2 385.5,488.2 385.5,487.4 383.9,487.4 383.9,489.8 382.3,489.8 382.3,490.8 380.7,490.8 380.7,491.8 379.1,491.8 379.1,492.8 377.5,492.8 377.5,493.8 375.9,493.8 375.9,493.9 374.3,493.9 374.3,494.4 372.7,494.4 372.7,494.6 371.1,494.6 371.1,494.3 369.5,494.3 369.5,493.6 367.9,493.6 367.9,492.9 366.3,492.9 366.3,493.0 364.7,493.0 364.7,493.3 363.1,493.3 363.1,494.6 361.5,494.6" fill="#000"/>
<polyline points="361.5,493.2 363.1,493.2 363.1,491.9 364.7,491.9 364.7,491.6 366.3,491.6 366.3,491.0 367.9,491.0 367.9,492.0 369.5,492.0 369.5,491.6 371.1,491.6 371.1,491.4 372.7,491.4 372.7,490.7 374.3,490.7 374.3,491.7 375.9,491.7 375.9,489.4 377.5,489.4 377.5,488.3 379.1,488.3 379.1,489.4 380.7,489.4 380.7,488.7 382.3,488.7 382.3,486.4 383.9,486.4 383.9,482.9 385.5,482.9 385.5,483.7 387.1,483.7 387.1,484.8 388.7,484.8 388.7,483.8 390.3,483.8 390.3,485.7 391.9,485.7 391.9,481.2 393.5,481.2 393.5,483.1 395.1,483.1 395.1,480.1 396.7,480.1 396.7,481.2 398.3,481.2 398.3,476.5 399.9,476.5 399.9,479.0 401.5,479.0 401.5,478.4 403.1,478.4 403.1,483.8 404.7,483.8 404.7,485.4 406.3,485.4 406.3,486.1 407.9,486.1 407.9,483.5 409.5,483.5 409.5,485.0 411.1,485.0 411.1,485.2 412.7,485.2 412.7,483.7 414.3,483.7 414.3,480.1 415.9,480.1 415.9,479.0 417.5,479.0 417.5,480.6 419.1,480.6 419.1,484.6 420.7,484.6 420.7,480.6 422.3,480.6 422.3,478.6 423.9,478.6 423.9,476.4 425.5,476.4 425.5,473.0 427.1,473.0 427.1,474.6 428.7,474.6 428.7,473.5 430.3,473.5 430.3,474.5 431.9,474.5 431.9,471.5 433.5,471.5 433.5,465.1 435.1,465.1 435.1,462.3 436.7,462.3 436.7,466.3 438.3,466.3 438.3,463.4 439.9,463.4 439.9,467.6 441.5,467.6 441.5,468.0 443.1,468.0 443.1,465.5 444.7,465.5 444.7,465.3 446.3,465.3 446.3,468.3 447.9,468.3 447.9,471.7 449.5,471.7 449.5,464.1 451.1,464.1 451.1,466.5 452.7,466.5 452.7,466.0 454.3,466.0 454.3,466.3 455.9,466.3 455.9,466.6 457.5,466.6 457.5,466.0 459.1,466.0 459.1,468.2 460.7,468.2 460.7,465.0 462.3,465.0 462.3,466.2 463.9,466.2 463.9,466.9 465.5,466.9 465.5,471.3 467.1,471.3 467.1,476.3 468.7,476.3 468.7,479.3 470.3,479.3 470.3,478.7 471.9,478.7 471.9,479.9 473.5,479.9 473.5,480.4 475.1,480.4 475.1,481.1 476.7,481.1 476.7,483.8 478.3,483.8 478.3,485.8 479.9,485.8 479.9,489.4 481.5,489.4 481.5,490.5 483.1,490.5 483.1,491.9 484.7,491.9" fill="none" stroke="#000" stroke-width="2.4" stroke-linejoin="miter"/>
<rect x="358.9" y="392.9" width="157.1" height="104.3" fill="none" stroke="#000" stroke-width="2.0"/>
<text x="463.4" y="414.6" class="lb">MMR</text>
</g>
<g>
<rect x="34.5" y="503.7" width="157.2" height="104.9" fill="#fff" stroke="none"/>
<polygon points="35.5,607.3 35.5,605.2 37.1,605.2 37.1,604.3 38.7,604.3 38.7,604.0 40.3,604.0 40.3,604.9 41.9,604.9 41.9,604.7 43.5,604.7 43.5,604.2 45.1,604.2 45.1,603.3 46.7,603.3 46.7,603.0 48.3,603.0 48.3,604.5 49.9,604.5 49.9,604.8 51.5,604.8 51.5,604.9 53.1,604.9 53.1,603.4 54.7,603.4 54.7,605.0 56.3,605.0 56.3,603.9 57.9,603.9 57.9,604.6 59.5,604.6 59.5,604.6 61.1,604.6 61.1,603.7 62.7,603.7 62.7,603.9 64.3,603.9 64.3,602.8 65.9,602.8 65.9,603.7 67.5,603.7 67.5,603.0 69.1,603.0 69.1,604.6 70.7,604.6 70.7,604.3 72.3,604.3 72.3,604.9 73.9,604.9 73.9,604.5 75.5,604.5 75.5,603.9 77.1,603.9 77.1,604.5 78.7,604.5 78.7,604.0 80.3,604.0 80.3,604.7 81.9,604.7 81.9,604.5 83.5,604.5 83.5,603.6 85.1,603.6 85.1,604.3 86.7,604.3 86.7,604.3 88.3,604.3 88.3,604.1 89.9,604.1 89.9,604.9 91.5,604.9 91.5,605.5 93.1,605.5 93.1,604.0 94.7,604.0 94.7,604.1 96.3,604.1 96.3,602.7 97.9,602.7 97.9,604.2 99.5,604.2 99.5,604.0 101.1,604.0 101.1,602.8 102.7,602.8 102.7,601.5 104.3,601.5 104.3,599.3 105.9,599.3 105.9,598.2 107.5,598.2 107.5,596.5 109.1,596.5 109.1,595.6 110.7,595.6 110.7,596.8 112.3,596.8 112.3,593.7 113.9,593.7 113.9,593.1 115.5,593.1 115.5,592.8 117.1,592.8 117.1,591.5 118.7,591.5 118.7,592.8 120.3,592.8 120.3,587.6 121.9,587.6 121.9,589.4 123.5,589.4 123.5,588.8 125.1,588.8 125.1,586.1 126.7,586.1 126.7,585.2 128.3,585.2 128.3,584.8 129.9,584.8 129.9,584.2 131.5,584.2 131.5,576.9 133.1,576.9 133.1,571.6 134.7,571.6 134.7,570.1 136.3,570.1 136.3,566.5 137.9,566.5 137.9,560.5 139.5,560.5 139.5,554.6 141.1,554.6 141.1,557.0 142.7,557.0 142.7,552.4 144.3,552.4 144.3,552.8 145.9,552.8 145.9,549.8 147.5,549.8 147.5,548.9 149.1,548.9 149.1,548.6 150.7,548.6 150.7,552.3 152.3,552.3 152.3,554.1 153.9,554.1 153.9,553.8 155.5,553.8 155.5,559.9 157.1,559.9 157.1,567.8 158.7,567.8 158.7,569.6 160.3,569.6 160.3,572.6 161.9,572.6 161.9,578.6 163.5,578.6 163.5,583.4 165.1,583.4 165.1,588.3 166.7,588.3 166.7,592.5 168.3,592.5 168.3,596.7 169.9,596.7 169.9,599.6 171.5,599.6 171.5,604.5 173.1,604.5 173.1,604.7 174.7,604.7 174.7,603.8 176.3,603.8 176.3,604.0 177.9,604.0 177.9,603.6 179.5,603.6 179.5,604.8 181.1,604.8 181.1,603.2 182.7,603.2 182.7,604.1 184.3,604.1 184.3,605.7 185.9,605.7 185.9,604.3 187.5,604.3 187.5,604.6 189.1,604.6 189.1,607.3" fill="#575757" stroke="#000" stroke-width="0.7"/>
<polygon points="37.1,603.3 38.7,603.3 38.7,603.2 40.3,603.2 40.3,601.9 41.9,601.9 41.9,602.6 43.5,602.6 43.5,603.1 45.1,603.1 45.1,602.8 46.7,602.8 46.7,600.1 48.3,600.1 48.3,600.3 49.9,600.3 49.9,599.4 51.5,599.4 51.5,602.2 53.1,602.2 53.1,601.9 54.7,601.9 54.7,602.1 56.3,602.1 56.3,600.8 57.9,600.8 57.9,600.8 59.5,600.8 59.5,602.0 61.1,602.0 61.1,601.9 62.7,601.9 62.7,600.7 64.3,600.7 64.3,601.3 65.9,601.3 65.9,601.5 67.5,601.5 67.5,600.7 69.1,600.7 69.1,599.1 70.7,599.1 70.7,597.8 72.3,597.8 72.3,600.0 73.9,600.0 73.9,600.6 75.5,600.6 75.5,600.3 77.1,600.3 77.1,600.3 78.7,600.3 78.7,600.2 80.3,600.2 80.3,601.5 81.9,601.5 81.9,599.4 83.5,599.4 83.5,598.3 85.1,598.3 85.1,595.6 86.7,595.6 86.7,596.6 88.3,596.6 88.3,598.5 89.9,598.5 89.9,597.0 91.5,597.0 91.5,593.9 93.1,593.9 93.1,593.5 94.7,593.5 94.7,597.2 96.3,597.2 96.3,596.4 97.9,596.4 97.9,595.8 99.5,595.8 99.5,591.1 101.1,591.1 101.1,591.2 102.7,591.2 102.7,591.8 104.3,591.8 104.3,592.7 105.9,592.7 105.9,594.1 107.5,594.1 107.5,587.2 109.1,587.2 109.1,581.2 110.7,581.2 110.7,576.1 112.3,576.1 112.3,577.2 113.9,577.2 113.9,581.4 115.5,581.4 115.5,579.9 117.1,579.9 117.1,578.9 118.7,578.9 118.7,576.4 120.3,576.4 120.3,574.6 121.9,574.6 121.9,575.5 123.5,575.5 123.5,575.2 125.1,575.2 125.1,577.8 126.7,577.8 126.7,577.8 128.3,577.8 128.3,580.6 129.9,580.6 129.9,572.5 131.5,572.5 131.5,568.1 133.1,568.1 133.1,568.8 134.7,568.8 134.7,558.4 136.3,558.4 136.3,553.2 137.9,553.2 137.9,552.8 139.5,552.8 139.5,553.0 141.1,553.0 141.1,545.5 142.7,545.5 142.7,543.4 144.3,543.4 144.3,534.2 145.9,534.2 145.9,522.9 147.5,522.9 147.5,531.2 149.1,531.2 149.1,529.9 150.7,529.9 150.7,534.1 152.3,534.1 152.3,538.2 153.9,538.2 153.9,540.6 155.5,540.6 155.5,542.3 157.1,542.3 157.1,549.6 158.7,549.6 158.7,553.9 160.3,553.9 160.3,554.9 161.9,554.9 161.9,569.0 163.5,569.0 163.5,574.8 165.1,574.8 165.1,580.8 166.7,580.8 166.7,583.6 168.3,583.6 168.3,591.4 169.9,591.4 169.9,595.7 171.5,595.7 171.5,599.9 173.1,599.9 173.1,600.3 174.7,600.3 174.7,602.6 176.3,602.6 176.3,603.6 177.9,603.6 177.9,602.3 179.5,602.3 179.5,602.5 181.1,602.5 181.1,600.9 182.7,600.9 182.7,600.5 184.3,600.5 184.3,604.4 185.9,604.4 185.9,602.0 187.5,602.0 187.5,604.3 185.9,604.3 185.9,605.8 184.3,605.8 184.3,604.1 182.7,604.1 182.7,603.2 181.1,603.2 181.1,604.8 179.5,604.8 179.5,603.8 177.9,603.8 177.9,605.0 176.3,605.0 176.3,604.1 174.7,604.1 174.7,604.7 173.1,604.7 173.1,604.5 171.5,604.5 171.5,599.6 169.9,599.6 169.9,596.7 168.3,596.7 168.3,592.5 166.7,592.5 166.7,588.3 165.1,588.3 165.1,583.4 163.5,583.4 163.5,578.6 161.9,578.6 161.9,565.9 160.3,565.9 160.3,564.9 158.7,564.9 158.7,560.6 157.1,560.6 157.1,553.3 155.5,553.3 155.5,551.6 153.9,551.6 153.9,549.2 152.3,549.2 152.3,545.1 150.7,545.1 150.7,540.9 149.1,540.9 149.1,542.2 147.5,542.2 147.5,533.9 145.9,533.9 145.9,545.2 144.3,545.2 144.3,552.4 142.7,552.4 142.7,556.5 141.1,556.5 141.1,554.6 139.5,554.6 139.5,560.5 137.9,560.5 137.9,564.2 136.3,564.2 136.3,569.4 134.7,569.4 134.7,571.6 133.1,571.6 133.1,576.9 131.5,576.9 131.5,583.5 129.9,583.5 129.9,584.8 128.3,584.8 128.3,585.2 126.7,585.2 126.7,586.1 125.1,586.1 125.1,586.2 123.5,586.2 123.5,586.5 121.9,586.5 121.9,585.6 120.3,585.6 120.3,587.4 118.7,587.4 118.7,589.9 117.1,589.9 117.1,590.9 115.5,590.9 115.5,592.4 113.9,592.4 113.9,588.2 112.3,588.2 112.3,587.1 110.7,587.1 110.7,592.2 109.1,592.2 109.1,596.5 107.5,596.5 107.5,598.2 105.9,598.2 105.9,599.3 104.3,599.3 104.3,601.5 102.7,601.5 102.7,602.2 101.1,602.2 101.1,602.1 99.5,602.1 99.5,604.2 97.9,604.2 97.9,602.7 96.3,602.7 96.3,604.1 94.7,604.1 94.7,604.0 93.1,604.0 93.1,604.9 91.5,604.9 91.5,604.9 89.9,604.9 89.9,604.1 88.3,604.1 88.3,604.3 86.7,604.3 86.7,604.3 85.1,604.3 85.1,603.6 83.5,603.6 83.5,604.5 81.9,604.5 81.9,604.7 80.3,604.7 80.3,604.0 78.7,604.0 78.7,604.5 77.1,604.5 77.1,603.9 75.5,603.9 75.5,604.5 73.9,604.5 73.9,604.9 72.3,604.9 72.3,604.3 70.7,604.3 70.7,604.6 69.1,604.6 69.1,603.0 67.5,603.0 67.5,603.7 65.9,603.7 65.9,602.8 64.3,602.8 64.3,603.9 62.7,603.9 62.7,603.7 61.1,603.7 61.1,604.6 59.5,604.6 59.5,604.6 57.9,604.6 57.9,603.9 56.3,603.9 56.3,605.0 54.7,605.0 54.7,603.4 53.1,603.4 53.1,604.9 51.5,604.9 51.5,604.8 49.9,604.8 49.9,604.5 48.3,604.5 48.3,603.0 46.7,603.0 46.7,604.2 45.1,604.2 45.1,604.5 43.5,604.5 43.5,604.7 41.9,604.7 41.9,604.9 40.3,604.9 40.3,604.6 38.7,604.6 38.7,604.7 37.1,604.7" fill="#000"/>
<polyline points="37.1,603.3 38.7,603.3 38.7,603.2 40.3,603.2 40.3,601.9 41.9,601.9 41.9,602.6 43.5,602.6 43.5,603.1 45.1,603.1 45.1,602.8 46.7,602.8 46.7,600.1 48.3,600.1 48.3,600.3 49.9,600.3 49.9,599.4 51.5,599.4 51.5,602.2 53.1,602.2 53.1,601.9 54.7,601.9 54.7,602.1 56.3,602.1 56.3,600.8 57.9,600.8 57.9,600.8 59.5,600.8 59.5,602.0 61.1,602.0 61.1,601.9 62.7,601.9 62.7,600.7 64.3,600.7 64.3,601.3 65.9,601.3 65.9,601.5 67.5,601.5 67.5,600.7 69.1,600.7 69.1,599.1 70.7,599.1 70.7,597.8 72.3,597.8 72.3,600.0 73.9,600.0 73.9,600.6 75.5,600.6 75.5,600.3 77.1,600.3 77.1,600.3 78.7,600.3 78.7,600.2 80.3,600.2 80.3,601.5 81.9,601.5 81.9,599.4 83.5,599.4 83.5,598.3 85.1,598.3 85.1,595.6 86.7,595.6 86.7,596.6 88.3,596.6 88.3,598.5 89.9,598.5 89.9,597.0 91.5,597.0 91.5,593.9 93.1,593.9 93.1,593.5 94.7,593.5 94.7,597.2 96.3,597.2 96.3,596.4 97.9,596.4 97.9,595.8 99.5,595.8 99.5,591.1 101.1,591.1 101.1,591.2 102.7,591.2 102.7,591.8 104.3,591.8 104.3,592.7 105.9,592.7 105.9,594.1 107.5,594.1 107.5,587.2 109.1,587.2 109.1,581.2 110.7,581.2 110.7,576.1 112.3,576.1 112.3,577.2 113.9,577.2 113.9,581.4 115.5,581.4 115.5,579.9 117.1,579.9 117.1,578.9 118.7,578.9 118.7,576.4 120.3,576.4 120.3,574.6 121.9,574.6 121.9,575.5 123.5,575.5 123.5,575.2 125.1,575.2 125.1,577.8 126.7,577.8 126.7,577.8 128.3,577.8 128.3,580.6 129.9,580.6 129.9,572.5 131.5,572.5 131.5,568.1 133.1,568.1 133.1,568.8 134.7,568.8 134.7,558.4 136.3,558.4 136.3,553.2 137.9,553.2 137.9,552.8 139.5,552.8 139.5,553.0 141.1,553.0 141.1,545.5 142.7,545.5 142.7,543.4 144.3,543.4 144.3,534.2 145.9,534.2 145.9,522.9 147.5,522.9 147.5,531.2 149.1,531.2 149.1,529.9 150.7,529.9 150.7,534.1 152.3,534.1 152.3,538.2 153.9,538.2 153.9,540.6 155.5,540.6 155.5,542.3 157.1,542.3 157.1,549.6 158.7,549.6 158.7,553.9 160.3,553.9 160.3,554.9 161.9,554.9 161.9,569.0 163.5,569.0 163.5,574.8 165.1,574.8 165.1,580.8 166.7,580.8 166.7,583.6 168.3,583.6 168.3,591.4 169.9,591.4 169.9,595.7 171.5,595.7 171.5,599.9 173.1,599.9 173.1,600.3 174.7,600.3 174.7,602.6 176.3,602.6 176.3,603.6 177.9,603.6 177.9,602.3 179.5,602.3 179.5,602.5 181.1,602.5 181.1,600.9 182.7,600.9 182.7,600.5 184.3,600.5 184.3,604.4 185.9,604.4 185.9,602.0 187.5,602.0" fill="none" stroke="#000" stroke-width="2.4" stroke-linejoin="miter"/>
<rect x="35.5" y="531.7" width="3.0" height="75.6" fill="#000"/>
<rect x="34.5" y="503.7" width="157.2" height="104.9" fill="none" stroke="#000" stroke-width="2.0"/>
<text x="116.2" y="525.0" class="lb">DC-SIGN</text>
</g>
<g>
<rect x="196.6" y="503.7" width="157.1" height="104.9" fill="#fff" stroke="none"/>
<polygon points="197.6,607.3 197.6,603.6 199.2,603.6 199.2,604.9 200.8,604.9 200.8,603.2 202.4,603.2 202.4,604.0 204.0,604.0 204.0,605.1 205.6,605.1 205.6,603.7 207.2,603.7 207.2,604.3 208.8,604.3 208.8,604.0 210.4,604.0 210.4,602.7 212.0,602.7 212.0,604.5 213.6,604.5 213.6,604.6 215.2,604.6 215.2,603.5 216.8,603.5 216.8,604.7 218.4,604.7 218.4,603.7 220.0,603.7 220.0,603.6 221.6,603.6 221.6,604.3 223.2,604.3 223.2,603.8 224.8,603.8 224.8,605.9 226.4,605.9 226.4,603.2 228.0,603.2 228.0,604.8 229.6,604.8 229.6,605.0 231.2,605.0 231.2,602.9 232.8,602.9 232.8,603.1 234.4,603.1 234.4,604.7 236.0,604.7 236.0,604.0 237.6,604.0 237.6,604.6 239.2,604.6 239.2,605.1 240.8,605.1 240.8,604.0 242.4,604.0 242.4,603.6 244.0,603.6 244.0,603.0 245.6,603.0 245.6,601.0 247.2,601.0 247.2,601.1 248.8,601.1 248.8,600.4 250.4,600.4 250.4,596.5 252.0,596.5 252.0,597.3 253.6,597.3 253.6,593.7 255.2,593.7 255.2,593.3 256.8,593.3 256.8,589.5 258.4,589.5 258.4,585.2 260.0,585.2 260.0,583.6 261.6,583.6 261.6,580.3 263.2,580.3 263.2,578.3 264.8,578.3 264.8,574.6 266.4,574.6 266.4,570.2 268.0,570.2 268.0,566.4 269.6,566.4 269.6,563.3 271.2,563.3 271.2,561.4 272.8,561.4 272.8,558.8 274.4,558.8 274.4,557.6 276.0,557.6 276.0,552.7 277.6,552.7 277.6,554.5 279.2,554.5 279.2,552.4 280.8,552.4 280.8,554.1 282.4,554.1 282.4,549.7 284.0,549.7 284.0,546.0 285.6,546.0 285.6,545.6 287.2,545.6 287.2,541.0 288.8,541.0 288.8,538.9 290.4,538.9 290.4,534.3 292.0,534.3 292.0,541.3 293.6,541.3 293.6,542.0 295.2,542.0 295.2,542.0 296.8,542.0 296.8,546.0 298.4,546.0 298.4,547.9 300.0,547.9 300.0,548.4 301.6,548.4 301.6,554.1 303.2,554.1 303.2,558.2 304.8,558.2 304.8,563.8 306.4,563.8 306.4,569.9 308.0,569.9 308.0,575.2 309.6,575.2 309.6,577.3 311.2,577.3 311.2,579.6 312.8,579.6 312.8,584.5 314.4,584.5 314.4,583.9 316.0,583.9 316.0,587.7 317.6,587.7 317.6,588.9 319.2,588.9 319.2,591.7 320.8,591.7 320.8,594.9 322.4,594.9 322.4,596.3 324.0,596.3 324.0,598.3 325.6,598.3 325.6,598.5 327.2,598.5 327.2,600.4 328.8,600.4 328.8,602.6 330.4,602.6 330.4,604.3 332.0,604.3 332.0,602.4 333.6,602.4 333.6,604.4 335.2,604.4 335.2,603.6 336.8,603.6 336.8,604.5 338.4,604.5 338.4,604.5 340.0,604.5 340.0,603.3 341.6,603.3 341.6,605.5 343.2,605.5 343.2,607.3 344.8,607.3 344.8,607.3 346.4,607.3 346.4,607.3 348.0,607.3 348.0,607.3 349.6,607.3 349.6,607.3 351.2,607.3 351.2,607.3" fill="#575757" stroke="#000" stroke-width="0.7"/>
<polygon points="199.2,604.2 200.8,604.2 200.8,600.7 202.4,600.7 202.4,602.1 204.0,602.1 204.0,602.0 205.6,602.0 205.6,600.7 207.2,600.7 207.2,602.5 208.8,602.5 208.8,605.3 210.4,605.3 210.4,601.8 212.0,601.8 212.0,602.8 213.6,602.8 213.6,603.8 215.2,603.8 215.2,601.7 216.8,601.7 216.8,603.9 218.4,603.9 218.4,602.9 220.0,602.9 220.0,602.6 221.6,602.6 221.6,601.4 223.2,601.4 223.2,601.8 224.8,601.8 224.8,600.9 226.4,600.9 226.4,603.7 228.0,603.7 228.0,603.2 229.6,603.2 229.6,600.7 231.2,600.7 231.2,602.4 232.8,602.4 232.8,601.5 234.4,601.5 234.4,603.0 236.0,603.0 236.0,602.4 237.6,602.4 237.6,604.3 239.2,604.3 239.2,602.8 240.8,602.8 240.8,600.9 242.4,600.9 242.4,600.6 244.0,600.6 244.0,599.0 245.6,599.0 245.6,601.8 247.2,601.8 247.2,598.2 248.8,598.2 248.8,596.9 250.4,596.9 250.4,593.2 252.0,593.2 252.0,589.5 253.6,589.5 253.6,593.1 255.2,593.1 255.2,588.7 256.8,588.7 256.8,586.2 258.4,586.2 258.4,583.4 260.0,583.4 260.0,581.8 261.6,581.8 261.6,578.9 263.2,578.9 263.2,572.5 264.8,572.5 264.8,575.9 266.4,575.9 266.4,569.4 268.0,569.4 268.0,566.3 269.6,566.3 269.6,561.7 271.2,561.7 271.2,557.4 272.8,557.4 272.8,558.9 274.4,558.9 274.4,554.3 276.0,554.3 276.0,555.8 277.6,555.8 277.6,554.3 279.2,554.3 279.2,550.6 280.8,550.6 280.8,545.3 282.4,545.3 282.4,544.1 284.0,544.1 284.0,540.4 285.6,540.4 285.6,542.0 287.2,542.0 287.2,541.3 288.8,541.3 288.8,537.7 290.4,537.7 290.4,525.9 292.0,525.9 292.0,530.4 293.6,530.4 293.6,532.3 295.2,532.3 295.2,522.0 296.8,522.0 296.8,521.0 298.4,521.0 298.4,535.3 300.0,535.3 300.0,533.8 301.6,533.8 301.6,538.4 303.2,538.4 303.2,533.9 304.8,533.9 304.8,537.1 306.4,537.1 306.4,538.7 308.0,538.7 308.0,556.2 309.6,556.2 309.6,565.0 311.2,565.0 311.2,571.3 312.8,571.3 312.8,569.8 314.4,569.8 314.4,568.6 316.0,568.6 316.0,562.3 317.6,562.3 317.6,564.0 319.2,564.0 319.2,574.0 320.8,574.0 320.8,579.9 322.4,579.9 322.4,581.0 324.0,581.0 324.0,586.3 325.6,586.3 325.6,585.8 327.2,585.8 327.2,590.1 328.8,590.1 328.8,596.2 330.4,596.2 330.4,599.1 332.0,599.1 332.0,602.4 333.6,602.4 333.6,604.9 335.2,604.9 335.2,604.8 336.8,604.8 336.8,602.0 338.4,602.0 338.4,602.4 340.0,602.4 340.0,603.9 341.6,603.9 341.6,605.3 340.0,605.3 340.0,604.5 338.4,604.5 338.4,604.5 336.8,604.5 336.8,606.2 335.2,606.2 335.2,606.4 333.6,606.4 333.6,603.8 332.0,603.8 332.0,604.3 330.4,604.3 330.4,602.2 328.8,602.2 328.8,596.1 327.2,596.1 327.2,591.8 325.6,591.8 325.6,592.3 324.0,592.3 324.0,587.0 322.4,587.0 322.4,585.9 320.8,585.9 320.8,580.0 319.2,580.0 319.2,570.0 317.6,570.0 317.6,568.3 316.0,568.3 316.0,574.6 314.4,574.6 314.4,575.8 312.8,575.8 312.8,577.3 311.2,577.3 311.2,571.0 309.6,571.0 309.6,562.2 308.0,562.2 308.0,544.7 306.4,544.7 306.4,543.1 304.8,543.1 304.8,539.9 303.2,539.9 303.2,544.4 301.6,544.4 301.6,539.8 300.0,539.8 300.0,541.3 298.4,541.3 298.4,527.0 296.8,527.0 296.8,528.0 295.2,528.0 295.2,538.3 293.6,538.3 293.6,536.4 292.0,536.4 292.0,531.9 290.4,531.9 290.4,539.1 288.8,539.1 288.8,542.7 287.2,542.7 287.2,545.6 285.6,545.6 285.6,546.0 284.0,546.0 284.0,549.7 282.4,549.7 282.4,551.3 280.8,551.3 280.8,552.4 279.2,552.4 279.2,555.8 277.6,555.8 277.6,557.3 276.0,557.3 276.0,557.6 274.4,557.6 274.4,560.4 272.8,560.4 272.8,561.4 271.2,561.4 271.2,563.3 269.6,563.3 269.6,567.7 268.0,567.7 268.0,570.8 266.4,570.8 266.4,577.3 264.8,577.3 264.8,578.3 263.2,578.3 263.2,580.4 261.6,580.4 261.6,583.6 260.0,583.6 260.0,585.2 258.4,585.2 258.4,589.5 256.8,589.5 256.8,593.3 255.2,593.3 255.2,594.5 253.6,594.5 253.6,595.5 252.0,595.5 252.0,596.5 250.4,596.5 250.4,600.4 248.8,600.4 248.8,601.1 247.2,601.1 247.2,603.3 245.6,603.3 245.6,603.0 244.0,603.0 244.0,603.6 242.4,603.6 242.4,604.0 240.8,604.0 240.8,605.1 239.2,605.1 239.2,605.7 237.6,605.7 237.6,604.0 236.0,604.0 236.0,604.7 234.4,604.7 234.4,603.1 232.8,603.1 232.8,603.8 231.2,603.8 231.2,605.0 229.6,605.0 229.6,604.8 228.0,604.8 228.0,605.2 226.4,605.2 226.4,605.9 224.8,605.9 224.8,603.8 223.2,603.8 223.2,604.3 221.6,604.3 221.6,604.0 220.0,604.0 220.0,604.4 218.4,604.4 218.4,605.4 216.8,605.4 216.8,603.5 215.2,603.5 215.2,605.2 213.6,605.2 213.6,604.5 212.0,604.5 212.0,603.2 210.4,603.2 210.4,606.8 208.8,606.8 208.8,604.3 207.2,604.3 207.2,603.7 205.6,603.7 205.6,605.1 204.0,605.1 204.0,604.0 202.4,604.0 202.4,603.2 200.8,603.2 200.8,605.7 199.2,605.7" fill="#000"/>
<polyline points="199.2,604.2 200.8,604.2 200.8,600.7 202.4,600.7 202.4,602.1 204.0,602.1 204.0,602.0 205.6,602.0 205.6,600.7 207.2,600.7 207.2,602.5 208.8,602.5 208.8,605.3 210.4,605.3 210.4,601.8 212.0,601.8 212.0,602.8 213.6,602.8 213.6,603.8 215.2,603.8 215.2,601.7 216.8,601.7 216.8,603.9 218.4,603.9 218.4,602.9 220.0,602.9 220.0,602.6 221.6,602.6 221.6,601.4 223.2,601.4 223.2,601.8 224.8,601.8 224.8,600.9 226.4,600.9 226.4,603.7 228.0,603.7 228.0,603.2 229.6,603.2 229.6,600.7 231.2,600.7 231.2,602.4 232.8,602.4 232.8,601.5 234.4,601.5 234.4,603.0 236.0,603.0 236.0,602.4 237.6,602.4 237.6,604.3 239.2,604.3 239.2,602.8 240.8,602.8 240.8,600.9 242.4,600.9 242.4,600.6 244.0,600.6 244.0,599.0 245.6,599.0 245.6,601.8 247.2,601.8 247.2,598.2 248.8,598.2 248.8,596.9 250.4,596.9 250.4,593.2 252.0,593.2 252.0,589.5 253.6,589.5 253.6,593.1 255.2,593.1 255.2,588.7 256.8,588.7 256.8,586.2 258.4,586.2 258.4,583.4 260.0,583.4 260.0,581.8 261.6,581.8 261.6,578.9 263.2,578.9 263.2,572.5 264.8,572.5 264.8,575.9 266.4,575.9 266.4,569.4 268.0,569.4 268.0,566.3 269.6,566.3 269.6,561.7 271.2,561.7 271.2,557.4 272.8,557.4 272.8,558.9 274.4,558.9 274.4,554.3 276.0,554.3 276.0,555.8 277.6,555.8 277.6,554.3 279.2,554.3 279.2,550.6 280.8,550.6 280.8,545.3 282.4,545.3 282.4,544.1 284.0,544.1 284.0,540.4 285.6,540.4 285.6,542.0 287.2,542.0 287.2,541.3 288.8,541.3 288.8,537.7 290.4,537.7 290.4,525.9 292.0,525.9 292.0,530.4 293.6,530.4 293.6,532.3 295.2,532.3 295.2,522.0 296.8,522.0 296.8,521.0 298.4,521.0 298.4,535.3 300.0,535.3 300.0,533.8 301.6,533.8 301.6,538.4 303.2,538.4 303.2,533.9 304.8,533.9 304.8,537.1 306.4,537.1 306.4,538.7 308.0,538.7 308.0,556.2 309.6,556.2 309.6,565.0 311.2,565.0 311.2,571.3 312.8,571.3 312.8,569.8 314.4,569.8 314.4,568.6 316.0,568.6 316.0,562.3 317.6,562.3 317.6,564.0 319.2,564.0 319.2,574.0 320.8,574.0 320.8,579.9 322.4,579.9 322.4,581.0 324.0,581.0 324.0,586.3 325.6,586.3 325.6,585.8 327.2,585.8 327.2,590.1 328.8,590.1 328.8,596.2 330.4,596.2 330.4,599.1 332.0,599.1 332.0,602.4 333.6,602.4 333.6,604.9 335.2,604.9 335.2,604.8 336.8,604.8 336.8,602.0 338.4,602.0 338.4,602.4 340.0,602.4 340.0,603.9 341.6,603.9" fill="none" stroke="#000" stroke-width="2.4" stroke-linejoin="miter"/>
<rect x="196.6" y="503.7" width="157.1" height="104.9" fill="none" stroke="#000" stroke-width="2.0"/>
<text x="301.6" y="524.5" class="lb">MHC I</text>
</g>
<g>
<rect x="358.9" y="503.7" width="157.1" height="104.9" fill="#fff" stroke="none"/>
<polygon points="359.9,607.3 359.9,604.4 361.5,604.4 361.5,604.8 363.1,604.8 363.1,605.0 364.7,605.0 364.7,603.6 366.3,603.6 366.3,605.2 367.9,605.2 367.9,604.0 369.5,604.0 369.5,603.6 371.1,603.6 371.1,604.2 372.7,604.2 372.7,603.3 374.3,603.3 374.3,604.3 375.9,604.3 375.9,604.5 377.5,604.5 377.5,604.2 379.1,604.2 379.1,604.7 380.7,604.7 380.7,604.1 382.3,604.1 382.3,604.3 383.9,604.3 383.9,603.3 385.5,603.3 385.5,604.3 387.1,604.3 387.1,603.7 388.7,603.7 388.7,604.0 390.3,604.0 390.3,604.2 391.9,604.2 391.9,604.4 393.5,604.4 393.5,603.1 395.1,603.1 395.1,603.2 396.7,603.2 396.7,604.1 398.3,604.1 398.3,604.6 399.9,604.6 399.9,604.6 401.5,604.6 401.5,604.9 403.1,604.9 403.1,605.2 404.7,605.2 404.7,604.6 406.3,604.6 406.3,604.3 407.9,604.3 407.9,603.6 409.5,603.6 409.5,603.6 411.1,603.6 411.1,604.0 412.7,604.0 412.7,604.5 414.3,604.5 414.3,604.5 415.9,604.5 415.9,604.3 417.5,604.3 417.5,601.4 419.1,601.4 419.1,597.6 420.7,597.6 420.7,598.1 422.3,598.1 422.3,598.7 423.9,598.7 423.9,595.0 425.5,595.0 425.5,593.5 427.1,593.5 427.1,592.3 428.7,592.3 428.7,589.0 430.3,589.0 430.3,586.7 431.9,586.7 431.9,585.1 433.5,585.1 433.5,585.3 435.1,585.3 435.1,586.2 436.7,586.2 436.7,583.9 438.3,583.9 438.3,583.1 439.9,583.1 439.9,581.3 441.5,581.3 441.5,581.4 443.1,581.4 443.1,578.8 444.7,578.8 444.7,575.7 446.3,575.7 446.3,571.1 447.9,571.1 447.9,572.9 449.5,572.9 449.5,570.9 451.1,570.9 451.1,566.8 452.7,566.8 452.7,564.4 454.3,564.4 454.3,565.2 455.9,565.2 455.9,565.6 457.5,565.6 457.5,559.3 459.1,559.3 459.1,555.9 460.7,555.9 460.7,551.9 462.3,551.9 462.3,555.3 463.9,555.3 463.9,553.5 465.5,553.5 465.5,552.3 467.1,552.3 467.1,551.4 468.7,551.4 468.7,555.9 470.3,555.9 470.3,561.3 471.9,561.3 471.9,564.2 473.5,564.2 473.5,563.6 475.1,563.6 475.1,560.6 476.7,560.6 476.7,558.8 478.3,558.8 478.3,553.7 479.9,553.7 479.9,556.9 481.5,556.9 481.5,559.0 483.1,559.0 483.1,565.0 484.7,565.0 484.7,571.7 486.3,571.7 486.3,577.4 487.9,577.4 487.9,580.7 489.5,580.7 489.5,585.5 491.1,585.5 491.1,592.3 492.7,592.3 492.7,592.1 494.3,592.1 494.3,596.1 495.9,596.1 495.9,600.2 497.5,600.2 497.5,601.6 499.1,601.6 499.1,603.6 500.7,603.6 500.7,604.2 502.3,604.2 502.3,604.7 503.9,604.7 503.9,604.4 505.5,604.4 505.5,604.5 507.1,604.5 507.1,604.5 508.7,604.5 508.7,603.9 510.3,603.9 510.3,607.3 511.9,607.3 511.9,607.3 513.5,607.3 513.5,607.3" fill="#575757" stroke="#000" stroke-width="0.7"/>
<polygon points="363.1,604.5 364.7,604.5 364.7,602.2 366.3,602.2 366.3,602.4 367.9,602.4 367.9,602.5 369.5,602.5 369.5,601.2 371.1,601.2 371.1,602.1 372.7,602.1 372.7,603.4 374.3,603.4 374.3,602.5 375.9,602.5 375.9,602.0 377.5,602.0 377.5,601.8 379.1,601.8 379.1,601.2 380.7,601.2 380.7,602.1 382.3,602.1 382.3,601.3 383.9,601.3 383.9,601.3 385.5,601.3 385.5,602.1 387.1,602.1 387.1,602.9 388.7,602.9 388.7,602.8 390.3,602.8 390.3,603.3 391.9,603.3 391.9,601.7 393.5,601.7 393.5,604.3 395.1,604.3 395.1,605.4 396.7,605.4 396.7,604.9 398.3,604.9 398.3,604.1 399.9,604.1 399.9,604.0 401.5,604.0 401.5,604.0 403.1,604.0 403.1,602.3 404.7,602.3 404.7,602.8 406.3,602.8 406.3,600.9 407.9,600.9 407.9,601.8 409.5,601.8 409.5,601.8 411.1,601.8 411.1,597.6 412.7,597.6 412.7,599.6 414.3,599.6 414.3,596.8 415.9,596.8 415.9,594.2 417.5,594.2 417.5,593.5 419.1,593.5 419.1,592.1 420.7,592.1 420.7,592.1 422.3,592.1 422.3,585.0 423.9,585.0 423.9,586.2 425.5,586.2 425.5,584.6 427.1,584.6 427.1,578.2 428.7,578.2 428.7,577.2 430.3,577.2 430.3,576.1 431.9,576.1 431.9,573.8 433.5,573.8 433.5,577.7 435.1,577.7 435.1,577.7 436.7,577.7 436.7,576.9 438.3,576.9 438.3,579.3 439.9,579.3 439.9,574.9 441.5,574.9 441.5,573.4 443.1,573.4 443.1,572.6 444.7,572.6 444.7,563.4 446.3,563.4 446.3,563.3 447.9,563.3 447.9,564.6 449.5,564.6 449.5,564.0 451.1,564.0 451.1,566.6 452.7,566.6 452.7,561.5 454.3,561.5 454.3,564.2 455.9,564.2 455.9,563.2 457.5,563.2 457.5,561.3 459.1,561.3 459.1,560.2 460.7,560.2 460.7,564.3 462.3,564.3 462.3,567.2 463.9,567.2 463.9,565.4 465.5,565.4 465.5,567.4 467.1,567.4 467.1,567.2 468.7,567.2 468.7,569.7 470.3,569.7 470.3,575.0 471.9,575.0 471.9,573.8 473.5,573.8 473.5,567.7 475.1,567.7 475.1,565.8 476.7,565.8 476.7,559.5 478.3,559.5 478.3,553.5 479.9,553.5 479.9,547.1 481.5,547.1 481.5,562.6 483.1,562.6 483.1,564.3 484.7,564.3 484.7,574.2 486.3,574.2 486.3,580.5 487.9,580.5 487.9,582.5 489.5,582.5 489.5,591.8 491.1,591.8 491.1,591.9 492.7,591.9 492.7,597.1 494.3,597.1 494.3,598.3 495.9,598.3 495.9,600.8 497.5,600.8 497.5,603.3 499.1,603.3 499.1,603.5 500.7,603.5 500.7,604.9 502.3,604.9 502.3,603.2 503.9,603.2 503.9,602.3 505.5,602.3 505.5,603.8 507.1,603.8 507.1,603.5 508.7,603.5 508.7,605.0 507.1,605.0 507.1,605.3 505.5,605.3 505.5,604.4 503.9,604.4 503.9,604.7 502.3,604.7 502.3,606.3 500.7,606.3 500.7,605.0 499.1,605.0 499.1,604.8 497.5,604.8 497.5,602.2 495.9,602.2 495.9,599.8 494.3,599.8 494.3,598.5 492.7,598.5 492.7,593.3 491.1,593.3 491.1,593.3 489.5,593.3 489.5,583.9 487.9,583.9 487.9,582.0 486.3,582.0 486.3,575.7 484.7,575.7 484.7,565.8 483.1,565.8 483.1,564.0 481.5,564.0 481.5,556.1 479.9,556.1 479.9,554.9 478.3,554.9 478.3,560.9 476.7,560.9 476.7,567.2 475.1,567.2 475.1,569.2 473.5,569.2 473.5,575.2 471.9,575.2 471.9,576.4 470.3,576.4 470.3,571.2 468.7,571.2 468.7,568.6 467.1,568.6 467.1,568.9 465.5,568.9 465.5,566.8 463.9,566.8 463.9,568.6 462.3,568.6 462.3,565.8 460.7,565.8 460.7,561.6 459.1,561.6 459.1,562.8 457.5,562.8 457.5,565.6 455.9,565.6 455.9,565.7 454.3,565.7 454.3,564.4 452.7,564.4 452.7,568.0 451.1,568.0 451.1,570.9 449.5,570.9 449.5,572.9 447.9,572.9 447.9,571.1 446.3,571.1 446.3,572.4 444.7,572.4 444.7,578.8 443.1,578.8 443.1,581.4 441.5,581.4 441.5,581.3 439.9,581.3 439.9,583.1 438.3,583.1 438.3,583.9 436.7,583.9 436.7,586.2 435.1,586.2 435.1,585.3 433.5,585.3 433.5,582.8 431.9,582.8 431.9,585.1 430.3,585.1 430.3,586.2 428.7,586.2 428.7,587.2 427.1,587.2 427.1,593.5 425.5,593.5 425.5,595.0 423.9,595.0 423.9,594.0 422.3,594.0 422.3,598.1 420.7,598.1 420.7,597.6 419.1,597.6 419.1,601.4 417.5,601.4 417.5,603.2 415.9,603.2 415.9,604.5 414.3,604.5 414.3,604.5 412.7,604.5 412.7,604.0 411.1,604.0 411.1,603.6 409.5,603.6 409.5,603.6 407.9,603.6 407.9,604.3 406.3,604.3 406.3,604.6 404.7,604.6 404.7,605.2 403.1,605.2 403.1,605.5 401.5,605.5 401.5,605.4 399.9,605.4 399.9,605.5 398.3,605.5 398.3,606.4 396.7,606.4 396.7,606.8 395.1,606.8 395.1,605.7 393.5,605.7 393.5,604.4 391.9,604.4 391.9,604.8 390.3,604.8 390.3,604.2 388.7,604.2 388.7,604.4 387.1,604.4 387.1,604.3 385.5,604.3 385.5,603.3 383.9,603.3 383.9,604.3 382.3,604.3 382.3,604.1 380.7,604.1 380.7,604.7 379.1,604.7 379.1,604.2 377.5,604.2 377.5,604.5 375.9,604.5 375.9,604.3 374.3,604.3 374.3,604.8 372.7,604.8 372.7,604.2 371.1,604.2 371.1,603.6 369.5,603.6 369.5,604.0 367.9,604.0 367.9,605.2 366.3,605.2 366.3,603.6 364.7,603.6 364.7,605.9 363.1,605.9" fill="#000"/>
<polyline points="363.1,604.5 364.7,604.5 364.7,602.2 366.3,602.2 366.3,602.4 367.9,602.4 367.9,602.5 369.5,602.5 369.5,601.2 371.1,601.2 371.1,602.1 372.7,602.1 372.7,603.4 374.3,603.4 374.3,602.5 375.9,602.5 375.9,602.0 377.5,602.0 377.5,601.8 379.1,601.8 379.1,601.2 380.7,601.2 380.7,602.1 382.3,602.1 382.3,601.3 383.9,601.3 383.9,601.3 385.5,601.3 385.5,602.1 387.1,602.1 387.1,602.9 388.7,602.9 388.7,602.8 390.3,602.8 390.3,603.3 391.9,603.3 391.9,601.7 393.5,601.7 393.5,604.3 395.1,604.3 395.1,605.4 396.7,605.4 396.7,604.9 398.3,604.9 398.3,604.1 399.9,604.1 399.9,604.0 401.5,604.0 401.5,604.0 403.1,604.0 403.1,602.3 404.7,602.3 404.7,602.8 406.3,602.8 406.3,600.9 407.9,600.9 407.9,601.8 409.5,601.8 409.5,601.8 411.1,601.8 411.1,597.6 412.7,597.6 412.7,599.6 414.3,599.6 414.3,596.8 415.9,596.8 415.9,594.2 417.5,594.2 417.5,593.5 419.1,593.5 419.1,592.1 420.7,592.1 420.7,592.1 422.3,592.1 422.3,585.0 423.9,585.0 423.9,586.2 425.5,586.2 425.5,584.6 427.1,584.6 427.1,578.2 428.7,578.2 428.7,577.2 430.3,577.2 430.3,576.1 431.9,576.1 431.9,573.8 433.5,573.8 433.5,577.7 435.1,577.7 435.1,577.7 436.7,577.7 436.7,576.9 438.3,576.9 438.3,579.3 439.9,579.3 439.9,574.9 441.5,574.9 441.5,573.4 443.1,573.4 443.1,572.6 444.7,572.6 444.7,563.4 446.3,563.4 446.3,563.3 447.9,563.3 447.9,564.6 449.5,564.6 449.5,564.0 451.1,564.0 451.1,566.6 452.7,566.6 452.7,561.5 454.3,561.5 454.3,564.2 455.9,564.2 455.9,563.2 457.5,563.2 457.5,561.3 459.1,561.3 459.1,560.2 460.7,560.2 460.7,564.3 462.3,564.3 462.3,567.2 463.9,567.2 463.9,565.4 465.5,565.4 465.5,567.4 467.1,567.4 467.1,567.2 468.7,567.2 468.7,569.7 470.3,569.7 470.3,575.0 471.9,575.0 471.9,573.8 473.5,573.8 473.5,567.7 475.1,567.7 475.1,565.8 476.7,565.8 476.7,559.5 478.3,559.5 478.3,553.5 479.9,553.5 479.9,547.1 481.5,547.1 481.5,562.6 483.1,562.6 483.1,564.3 484.7,564.3 484.7,574.2 486.3,574.2 486.3,580.5 487.9,580.5 487.9,582.5 489.5,582.5 489.5,591.8 491.1,591.8 491.1,591.9 492.7,591.9 492.7,597.1 494.3,597.1 494.3,598.3 495.9,598.3 495.9,600.8 497.5,600.8 497.5,603.3 499.1,603.3 499.1,603.5 500.7,603.5 500.7,604.9 502.3,604.9 502.3,603.2 503.9,603.2 503.9,602.3 505.5,602.3 505.5,603.8 507.1,603.8 507.1,603.5 508.7,603.5" fill="none" stroke="#000" stroke-width="2.4" stroke-linejoin="miter"/>
<rect x="359.9" y="560.3" width="2.1" height="47.0" fill="#000"/>
<rect x="358.9" y="503.7" width="157.1" height="104.9" fill="none" stroke="#000" stroke-width="2.0"/>
<text x="460.8" y="525.1" class="lb">MHC II</text>
</g>
<polyline points="38.8,148.0 39.8,146.3 39.8,137.7 41.2,136.0 41.2,129.0 43.1,127.0 43.1,104.4 44.2,101.6 46.1,99.7 46.1,68.1 47.5,63.4 48.0,61.6 48.9,58.3 49.5,58.0" fill="none" stroke="#000" stroke-width="1.7" stroke-dasharray="1.5,1.5"/>
<polyline points="55.5,58.0 55.5,62.0 54.9,70.0 55.4,74.6 56.8,78.3 58.7,80.2 58.7,84.8 60.0,88.6 60.5,93.2 60.5,98.8 61.9,102.5 61.9,106.2 64.0,110.0 66.0,115.0 67.0,122.0 68.5,128.0 70.0,133.0 71.5,139.0 72.5,144.0" fill="none" stroke="#000" stroke-width="1.7" stroke-dasharray="1.5,1.5"/>
<path d="M52,59 h4 M52,62 h4 M52.5,65 h3" stroke="#000" stroke-width="1.2"/>
</svg>
</body></html>
